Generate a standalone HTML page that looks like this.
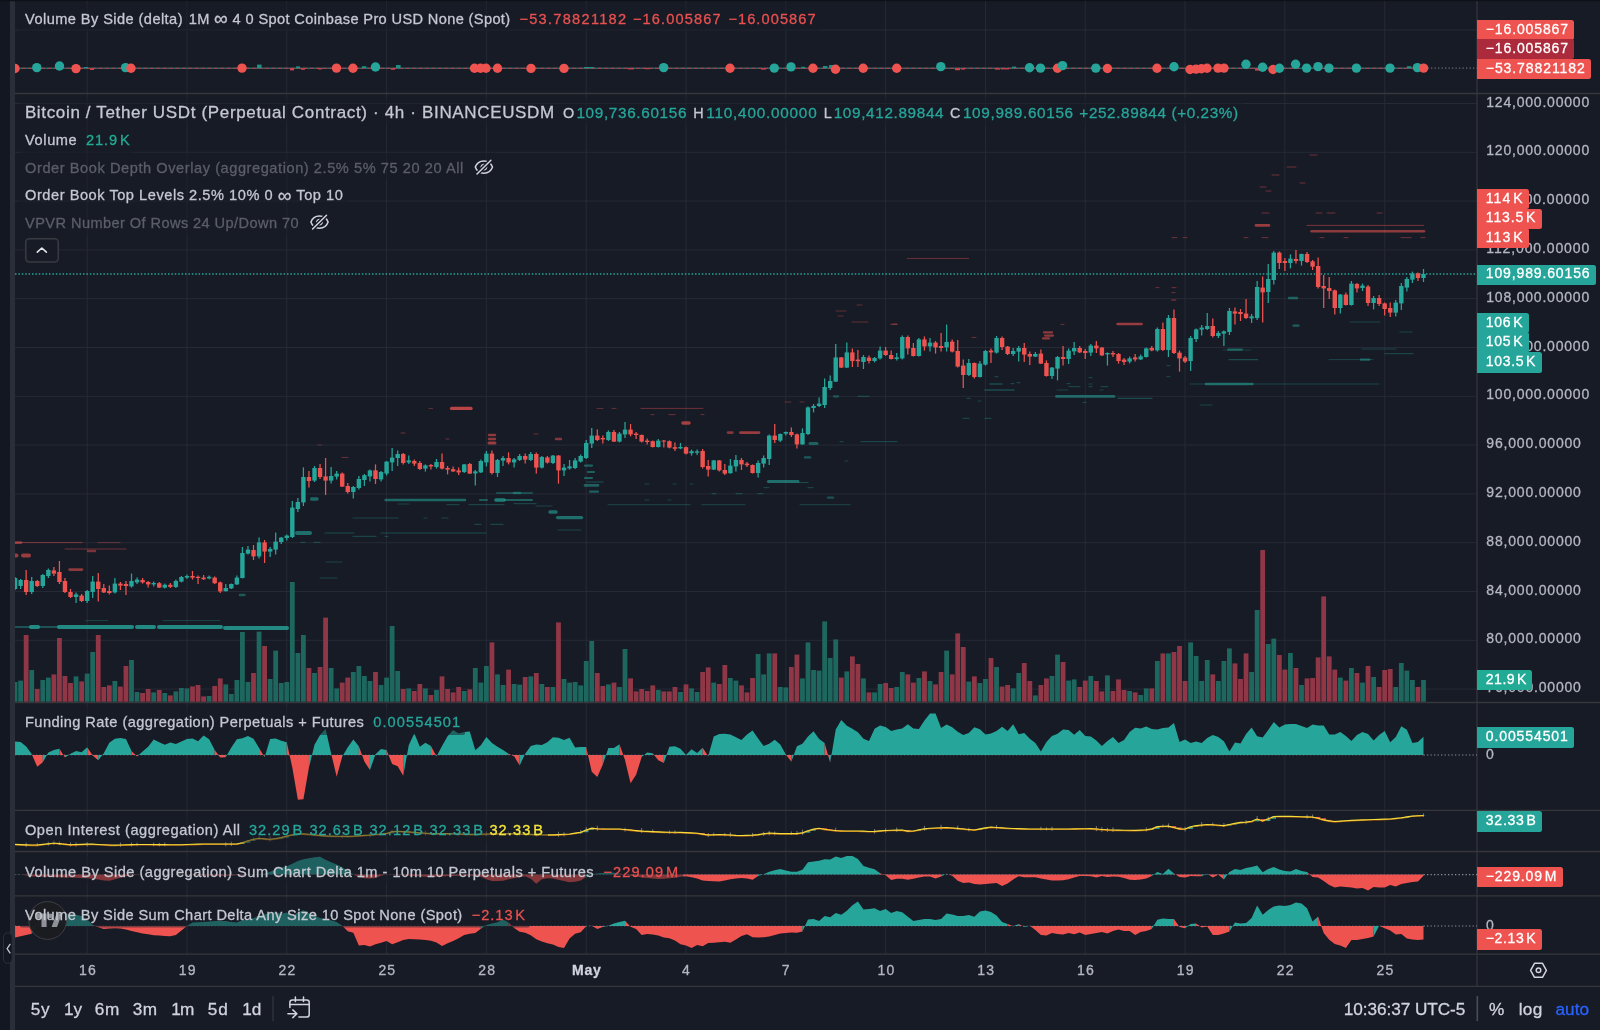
<!DOCTYPE html>
<html><head><meta charset="utf-8"><title>BTCUSDT.P chart</title>
<style>
html,body{margin:0;padding:0;background:#171b26;overflow:hidden;}
#root{position:relative;width:1600px;height:1030px;overflow:hidden;background:#171b26;font-family:"Liberation Sans",sans-serif;}
#root svg{position:absolute;left:0;top:0;}
#labels{position:absolute;left:0;top:0;width:1600px;height:1030px;will-change:transform;}
.tag{position:absolute;border-radius:0 2.5px 2.5px 0;}
.t{position:absolute;white-space:pre;font-family:"Liberation Sans",sans-serif;-webkit-text-stroke:0.3px currentColor;}
</style></head><body>
<div id="root">
<svg width="1600" height="1030" viewBox="0 0 1600 1030">
<rect x="0.00" y="0.00" width="1600.00" height="1030.00" fill="#171b26" />
<rect x="0.00" y="0.00" width="10.00" height="1030.00" fill="#131722" />
<rect x="10.00" y="0.00" width="5.00" height="1030.00" fill="#2a2e39" />
<rect x="0.00" y="0.00" width="1600.00" height="1.20" fill="#0e1118" />
<line x1="87.16" y1="1.00" x2="87.16" y2="954.00" stroke="#262a36" stroke-width="1" />
<line x1="186.97" y1="1.00" x2="186.97" y2="954.00" stroke="#262a36" stroke-width="1" />
<line x1="286.77" y1="1.00" x2="286.77" y2="954.00" stroke="#262a36" stroke-width="1" />
<line x1="386.58" y1="1.00" x2="386.58" y2="954.00" stroke="#262a36" stroke-width="1" />
<line x1="486.39" y1="1.00" x2="486.39" y2="954.00" stroke="#262a36" stroke-width="1" />
<line x1="586.21" y1="1.00" x2="586.21" y2="954.00" stroke="#262a36" stroke-width="1" />
<line x1="686.01" y1="1.00" x2="686.01" y2="954.00" stroke="#262a36" stroke-width="1" />
<line x1="785.83" y1="1.00" x2="785.83" y2="954.00" stroke="#262a36" stroke-width="1" />
<line x1="885.63" y1="1.00" x2="885.63" y2="954.00" stroke="#262a36" stroke-width="1" />
<line x1="985.45" y1="1.00" x2="985.45" y2="954.00" stroke="#262a36" stroke-width="1" />
<line x1="1085.25" y1="1.00" x2="1085.25" y2="954.00" stroke="#262a36" stroke-width="1" />
<line x1="1185.06" y1="1.00" x2="1185.06" y2="954.00" stroke="#262a36" stroke-width="1" />
<line x1="1284.88" y1="1.00" x2="1284.88" y2="954.00" stroke="#262a36" stroke-width="1" />
<line x1="1384.68" y1="1.00" x2="1384.68" y2="954.00" stroke="#262a36" stroke-width="1" />
<line x1="15.00" y1="103.50" x2="1477.00" y2="103.50" stroke="#262a36" stroke-width="1" />
<line x1="15.00" y1="152.30" x2="1477.00" y2="152.30" stroke="#262a36" stroke-width="1" />
<line x1="15.00" y1="201.10" x2="1477.00" y2="201.10" stroke="#262a36" stroke-width="1" />
<line x1="15.00" y1="249.90" x2="1477.00" y2="249.90" stroke="#262a36" stroke-width="1" />
<line x1="15.00" y1="298.70" x2="1477.00" y2="298.70" stroke="#262a36" stroke-width="1" />
<line x1="15.00" y1="347.50" x2="1477.00" y2="347.50" stroke="#262a36" stroke-width="1" />
<line x1="15.00" y1="396.30" x2="1477.00" y2="396.30" stroke="#262a36" stroke-width="1" />
<line x1="15.00" y1="445.10" x2="1477.00" y2="445.10" stroke="#262a36" stroke-width="1" />
<line x1="15.00" y1="493.90" x2="1477.00" y2="493.90" stroke="#262a36" stroke-width="1" />
<line x1="15.00" y1="542.70" x2="1477.00" y2="542.70" stroke="#262a36" stroke-width="1" />
<line x1="15.00" y1="591.50" x2="1477.00" y2="591.50" stroke="#262a36" stroke-width="1" />
<line x1="15.00" y1="640.30" x2="1477.00" y2="640.30" stroke="#262a36" stroke-width="1" />
<line x1="15.00" y1="689.10" x2="1477.00" y2="689.10" stroke="#262a36" stroke-width="1" />
<line x1="15.00" y1="30.00" x2="1477.00" y2="30.00" stroke="#262a36" stroke-width="1" />
<line x1="15.00" y1="93.50" x2="1600.00" y2="93.50" stroke="#37373b" stroke-width="1.3" />
<line x1="15.00" y1="702.50" x2="1600.00" y2="702.50" stroke="#37373b" stroke-width="1.3" />
<line x1="15.00" y1="810.30" x2="1600.00" y2="810.30" stroke="#37373b" stroke-width="1.3" />
<line x1="15.00" y1="851.50" x2="1600.00" y2="851.50" stroke="#37373b" stroke-width="1.3" />
<line x1="15.00" y1="895.80" x2="1600.00" y2="895.80" stroke="#37373b" stroke-width="1.3" />
<line x1="15.00" y1="954.20" x2="1600.00" y2="954.20" stroke="#37373b" stroke-width="1.3" />
<line x1="15.00" y1="986.30" x2="1600.00" y2="986.30" stroke="#37373b" stroke-width="1.3" />
<line x1="1477.00" y1="1.00" x2="1477.00" y2="986.00" stroke="#37373b" stroke-width="1.2" />
<clipPath id="cc"><rect x="15" y="0" width="1462" height="954"/></clipPath><g clip-path="url(#cc)">
<line x1="15.0" y1="627.0" x2="30.0" y2="627.0" stroke="#26a69a" stroke-opacity="0.55" stroke-width="1.6" stroke-linecap="round"/>
<line x1="31.0" y1="627.0" x2="38.0" y2="627.0" stroke="#26a69a" stroke-opacity="0.8" stroke-width="4" stroke-linecap="round"/>
<line x1="39.0" y1="627.0" x2="58.0" y2="627.0" stroke="#26a69a" stroke-opacity="0.55" stroke-width="1.6" stroke-linecap="round"/>
<line x1="59.0" y1="627.0" x2="132.0" y2="627.0" stroke="#26a69a" stroke-opacity="0.8" stroke-width="4" stroke-linecap="round"/>
<line x1="137.0" y1="627.0" x2="154.0" y2="627.0" stroke="#26a69a" stroke-opacity="0.8" stroke-width="4" stroke-linecap="round"/>
<line x1="159.0" y1="627.0" x2="221.0" y2="627.0" stroke="#26a69a" stroke-opacity="0.8" stroke-width="4" stroke-linecap="round"/>
<line x1="225.0" y1="628.0" x2="287.0" y2="628.0" stroke="#26a69a" stroke-opacity="0.8" stroke-width="4" stroke-linecap="round"/>
<line x1="1311.6" y1="231.3" x2="1424.0" y2="231.3" stroke="#ef5350" stroke-opacity="0.55" stroke-width="2.6" stroke-linecap="round"/>
<line x1="1307.0" y1="225.4" x2="1423.6" y2="225.4" stroke="#ef5350" stroke-opacity="0.45" stroke-width="1.0" stroke-linecap="round"/>
<line x1="1256.0" y1="225.4" x2="1269.0" y2="225.4" stroke="#ef5350" stroke-opacity="0.6" stroke-width="2.6" stroke-linecap="round"/>
<line x1="451.6" y1="408.4" x2="471.0" y2="408.4" stroke="#ef5350" stroke-opacity="0.75" stroke-width="3.4" stroke-linecap="round"/>
<line x1="385.6" y1="500.0" x2="465.0" y2="500.0" stroke="#26a69a" stroke-opacity="0.55" stroke-width="2.4" stroke-linecap="round"/>
<line x1="496.0" y1="500.0" x2="504.0" y2="500.0" stroke="#26a69a" stroke-opacity="0.7" stroke-width="3.6" stroke-linecap="round"/>
<line x1="505.0" y1="500.0" x2="532.0" y2="500.0" stroke="#26a69a" stroke-opacity="0.5" stroke-width="2.2" stroke-linecap="round"/>
<line x1="480.0" y1="500.0" x2="487.0" y2="500.0" stroke="#26a69a" stroke-opacity="0.45" stroke-width="2" stroke-linecap="round"/>
<line x1="557.6" y1="517.6" x2="581.6" y2="517.6" stroke="#26a69a" stroke-opacity="0.6" stroke-width="3.4" stroke-linecap="round"/>
<line x1="550.0" y1="512.0" x2="556.0" y2="512.0" stroke="#26a69a" stroke-opacity="0.6" stroke-width="3.4" stroke-linecap="round"/>
<line x1="297.0" y1="533.0" x2="310.0" y2="533.0" stroke="#26a69a" stroke-opacity="0.6" stroke-width="4" stroke-linecap="round"/>
<line x1="325.0" y1="533.0" x2="354.0" y2="533.0" stroke="#26a69a" stroke-opacity="0.35" stroke-width="1.2" stroke-linecap="round"/>
<line x1="381.0" y1="533.0" x2="486.0" y2="533.0" stroke="#26a69a" stroke-opacity="0.35" stroke-width="1.2" stroke-linecap="round"/>
<line x1="768.4" y1="481.6" x2="798.0" y2="481.6" stroke="#26a69a" stroke-opacity="0.6" stroke-width="3" stroke-linecap="round"/>
<line x1="799.0" y1="482.5" x2="808.0" y2="482.5" stroke="#26a69a" stroke-opacity="0.35" stroke-width="1.2" stroke-linecap="round"/>
<line x1="740.4" y1="432.6" x2="759.0" y2="432.6" stroke="#ef5350" stroke-opacity="0.6" stroke-width="2.6" stroke-linecap="round"/>
<line x1="728.0" y1="432.6" x2="732.4" y2="432.6" stroke="#ef5350" stroke-opacity="0.5" stroke-width="2.6" stroke-linecap="round"/>
<line x1="683.0" y1="423.0" x2="689.0" y2="423.0" stroke="#ef5350" stroke-opacity="0.65" stroke-width="3.6" stroke-linecap="round"/>
<line x1="641.0" y1="408.4" x2="703.0" y2="408.4" stroke="#ef5350" stroke-opacity="0.4" stroke-width="1.0" stroke-linecap="round"/>
<line x1="597.0" y1="408.4" x2="603.0" y2="408.4" stroke="#ef5350" stroke-opacity="0.4" stroke-width="1" stroke-linecap="round"/>
<line x1="612.0" y1="408.4" x2="616.0" y2="408.4" stroke="#ef5350" stroke-opacity="0.4" stroke-width="1" stroke-linecap="round"/>
<line x1="585.0" y1="465.6" x2="592.0" y2="465.6" stroke="#26a69a" stroke-opacity="0.5" stroke-width="2.2" stroke-linecap="round"/>
<line x1="588.0" y1="472.0" x2="594.0" y2="472.0" stroke="#26a69a" stroke-opacity="0.5" stroke-width="2.2" stroke-linecap="round"/>
<line x1="585.0" y1="478.0" x2="592.0" y2="478.0" stroke="#26a69a" stroke-opacity="0.5" stroke-width="2.2" stroke-linecap="round"/>
<line x1="587.0" y1="482.0" x2="603.0" y2="482.0" stroke="#26a69a" stroke-opacity="0.4" stroke-width="1.2" stroke-linecap="round"/>
<line x1="585.0" y1="485.4" x2="598.0" y2="485.4" stroke="#26a69a" stroke-opacity="0.5" stroke-width="2.6" stroke-linecap="round"/>
<line x1="590.0" y1="491.6" x2="598.0" y2="491.6" stroke="#26a69a" stroke-opacity="0.5" stroke-width="2.2" stroke-linecap="round"/>
<line x1="1117.6" y1="324.0" x2="1141.6" y2="324.0" stroke="#ef5350" stroke-opacity="0.6" stroke-width="2.6" stroke-linecap="round"/>
<line x1="1044.0" y1="332.4" x2="1052.0" y2="332.4" stroke="#ef5350" stroke-opacity="0.55" stroke-width="2.2" stroke-linecap="round"/>
<line x1="1045.0" y1="335.6" x2="1053.0" y2="335.6" stroke="#ef5350" stroke-opacity="0.55" stroke-width="2.2" stroke-linecap="round"/>
<line x1="1043.0" y1="338.4" x2="1049.0" y2="338.4" stroke="#ef5350" stroke-opacity="0.55" stroke-width="2.2" stroke-linecap="round"/>
<line x1="1056.4" y1="396.4" x2="1114.0" y2="396.4" stroke="#26a69a" stroke-opacity="0.55" stroke-width="2.6" stroke-linecap="round"/>
<line x1="1118.0" y1="398.4" x2="1152.0" y2="398.4" stroke="#26a69a" stroke-opacity="0.35" stroke-width="1.2" stroke-linecap="round"/>
<line x1="985.0" y1="390.0" x2="1014.0" y2="390.0" stroke="#26a69a" stroke-opacity="0.35" stroke-width="1.6" stroke-linecap="round"/>
<line x1="990.0" y1="384.0" x2="1002.0" y2="384.0" stroke="#26a69a" stroke-opacity="0.35" stroke-width="1.4" stroke-linecap="round"/>
<line x1="907.4" y1="258.4" x2="968.6" y2="258.4" stroke="#ef5350" stroke-opacity="0.4" stroke-width="1.0" stroke-linecap="round"/>
<line x1="1206.0" y1="384.0" x2="1252.4" y2="384.0" stroke="#26a69a" stroke-opacity="0.55" stroke-width="2.6" stroke-linecap="round"/>
<line x1="1190.0" y1="384.0" x2="1379.0" y2="384.0" stroke="#26a69a" stroke-opacity="0.3" stroke-width="1.0" stroke-linecap="round"/>
<line x1="1289.0" y1="298.0" x2="1297.0" y2="298.0" stroke="#26a69a" stroke-opacity="0.5" stroke-width="2.4" stroke-linecap="round"/>
<line x1="1293.6" y1="325.6" x2="1298.4" y2="325.6" stroke="#26a69a" stroke-opacity="0.5" stroke-width="2.4" stroke-linecap="round"/>
<line x1="1228.4" y1="349.6" x2="1241.6" y2="349.6" stroke="#26a69a" stroke-opacity="0.5" stroke-width="2.4" stroke-linecap="round"/>
<line x1="1229.0" y1="359.6" x2="1257.6" y2="359.6" stroke="#26a69a" stroke-opacity="0.35" stroke-width="1.2" stroke-linecap="round"/>
<line x1="1361.0" y1="359.6" x2="1369.0" y2="359.6" stroke="#26a69a" stroke-opacity="0.5" stroke-width="2.4" stroke-linecap="round"/>
<line x1="1329.0" y1="359.6" x2="1373.0" y2="359.6" stroke="#26a69a" stroke-opacity="0.3" stroke-width="1.0" stroke-linecap="round"/>
<line x1="15.0" y1="542.6" x2="82.0" y2="542.6" stroke="#ef5350" stroke-opacity="0.45" stroke-width="1.0" stroke-linecap="round"/>
<line x1="98.0" y1="542.6" x2="120.0" y2="542.6" stroke="#ef5350" stroke-opacity="0.35" stroke-width="1" stroke-linecap="round"/>
<line x1="15.0" y1="542.6" x2="21.0" y2="542.6" stroke="#ef5350" stroke-opacity="0.5" stroke-width="2.6" stroke-linecap="round"/>
<line x1="23.0" y1="555.6" x2="29.0" y2="555.6" stroke="#ef5350" stroke-opacity="0.6" stroke-width="4" stroke-linecap="round"/>
<line x1="15.0" y1="555.6" x2="16.5" y2="555.6" stroke="#ef5350" stroke-opacity="0.6" stroke-width="4" stroke-linecap="round"/>
<line x1="65.0" y1="549.0" x2="126.0" y2="549.0" stroke="#ef5350" stroke-opacity="0.4" stroke-width="1.0" stroke-linecap="round"/>
<line x1="88.0" y1="551.0" x2="95.0" y2="551.0" stroke="#ef5350" stroke-opacity="0.45" stroke-width="2.4" stroke-linecap="round"/>
<line x1="69.6" y1="569.6" x2="82.0" y2="569.6" stroke="#ef5350" stroke-opacity="0.55" stroke-width="2.6" stroke-linecap="round"/>
<line x1="311.6" y1="499.0" x2="317.0" y2="499.0" stroke="#26a69a" stroke-opacity="0.55" stroke-width="3.4" stroke-linecap="round"/>
<line x1="240.0" y1="595.0" x2="244.4" y2="595.0" stroke="#26a69a" stroke-opacity="0.45" stroke-width="2.6" stroke-linecap="round"/>
<line x1="489.0" y1="435.0" x2="495.0" y2="435.0" stroke="#ef5350" stroke-opacity="0.55" stroke-width="2.4" stroke-linecap="round"/>
<line x1="489.0" y1="439.0" x2="495.0" y2="439.0" stroke="#ef5350" stroke-opacity="0.55" stroke-width="2.4" stroke-linecap="round"/>
<line x1="489.0" y1="443.0" x2="495.0" y2="443.0" stroke="#ef5350" stroke-opacity="0.6" stroke-width="3" stroke-linecap="round"/>
<line x1="556.0" y1="439.0" x2="561.0" y2="439.0" stroke="#ef5350" stroke-opacity="0.5" stroke-width="2.4" stroke-linecap="round"/>
<line x1="497.0" y1="493.0" x2="532.0" y2="493.0" stroke="#26a69a" stroke-opacity="0.35" stroke-width="2" stroke-linecap="round"/>
<line x1="514.0" y1="493.0" x2="520.0" y2="493.0" stroke="#26a69a" stroke-opacity="0.4" stroke-width="2.6" stroke-linecap="round"/>
<line x1="398.0" y1="504.0" x2="409.0" y2="504.0" stroke="#26a69a" stroke-opacity="0.3" stroke-width="1.2" stroke-linecap="round"/>
<line x1="447.0" y1="504.6" x2="459.0" y2="504.6" stroke="#26a69a" stroke-opacity="0.3" stroke-width="1.2" stroke-linecap="round"/>
<line x1="469.0" y1="504.6" x2="504.0" y2="504.6" stroke="#26a69a" stroke-opacity="0.3" stroke-width="1.2" stroke-linecap="round"/>
<line x1="514.0" y1="503.6" x2="536.0" y2="503.6" stroke="#26a69a" stroke-opacity="0.3" stroke-width="1.2" stroke-linecap="round"/>
<line x1="536.0" y1="506.0" x2="552.0" y2="506.0" stroke="#26a69a" stroke-opacity="0.3" stroke-width="1.2" stroke-linecap="round"/>
<line x1="353.0" y1="518.0" x2="398.0" y2="518.0" stroke="#26a69a" stroke-opacity="0.3" stroke-width="1.2" stroke-linecap="round"/>
<line x1="424.0" y1="518.0" x2="427.0" y2="518.0" stroke="#26a69a" stroke-opacity="0.3" stroke-width="1.2" stroke-linecap="round"/>
<line x1="442.0" y1="518.0" x2="448.0" y2="518.0" stroke="#26a69a" stroke-opacity="0.3" stroke-width="1.2" stroke-linecap="round"/>
<line x1="475.0" y1="524.4" x2="481.0" y2="524.4" stroke="#26a69a" stroke-opacity="0.3" stroke-width="1.2" stroke-linecap="round"/>
<line x1="491.0" y1="524.4" x2="503.0" y2="524.4" stroke="#26a69a" stroke-opacity="0.3" stroke-width="1.2" stroke-linecap="round"/>
<line x1="558.0" y1="530.0" x2="581.0" y2="530.0" stroke="#26a69a" stroke-opacity="0.3" stroke-width="1.2" stroke-linecap="round"/>
<line x1="353.0" y1="536.4" x2="376.0" y2="536.4" stroke="#26a69a" stroke-opacity="0.3" stroke-width="1.2" stroke-linecap="round"/>
<line x1="385.0" y1="536.4" x2="388.0" y2="536.4" stroke="#26a69a" stroke-opacity="0.3" stroke-width="1.2" stroke-linecap="round"/>
<line x1="301.0" y1="542.4" x2="305.0" y2="542.4" stroke="#26a69a" stroke-opacity="0.3" stroke-width="1.2" stroke-linecap="round"/>
<line x1="314.0" y1="542.4" x2="320.0" y2="542.4" stroke="#26a69a" stroke-opacity="0.3" stroke-width="1.2" stroke-linecap="round"/>
<line x1="429.0" y1="408.4" x2="432.4" y2="408.4" stroke="#ef5350" stroke-opacity="0.4" stroke-width="1" stroke-linecap="round"/>
<line x1="401.0" y1="433.0" x2="405.0" y2="433.0" stroke="#ef5350" stroke-opacity="0.4" stroke-width="1" stroke-linecap="round"/>
<line x1="446.0" y1="439.0" x2="449.0" y2="439.0" stroke="#ef5350" stroke-opacity="0.4" stroke-width="1" stroke-linecap="round"/>
<line x1="318.0" y1="445.0" x2="321.6" y2="445.0" stroke="#ef5350" stroke-opacity="0.35" stroke-width="1" stroke-linecap="round"/>
<line x1="342.0" y1="457.4" x2="348.0" y2="457.4" stroke="#ef5350" stroke-opacity="0.4" stroke-width="1" stroke-linecap="round"/>
<line x1="534.0" y1="434.0" x2="538.0" y2="434.0" stroke="#ef5350" stroke-opacity="0.4" stroke-width="1" stroke-linecap="round"/>
<line x1="1156.0" y1="287.6" x2="1159.0" y2="287.6" stroke="#ef5350" stroke-opacity="0.4" stroke-width="1" stroke-linecap="round"/>
<line x1="1172.0" y1="287.6" x2="1176.0" y2="287.6" stroke="#ef5350" stroke-opacity="0.4" stroke-width="1" stroke-linecap="round"/>
<line x1="1172.0" y1="292.6" x2="1175.0" y2="292.6" stroke="#ef5350" stroke-opacity="0.4" stroke-width="1" stroke-linecap="round"/>
<line x1="1172.0" y1="300.0" x2="1175.6" y2="300.0" stroke="#ef5350" stroke-opacity="0.4" stroke-width="1.6" stroke-linecap="round"/>
<line x1="891.0" y1="324.4" x2="897.0" y2="324.4" stroke="#ef5350" stroke-opacity="0.4" stroke-width="1.4" stroke-linecap="round"/>
<line x1="972.0" y1="337.4" x2="976.0" y2="337.4" stroke="#ef5350" stroke-opacity="0.4" stroke-width="1" stroke-linecap="round"/>
<line x1="1061.0" y1="324.4" x2="1064.0" y2="324.4" stroke="#ef5350" stroke-opacity="0.4" stroke-width="1" stroke-linecap="round"/>
<line x1="1167.0" y1="365.6" x2="1170.0" y2="365.6" stroke="#26a69a" stroke-opacity="0.3" stroke-width="1.2" stroke-linecap="round"/>
<line x1="1167.0" y1="376.6" x2="1170.0" y2="376.6" stroke="#26a69a" stroke-opacity="0.3" stroke-width="1.2" stroke-linecap="round"/>
<line x1="995.0" y1="376.6" x2="998.0" y2="376.6" stroke="#26a69a" stroke-opacity="0.3" stroke-width="1.2" stroke-linecap="round"/>
<line x1="1011.0" y1="383.6" x2="1014.0" y2="383.6" stroke="#26a69a" stroke-opacity="0.3" stroke-width="1.2" stroke-linecap="round"/>
<line x1="1017.0" y1="382.6" x2="1020.0" y2="382.6" stroke="#26a69a" stroke-opacity="0.3" stroke-width="1.2" stroke-linecap="round"/>
<line x1="1089.0" y1="377.6" x2="1092.0" y2="377.6" stroke="#26a69a" stroke-opacity="0.3" stroke-width="1.2" stroke-linecap="round"/>
<line x1="1067.0" y1="383.6" x2="1070.0" y2="383.6" stroke="#26a69a" stroke-opacity="0.3" stroke-width="1.2" stroke-linecap="round"/>
<line x1="1069.0" y1="386.6" x2="1080.0" y2="386.6" stroke="#26a69a" stroke-opacity="0.3" stroke-width="1.2" stroke-linecap="round"/>
<line x1="1089.0" y1="384.0" x2="1092.0" y2="384.0" stroke="#26a69a" stroke-opacity="0.3" stroke-width="1.2" stroke-linecap="round"/>
<line x1="1089.0" y1="386.6" x2="1092.0" y2="386.6" stroke="#26a69a" stroke-opacity="0.3" stroke-width="1.2" stroke-linecap="round"/>
<line x1="1101.0" y1="386.6" x2="1108.0" y2="386.6" stroke="#26a69a" stroke-opacity="0.3" stroke-width="1.2" stroke-linecap="round"/>
<line x1="1057.0" y1="390.0" x2="1068.0" y2="390.0" stroke="#26a69a" stroke-opacity="0.3" stroke-width="1.2" stroke-linecap="round"/>
<line x1="1100.0" y1="390.0" x2="1103.0" y2="390.0" stroke="#26a69a" stroke-opacity="0.3" stroke-width="1.2" stroke-linecap="round"/>
<line x1="1083.0" y1="402.4" x2="1086.0" y2="402.4" stroke="#26a69a" stroke-opacity="0.3" stroke-width="1.2" stroke-linecap="round"/>
<line x1="967.0" y1="398.4" x2="970.0" y2="398.4" stroke="#26a69a" stroke-opacity="0.3" stroke-width="1.2" stroke-linecap="round"/>
<line x1="978.0" y1="401.0" x2="981.0" y2="401.0" stroke="#26a69a" stroke-opacity="0.3" stroke-width="1.2" stroke-linecap="round"/>
<line x1="963.0" y1="418.4" x2="969.0" y2="418.4" stroke="#26a69a" stroke-opacity="0.3" stroke-width="1.2" stroke-linecap="round"/>
<line x1="985.0" y1="418.4" x2="991.0" y2="418.4" stroke="#26a69a" stroke-opacity="0.3" stroke-width="1.2" stroke-linecap="round"/>
<line x1="810.0" y1="443.6" x2="817.0" y2="443.6" stroke="#26a69a" stroke-opacity="0.5" stroke-width="3" stroke-linecap="round"/>
<line x1="805.0" y1="457.4" x2="810.0" y2="457.4" stroke="#26a69a" stroke-opacity="0.45" stroke-width="2.4" stroke-linecap="round"/>
<line x1="845.0" y1="461.0" x2="848.0" y2="461.0" stroke="#26a69a" stroke-opacity="0.3" stroke-width="1.2" stroke-linecap="round"/>
<line x1="828.0" y1="497.6" x2="833.0" y2="497.6" stroke="#26a69a" stroke-opacity="0.4" stroke-width="2.4" stroke-linecap="round"/>
<line x1="840.0" y1="441.6" x2="843.0" y2="441.6" stroke="#26a69a" stroke-opacity="0.3" stroke-width="1.2" stroke-linecap="round"/>
<line x1="834.0" y1="396.4" x2="838.0" y2="396.4" stroke="#26a69a" stroke-opacity="0.4" stroke-width="2.2" stroke-linecap="round"/>
<line x1="858.0" y1="396.4" x2="869.0" y2="396.4" stroke="#26a69a" stroke-opacity="0.3" stroke-width="1.2" stroke-linecap="round"/>
<line x1="764.0" y1="487.6" x2="769.0" y2="487.6" stroke="#26a69a" stroke-opacity="0.3" stroke-width="1.2" stroke-linecap="round"/>
<line x1="808.0" y1="487.6" x2="813.0" y2="487.6" stroke="#26a69a" stroke-opacity="0.3" stroke-width="1.2" stroke-linecap="round"/>
<line x1="712.0" y1="493.6" x2="716.0" y2="493.6" stroke="#26a69a" stroke-opacity="0.3" stroke-width="1.2" stroke-linecap="round"/>
<line x1="736.0" y1="493.6" x2="742.0" y2="493.6" stroke="#26a69a" stroke-opacity="0.3" stroke-width="1.2" stroke-linecap="round"/>
<line x1="758.0" y1="493.6" x2="763.0" y2="493.6" stroke="#26a69a" stroke-opacity="0.3" stroke-width="1.2" stroke-linecap="round"/>
<line x1="645.0" y1="500.0" x2="649.0" y2="500.0" stroke="#26a69a" stroke-opacity="0.3" stroke-width="1.2" stroke-linecap="round"/>
<line x1="668.0" y1="500.0" x2="671.0" y2="500.0" stroke="#26a69a" stroke-opacity="0.3" stroke-width="1.2" stroke-linecap="round"/>
<line x1="651.0" y1="414.6" x2="654.0" y2="414.6" stroke="#ef5350" stroke-opacity="0.4" stroke-width="1" stroke-linecap="round"/>
<line x1="669.0" y1="414.6" x2="675.0" y2="414.6" stroke="#ef5350" stroke-opacity="0.4" stroke-width="1" stroke-linecap="round"/>
<line x1="701.0" y1="414.6" x2="704.0" y2="414.6" stroke="#ef5350" stroke-opacity="0.4" stroke-width="1" stroke-linecap="round"/>
<line x1="608.0" y1="504.6" x2="690.0" y2="504.6" stroke="#26a69a" stroke-opacity="0.25" stroke-width="1.2" stroke-linecap="round"/>
<line x1="702.0" y1="504.6" x2="745.0" y2="504.6" stroke="#26a69a" stroke-opacity="0.25" stroke-width="1.2" stroke-linecap="round"/>
<line x1="800.0" y1="504.6" x2="850.0" y2="504.6" stroke="#26a69a" stroke-opacity="0.25" stroke-width="1.2" stroke-linecap="round"/>
<line x1="320.0" y1="578.0" x2="337.0" y2="578.0" stroke="#26a69a" stroke-opacity="0.3" stroke-width="1" stroke-linecap="round"/>
<line x1="326.0" y1="562.0" x2="342.0" y2="562.0" stroke="#26a69a" stroke-opacity="0.3" stroke-width="1" stroke-linecap="round"/>
<line x1="163.0" y1="620.6" x2="220.0" y2="620.6" stroke="#26a69a" stroke-opacity="0.3" stroke-width="1.0" stroke-linecap="round"/>
<line x1="86.0" y1="620.6" x2="108.0" y2="620.6" stroke="#26a69a" stroke-opacity="0.3" stroke-width="1" stroke-linecap="round"/>
<line x1="1350.0" y1="322.0" x2="1380.0" y2="322.0" stroke="#26a69a" stroke-opacity="0.3" stroke-width="1.2" stroke-linecap="round"/>
<line x1="1400.0" y1="332.0" x2="1412.0" y2="332.0" stroke="#26a69a" stroke-opacity="0.3" stroke-width="1.2" stroke-linecap="round"/>
<line x1="1362.0" y1="349.0" x2="1396.0" y2="349.0" stroke="#26a69a" stroke-opacity="0.3" stroke-width="1.2" stroke-linecap="round"/>
<line x1="1385.0" y1="353.6" x2="1413.0" y2="353.6" stroke="#26a69a" stroke-opacity="0.3" stroke-width="1.2" stroke-linecap="round"/>
<line x1="1200.0" y1="405.0" x2="1212.0" y2="405.0" stroke="#26a69a" stroke-opacity="0.3" stroke-width="1.2" stroke-linecap="round"/>
<line x1="1223.0" y1="350.0" x2="1251.0" y2="350.0" stroke="#26a69a" stroke-opacity="0.25" stroke-width="1.0" stroke-linecap="round"/>
<line x1="1310.0" y1="155.0" x2="1317.0" y2="155.0" stroke="#ef5350" stroke-opacity="0.4" stroke-width="1" stroke-linecap="round"/>
<line x1="1287.0" y1="167.0" x2="1296.0" y2="167.0" stroke="#ef5350" stroke-opacity="0.4" stroke-width="1" stroke-linecap="round"/>
<line x1="1272.0" y1="175.0" x2="1279.0" y2="175.0" stroke="#ef5350" stroke-opacity="0.4" stroke-width="1" stroke-linecap="round"/>
<line x1="1300.0" y1="183.0" x2="1305.0" y2="183.0" stroke="#ef5350" stroke-opacity="0.4" stroke-width="1" stroke-linecap="round"/>
<line x1="1260.0" y1="187.0" x2="1266.0" y2="187.0" stroke="#ef5350" stroke-opacity="0.4" stroke-width="1" stroke-linecap="round"/>
<line x1="1266.0" y1="191.0" x2="1271.0" y2="191.0" stroke="#ef5350" stroke-opacity="0.4" stroke-width="1" stroke-linecap="round"/>
<line x1="1262.0" y1="213.0" x2="1269.0" y2="213.0" stroke="#ef5350" stroke-opacity="0.4" stroke-width="1" stroke-linecap="round"/>
<line x1="1316.0" y1="213.0" x2="1322.0" y2="213.0" stroke="#ef5350" stroke-opacity="0.4" stroke-width="1" stroke-linecap="round"/>
<line x1="1327.0" y1="213.0" x2="1335.0" y2="213.0" stroke="#ef5350" stroke-opacity="0.4" stroke-width="1" stroke-linecap="round"/>
<line x1="1377.0" y1="213.0" x2="1382.0" y2="213.0" stroke="#ef5350" stroke-opacity="0.4" stroke-width="1" stroke-linecap="round"/>
<line x1="1172.0" y1="237.6" x2="1177.0" y2="237.6" stroke="#ef5350" stroke-opacity="0.4" stroke-width="1" stroke-linecap="round"/>
<line x1="1183.0" y1="237.6" x2="1187.0" y2="237.6" stroke="#ef5350" stroke-opacity="0.4" stroke-width="1" stroke-linecap="round"/>
<line x1="1244.0" y1="237.6" x2="1248.0" y2="237.6" stroke="#ef5350" stroke-opacity="0.4" stroke-width="1" stroke-linecap="round"/>
<line x1="1262.0" y1="237.6" x2="1268.0" y2="237.6" stroke="#ef5350" stroke-opacity="0.4" stroke-width="1" stroke-linecap="round"/>
<line x1="1320.0" y1="237.6" x2="1324.0" y2="237.6" stroke="#ef5350" stroke-opacity="0.4" stroke-width="1" stroke-linecap="round"/>
<line x1="1344.0" y1="237.6" x2="1348.0" y2="237.6" stroke="#ef5350" stroke-opacity="0.4" stroke-width="1" stroke-linecap="round"/>
<line x1="1401.0" y1="237.6" x2="1411.0" y2="237.6" stroke="#ef5350" stroke-opacity="0.4" stroke-width="1" stroke-linecap="round"/>
<line x1="1421.0" y1="237.6" x2="1425.0" y2="237.6" stroke="#ef5350" stroke-opacity="0.4" stroke-width="1" stroke-linecap="round"/>
<line x1="836.0" y1="311.0" x2="846.0" y2="311.0" stroke="#ef5350" stroke-opacity="0.35" stroke-width="1" stroke-linecap="round"/>
<line x1="857.0" y1="305.0" x2="862.0" y2="305.0" stroke="#ef5350" stroke-opacity="0.35" stroke-width="1" stroke-linecap="round"/>
<line x1="838.0" y1="316.0" x2="843.0" y2="316.0" stroke="#ef5350" stroke-opacity="0.35" stroke-width="1" stroke-linecap="round"/>
<line x1="852.0" y1="322.0" x2="868.0" y2="322.0" stroke="#ef5350" stroke-opacity="0.35" stroke-width="1" stroke-linecap="round"/>
<line x1="893.0" y1="324.0" x2="897.0" y2="324.0" stroke="#ef5350" stroke-opacity="0.35" stroke-width="1" stroke-linecap="round"/>
<line x1="785.0" y1="402.0" x2="791.0" y2="402.0" stroke="#ef5350" stroke-opacity="0.35" stroke-width="1" stroke-linecap="round"/>
<line x1="800.0" y1="402.0" x2="804.0" y2="402.0" stroke="#ef5350" stroke-opacity="0.35" stroke-width="1" stroke-linecap="round"/>
<line x1="645.0" y1="484.0" x2="649.0" y2="484.0" stroke="#26a69a" stroke-opacity="0.3" stroke-width="1.2" stroke-linecap="round"/>
<line x1="673.0" y1="484.0" x2="676.0" y2="484.0" stroke="#26a69a" stroke-opacity="0.3" stroke-width="1.2" stroke-linecap="round"/>
<line x1="690.0" y1="484.0" x2="693.0" y2="484.0" stroke="#26a69a" stroke-opacity="0.3" stroke-width="1.2" stroke-linecap="round"/>
<line x1="861.0" y1="441.6" x2="897.0" y2="441.6" stroke="#26a69a" stroke-opacity="0.3" stroke-width="1.2" stroke-linecap="round"/>
<rect x="12.67" y="682.00" width="4.80" height="19.70" fill="#1d675f" />
<rect x="18.22" y="680.60" width="4.80" height="21.10" fill="#1d675f" />
<rect x="23.76" y="635.00" width="4.80" height="66.70" fill="#8f3746" />
<rect x="29.30" y="670.00" width="4.80" height="31.70" fill="#1d675f" />
<rect x="34.85" y="689.00" width="4.80" height="12.70" fill="#8f3746" />
<rect x="40.40" y="680.00" width="4.80" height="21.70" fill="#1d675f" />
<rect x="45.94" y="677.60" width="4.80" height="24.10" fill="#1d675f" />
<rect x="51.48" y="674.40" width="4.80" height="27.30" fill="#8f3746" />
<rect x="57.03" y="638.00" width="4.80" height="63.70" fill="#8f3746" />
<rect x="62.57" y="676.00" width="4.80" height="25.70" fill="#8f3746" />
<rect x="68.12" y="683.00" width="4.80" height="18.70" fill="#8f3746" />
<rect x="73.66" y="676.40" width="4.80" height="25.30" fill="#1d675f" />
<rect x="79.21" y="681.40" width="4.80" height="20.30" fill="#8f3746" />
<rect x="84.75" y="673.60" width="4.80" height="28.10" fill="#1d675f" />
<rect x="90.30" y="652.00" width="4.80" height="49.70" fill="#1d675f" />
<rect x="95.84" y="635.00" width="4.80" height="66.70" fill="#8f3746" />
<rect x="101.39" y="687.00" width="4.80" height="14.70" fill="#8f3746" />
<rect x="106.94" y="685.40" width="4.80" height="16.30" fill="#8f3746" />
<rect x="112.48" y="681.00" width="4.80" height="20.70" fill="#1d675f" />
<rect x="118.03" y="686.60" width="4.80" height="15.10" fill="#8f3746" />
<rect x="123.57" y="666.00" width="4.80" height="35.70" fill="#8f3746" />
<rect x="129.11" y="660.00" width="4.80" height="41.70" fill="#1d675f" />
<rect x="134.66" y="692.00" width="4.80" height="9.70" fill="#1d675f" />
<rect x="140.20" y="693.00" width="4.80" height="8.70" fill="#8f3746" />
<rect x="145.75" y="689.00" width="4.80" height="12.70" fill="#8f3746" />
<rect x="151.29" y="692.40" width="4.80" height="9.30" fill="#1d675f" />
<rect x="156.84" y="690.00" width="4.80" height="11.70" fill="#8f3746" />
<rect x="162.38" y="693.00" width="4.80" height="8.70" fill="#1d675f" />
<rect x="167.93" y="695.40" width="4.80" height="6.30" fill="#8f3746" />
<rect x="173.47" y="691.40" width="4.80" height="10.30" fill="#1d675f" />
<rect x="179.02" y="688.00" width="4.80" height="13.70" fill="#1d675f" />
<rect x="184.56" y="688.40" width="4.80" height="13.30" fill="#1d675f" />
<rect x="190.11" y="686.40" width="4.80" height="15.30" fill="#8f3746" />
<rect x="195.65" y="685.00" width="4.80" height="16.70" fill="#8f3746" />
<rect x="201.20" y="696.40" width="4.80" height="5.30" fill="#8f3746" />
<rect x="206.74" y="696.00" width="4.80" height="5.70" fill="#1d675f" />
<rect x="212.29" y="686.00" width="4.80" height="15.70" fill="#8f3746" />
<rect x="217.83" y="678.40" width="4.80" height="23.30" fill="#8f3746" />
<rect x="223.38" y="684.40" width="4.80" height="17.30" fill="#1d675f" />
<rect x="228.92" y="694.00" width="4.80" height="7.70" fill="#1d675f" />
<rect x="234.47" y="680.00" width="4.80" height="21.70" fill="#1d675f" />
<rect x="240.01" y="632.00" width="4.80" height="69.70" fill="#1d675f" />
<rect x="245.56" y="682.00" width="4.80" height="19.70" fill="#1d675f" />
<rect x="251.10" y="673.00" width="4.80" height="28.70" fill="#8f3746" />
<rect x="256.65" y="631.60" width="4.80" height="70.10" fill="#1d675f" />
<rect x="262.20" y="646.00" width="4.80" height="55.70" fill="#8f3746" />
<rect x="267.74" y="679.00" width="4.80" height="22.70" fill="#1d675f" />
<rect x="273.29" y="650.60" width="4.80" height="51.10" fill="#1d675f" />
<rect x="278.83" y="683.00" width="4.80" height="18.70" fill="#1d675f" />
<rect x="284.38" y="682.00" width="4.80" height="19.70" fill="#1d675f" />
<rect x="289.92" y="582.00" width="4.80" height="119.70" fill="#1d675f" />
<rect x="295.47" y="653.00" width="4.80" height="48.70" fill="#1d675f" />
<rect x="301.01" y="635.00" width="4.80" height="66.70" fill="#1d675f" />
<rect x="306.56" y="668.00" width="4.80" height="33.70" fill="#8f3746" />
<rect x="312.10" y="673.00" width="4.80" height="28.70" fill="#1d675f" />
<rect x="317.65" y="667.00" width="4.80" height="34.70" fill="#8f3746" />
<rect x="323.19" y="617.60" width="4.80" height="84.10" fill="#8f3746" />
<rect x="328.74" y="668.00" width="4.80" height="33.70" fill="#1d675f" />
<rect x="334.28" y="688.40" width="4.80" height="13.30" fill="#1d675f" />
<rect x="339.82" y="682.60" width="4.80" height="19.10" fill="#8f3746" />
<rect x="345.37" y="677.60" width="4.80" height="24.10" fill="#8f3746" />
<rect x="350.92" y="672.00" width="4.80" height="29.70" fill="#1d675f" />
<rect x="356.46" y="666.00" width="4.80" height="35.70" fill="#1d675f" />
<rect x="362.00" y="676.00" width="4.80" height="25.70" fill="#1d675f" />
<rect x="367.55" y="681.00" width="4.80" height="20.70" fill="#1d675f" />
<rect x="373.10" y="672.00" width="4.80" height="29.70" fill="#8f3746" />
<rect x="378.64" y="685.00" width="4.80" height="16.70" fill="#1d675f" />
<rect x="384.19" y="677.60" width="4.80" height="24.10" fill="#1d675f" />
<rect x="389.73" y="626.00" width="4.80" height="75.70" fill="#1d675f" />
<rect x="395.28" y="671.00" width="4.80" height="30.70" fill="#1d675f" />
<rect x="400.82" y="689.00" width="4.80" height="12.70" fill="#8f3746" />
<rect x="406.37" y="688.40" width="4.80" height="13.30" fill="#1d675f" />
<rect x="411.91" y="691.00" width="4.80" height="10.70" fill="#8f3746" />
<rect x="417.45" y="684.00" width="4.80" height="17.70" fill="#8f3746" />
<rect x="423.00" y="688.40" width="4.80" height="13.30" fill="#1d675f" />
<rect x="428.55" y="695.00" width="4.80" height="6.70" fill="#8f3746" />
<rect x="434.09" y="690.00" width="4.80" height="11.70" fill="#1d675f" />
<rect x="439.63" y="676.40" width="4.80" height="25.30" fill="#8f3746" />
<rect x="445.18" y="689.00" width="4.80" height="12.70" fill="#8f3746" />
<rect x="450.73" y="692.40" width="4.80" height="9.30" fill="#8f3746" />
<rect x="456.27" y="687.00" width="4.80" height="14.70" fill="#8f3746" />
<rect x="461.81" y="691.00" width="4.80" height="10.70" fill="#1d675f" />
<rect x="467.36" y="689.40" width="4.80" height="12.30" fill="#8f3746" />
<rect x="472.91" y="668.00" width="4.80" height="33.70" fill="#1d675f" />
<rect x="478.45" y="682.60" width="4.80" height="19.10" fill="#1d675f" />
<rect x="484.00" y="666.00" width="4.80" height="35.70" fill="#1d675f" />
<rect x="489.54" y="642.40" width="4.80" height="59.30" fill="#8f3746" />
<rect x="495.09" y="674.40" width="4.80" height="27.30" fill="#1d675f" />
<rect x="500.63" y="685.00" width="4.80" height="16.70" fill="#1d675f" />
<rect x="506.18" y="669.60" width="4.80" height="32.10" fill="#8f3746" />
<rect x="511.72" y="684.00" width="4.80" height="17.70" fill="#1d675f" />
<rect x="517.26" y="684.60" width="4.80" height="17.10" fill="#1d675f" />
<rect x="522.81" y="677.00" width="4.80" height="24.70" fill="#8f3746" />
<rect x="528.36" y="676.40" width="4.80" height="25.30" fill="#1d675f" />
<rect x="533.90" y="673.00" width="4.80" height="28.70" fill="#8f3746" />
<rect x="539.45" y="684.00" width="4.80" height="17.70" fill="#1d675f" />
<rect x="544.99" y="687.00" width="4.80" height="14.70" fill="#8f3746" />
<rect x="550.54" y="687.00" width="4.80" height="14.70" fill="#1d675f" />
<rect x="556.08" y="622.40" width="4.80" height="79.30" fill="#8f3746" />
<rect x="561.63" y="679.00" width="4.80" height="22.70" fill="#1d675f" />
<rect x="567.17" y="682.60" width="4.80" height="19.10" fill="#1d675f" />
<rect x="572.72" y="682.00" width="4.80" height="19.70" fill="#1d675f" />
<rect x="578.26" y="685.40" width="4.80" height="16.30" fill="#1d675f" />
<rect x="583.81" y="661.00" width="4.80" height="40.70" fill="#1d675f" />
<rect x="589.35" y="641.00" width="4.80" height="60.70" fill="#1d675f" />
<rect x="594.90" y="673.00" width="4.80" height="28.70" fill="#8f3746" />
<rect x="600.44" y="686.00" width="4.80" height="15.70" fill="#8f3746" />
<rect x="605.99" y="684.40" width="4.80" height="17.30" fill="#1d675f" />
<rect x="611.53" y="682.60" width="4.80" height="19.10" fill="#8f3746" />
<rect x="617.08" y="687.00" width="4.80" height="14.70" fill="#1d675f" />
<rect x="622.62" y="649.00" width="4.80" height="52.70" fill="#1d675f" />
<rect x="628.17" y="678.40" width="4.80" height="23.30" fill="#8f3746" />
<rect x="633.71" y="691.40" width="4.80" height="10.30" fill="#8f3746" />
<rect x="639.26" y="689.00" width="4.80" height="12.70" fill="#8f3746" />
<rect x="644.80" y="691.00" width="4.80" height="10.70" fill="#8f3746" />
<rect x="650.35" y="685.40" width="4.80" height="16.30" fill="#8f3746" />
<rect x="655.89" y="690.00" width="4.80" height="11.70" fill="#1d675f" />
<rect x="661.44" y="691.40" width="4.80" height="10.30" fill="#8f3746" />
<rect x="666.98" y="691.40" width="4.80" height="10.30" fill="#8f3746" />
<rect x="672.53" y="687.00" width="4.80" height="14.70" fill="#8f3746" />
<rect x="678.07" y="692.00" width="4.80" height="9.70" fill="#1d675f" />
<rect x="683.62" y="684.40" width="4.80" height="17.30" fill="#8f3746" />
<rect x="689.16" y="688.40" width="4.80" height="13.30" fill="#1d675f" />
<rect x="694.71" y="692.00" width="4.80" height="9.70" fill="#1d675f" />
<rect x="700.25" y="672.00" width="4.80" height="29.70" fill="#8f3746" />
<rect x="705.80" y="667.40" width="4.80" height="34.30" fill="#8f3746" />
<rect x="711.34" y="682.60" width="4.80" height="19.10" fill="#1d675f" />
<rect x="716.89" y="684.00" width="4.80" height="17.70" fill="#8f3746" />
<rect x="722.43" y="665.00" width="4.80" height="36.70" fill="#8f3746" />
<rect x="727.98" y="678.00" width="4.80" height="23.70" fill="#1d675f" />
<rect x="733.52" y="680.60" width="4.80" height="21.10" fill="#1d675f" />
<rect x="739.07" y="685.40" width="4.80" height="16.30" fill="#8f3746" />
<rect x="744.61" y="692.40" width="4.80" height="9.30" fill="#8f3746" />
<rect x="750.16" y="678.00" width="4.80" height="23.70" fill="#8f3746" />
<rect x="755.70" y="654.00" width="4.80" height="47.70" fill="#1d675f" />
<rect x="761.25" y="674.40" width="4.80" height="27.30" fill="#1d675f" />
<rect x="766.79" y="653.40" width="4.80" height="48.30" fill="#1d675f" />
<rect x="772.34" y="653.40" width="4.80" height="48.30" fill="#8f3746" />
<rect x="777.88" y="687.00" width="4.80" height="14.70" fill="#1d675f" />
<rect x="783.43" y="687.40" width="4.80" height="14.30" fill="#1d675f" />
<rect x="788.97" y="667.00" width="4.80" height="34.70" fill="#8f3746" />
<rect x="794.52" y="654.60" width="4.80" height="47.10" fill="#8f3746" />
<rect x="800.06" y="678.40" width="4.80" height="23.30" fill="#1d675f" />
<rect x="805.61" y="642.40" width="4.80" height="59.30" fill="#1d675f" />
<rect x="811.15" y="670.00" width="4.80" height="31.70" fill="#1d675f" />
<rect x="816.70" y="670.60" width="4.80" height="31.10" fill="#1d675f" />
<rect x="822.24" y="621.40" width="4.80" height="80.30" fill="#1d675f" />
<rect x="827.79" y="658.00" width="4.80" height="43.70" fill="#1d675f" />
<rect x="833.33" y="639.40" width="4.80" height="62.30" fill="#1d675f" />
<rect x="838.88" y="677.60" width="4.80" height="24.10" fill="#8f3746" />
<rect x="844.42" y="671.40" width="4.80" height="30.30" fill="#1d675f" />
<rect x="849.97" y="656.40" width="4.80" height="45.30" fill="#8f3746" />
<rect x="855.51" y="664.00" width="4.80" height="37.70" fill="#8f3746" />
<rect x="861.06" y="678.40" width="4.80" height="23.30" fill="#1d675f" />
<rect x="866.60" y="692.40" width="4.80" height="9.30" fill="#8f3746" />
<rect x="872.15" y="692.40" width="4.80" height="9.30" fill="#1d675f" />
<rect x="877.69" y="684.00" width="4.80" height="17.70" fill="#1d675f" />
<rect x="883.24" y="683.00" width="4.80" height="18.70" fill="#8f3746" />
<rect x="888.78" y="688.00" width="4.80" height="13.70" fill="#8f3746" />
<rect x="894.33" y="687.00" width="4.80" height="14.70" fill="#1d675f" />
<rect x="899.87" y="672.00" width="4.80" height="29.70" fill="#1d675f" />
<rect x="905.42" y="674.40" width="4.80" height="27.30" fill="#8f3746" />
<rect x="910.96" y="682.60" width="4.80" height="19.10" fill="#8f3746" />
<rect x="916.51" y="678.00" width="4.80" height="23.70" fill="#1d675f" />
<rect x="922.05" y="671.40" width="4.80" height="30.30" fill="#8f3746" />
<rect x="927.60" y="681.00" width="4.80" height="20.70" fill="#1d675f" />
<rect x="933.14" y="684.40" width="4.80" height="17.30" fill="#8f3746" />
<rect x="938.69" y="672.00" width="4.80" height="29.70" fill="#8f3746" />
<rect x="944.23" y="650.60" width="4.80" height="51.10" fill="#1d675f" />
<rect x="949.78" y="674.40" width="4.80" height="27.30" fill="#8f3746" />
<rect x="955.32" y="633.40" width="4.80" height="68.30" fill="#8f3746" />
<rect x="960.87" y="647.00" width="4.80" height="54.70" fill="#8f3746" />
<rect x="966.41" y="681.60" width="4.80" height="20.10" fill="#1d675f" />
<rect x="971.96" y="676.40" width="4.80" height="25.30" fill="#8f3746" />
<rect x="977.50" y="683.00" width="4.80" height="18.70" fill="#1d675f" />
<rect x="983.05" y="679.00" width="4.80" height="22.70" fill="#1d675f" />
<rect x="988.59" y="658.00" width="4.80" height="43.70" fill="#8f3746" />
<rect x="994.14" y="667.00" width="4.80" height="34.70" fill="#1d675f" />
<rect x="999.68" y="686.60" width="4.80" height="15.10" fill="#8f3746" />
<rect x="1005.23" y="685.00" width="4.80" height="16.70" fill="#8f3746" />
<rect x="1010.77" y="688.40" width="4.80" height="13.30" fill="#1d675f" />
<rect x="1016.32" y="673.00" width="4.80" height="28.70" fill="#1d675f" />
<rect x="1021.86" y="663.00" width="4.80" height="38.70" fill="#8f3746" />
<rect x="1027.40" y="681.00" width="4.80" height="20.70" fill="#8f3746" />
<rect x="1032.95" y="695.40" width="4.80" height="6.30" fill="#1d675f" />
<rect x="1038.49" y="685.00" width="4.80" height="16.70" fill="#8f3746" />
<rect x="1044.04" y="678.40" width="4.80" height="23.30" fill="#8f3746" />
<rect x="1049.58" y="676.00" width="4.80" height="25.70" fill="#1d675f" />
<rect x="1055.13" y="654.60" width="4.80" height="47.10" fill="#1d675f" />
<rect x="1060.67" y="662.00" width="4.80" height="39.70" fill="#8f3746" />
<rect x="1066.22" y="680.60" width="4.80" height="21.10" fill="#1d675f" />
<rect x="1071.76" y="679.40" width="4.80" height="22.30" fill="#1d675f" />
<rect x="1077.31" y="687.00" width="4.80" height="14.70" fill="#8f3746" />
<rect x="1082.85" y="680.60" width="4.80" height="21.10" fill="#8f3746" />
<rect x="1088.40" y="676.00" width="4.80" height="25.70" fill="#1d675f" />
<rect x="1093.94" y="681.00" width="4.80" height="20.70" fill="#8f3746" />
<rect x="1099.49" y="691.40" width="4.80" height="10.30" fill="#8f3746" />
<rect x="1105.03" y="675.40" width="4.80" height="26.30" fill="#1d675f" />
<rect x="1110.58" y="691.00" width="4.80" height="10.70" fill="#8f3746" />
<rect x="1116.12" y="679.40" width="4.80" height="22.30" fill="#8f3746" />
<rect x="1121.67" y="690.00" width="4.80" height="11.70" fill="#8f3746" />
<rect x="1127.21" y="691.00" width="4.80" height="10.70" fill="#1d675f" />
<rect x="1132.76" y="692.40" width="4.80" height="9.30" fill="#8f3746" />
<rect x="1138.30" y="695.00" width="4.80" height="6.70" fill="#1d675f" />
<rect x="1143.85" y="688.40" width="4.80" height="13.30" fill="#1d675f" />
<rect x="1149.39" y="688.40" width="4.80" height="13.30" fill="#8f3746" />
<rect x="1154.94" y="661.00" width="4.80" height="40.70" fill="#1d675f" />
<rect x="1160.48" y="653.40" width="4.80" height="48.30" fill="#8f3746" />
<rect x="1166.03" y="653.40" width="4.80" height="48.30" fill="#1d675f" />
<rect x="1171.57" y="652.00" width="4.80" height="49.70" fill="#8f3746" />
<rect x="1177.12" y="646.00" width="4.80" height="55.70" fill="#8f3746" />
<rect x="1182.66" y="681.00" width="4.80" height="20.70" fill="#8f3746" />
<rect x="1188.21" y="642.40" width="4.80" height="59.30" fill="#1d675f" />
<rect x="1193.75" y="656.00" width="4.80" height="45.70" fill="#1d675f" />
<rect x="1199.30" y="681.00" width="4.80" height="20.70" fill="#1d675f" />
<rect x="1204.84" y="660.00" width="4.80" height="41.70" fill="#1d675f" />
<rect x="1210.39" y="674.40" width="4.80" height="27.30" fill="#8f3746" />
<rect x="1215.93" y="681.00" width="4.80" height="20.70" fill="#1d675f" />
<rect x="1221.48" y="661.00" width="4.80" height="40.70" fill="#1d675f" />
<rect x="1227.02" y="648.40" width="4.80" height="53.30" fill="#1d675f" />
<rect x="1232.57" y="663.40" width="4.80" height="38.30" fill="#8f3746" />
<rect x="1238.11" y="679.00" width="4.80" height="22.70" fill="#8f3746" />
<rect x="1243.66" y="653.40" width="4.80" height="48.30" fill="#8f3746" />
<rect x="1249.20" y="672.00" width="4.80" height="29.70" fill="#1d675f" />
<rect x="1254.75" y="610.00" width="4.80" height="91.70" fill="#1d675f" />
<rect x="1260.29" y="550.00" width="4.80" height="151.70" fill="#8f3746" />
<rect x="1265.84" y="644.00" width="4.80" height="57.70" fill="#1d675f" />
<rect x="1271.38" y="638.60" width="4.80" height="63.10" fill="#1d675f" />
<rect x="1276.93" y="655.00" width="4.80" height="46.70" fill="#8f3746" />
<rect x="1282.47" y="669.60" width="4.80" height="32.10" fill="#8f3746" />
<rect x="1288.02" y="653.00" width="4.80" height="48.70" fill="#1d675f" />
<rect x="1293.56" y="668.00" width="4.80" height="33.70" fill="#8f3746" />
<rect x="1299.11" y="685.00" width="4.80" height="16.70" fill="#1d675f" />
<rect x="1304.65" y="678.40" width="4.80" height="23.30" fill="#8f3746" />
<rect x="1310.20" y="678.00" width="4.80" height="23.70" fill="#8f3746" />
<rect x="1315.74" y="657.40" width="4.80" height="44.30" fill="#8f3746" />
<rect x="1321.29" y="596.40" width="4.80" height="105.30" fill="#8f3746" />
<rect x="1326.83" y="656.40" width="4.80" height="45.30" fill="#8f3746" />
<rect x="1332.38" y="669.60" width="4.80" height="32.10" fill="#8f3746" />
<rect x="1337.92" y="677.60" width="4.80" height="24.10" fill="#1d675f" />
<rect x="1343.47" y="680.60" width="4.80" height="21.10" fill="#8f3746" />
<rect x="1349.01" y="668.00" width="4.80" height="33.70" fill="#1d675f" />
<rect x="1354.56" y="673.00" width="4.80" height="28.70" fill="#8f3746" />
<rect x="1360.10" y="682.60" width="4.80" height="19.10" fill="#1d675f" />
<rect x="1365.65" y="666.00" width="4.80" height="35.70" fill="#8f3746" />
<rect x="1371.19" y="677.00" width="4.80" height="24.70" fill="#1d675f" />
<rect x="1376.74" y="687.00" width="4.80" height="14.70" fill="#8f3746" />
<rect x="1382.28" y="670.00" width="4.80" height="31.70" fill="#8f3746" />
<rect x="1387.83" y="669.00" width="4.80" height="32.70" fill="#8f3746" />
<rect x="1393.37" y="687.00" width="4.80" height="14.70" fill="#1d675f" />
<rect x="1398.92" y="663.00" width="4.80" height="38.70" fill="#1d675f" />
<rect x="1404.46" y="670.60" width="4.80" height="31.10" fill="#1d675f" />
<rect x="1410.01" y="680.00" width="4.80" height="21.70" fill="#1d675f" />
<rect x="1415.55" y="687.00" width="4.80" height="14.70" fill="#8f3746" />
<rect x="1421.10" y="680.00" width="4.80" height="21.70" fill="#1d675f" />
<line x1="15.00" y1="274.00" x2="1477.00" y2="274.00" stroke="#26a69a" stroke-width="1.3" stroke-dasharray="1.5 1.9"/>
<line x1="15.07" y1="577.00" x2="15.07" y2="590.00" stroke="#26a69a" stroke-width="1.25" />
<rect x="12.87" y="578.00" width="4.40" height="11.00" fill="#26a69a" />
<line x1="20.62" y1="579.00" x2="20.62" y2="589.00" stroke="#26a69a" stroke-width="1.25" />
<rect x="18.42" y="580.00" width="4.40" height="6.00" fill="#26a69a" />
<line x1="26.16" y1="570.00" x2="26.16" y2="595.00" stroke="#ef5350" stroke-width="1.25" />
<rect x="23.96" y="580.00" width="4.40" height="12.00" fill="#ef5350" />
<line x1="31.70" y1="577.00" x2="31.70" y2="594.00" stroke="#26a69a" stroke-width="1.25" />
<rect x="29.50" y="581.00" width="4.40" height="11.00" fill="#26a69a" />
<line x1="37.25" y1="580.00" x2="37.25" y2="587.00" stroke="#ef5350" stroke-width="1.25" />
<rect x="35.05" y="581.00" width="4.40" height="5.00" fill="#ef5350" />
<line x1="42.80" y1="574.00" x2="42.80" y2="588.00" stroke="#26a69a" stroke-width="1.25" />
<rect x="40.59" y="575.00" width="4.40" height="11.00" fill="#26a69a" />
<line x1="48.34" y1="568.60" x2="48.34" y2="578.00" stroke="#26a69a" stroke-width="1.25" />
<rect x="46.14" y="570.00" width="4.40" height="6.00" fill="#26a69a" />
<line x1="53.88" y1="567.00" x2="53.88" y2="576.00" stroke="#ef5350" stroke-width="1.25" />
<rect x="51.68" y="570.40" width="4.40" height="3.20" fill="#ef5350" />
<line x1="59.43" y1="561.00" x2="59.43" y2="584.00" stroke="#ef5350" stroke-width="1.25" />
<rect x="57.23" y="572.00" width="4.40" height="10.00" fill="#ef5350" />
<line x1="64.97" y1="578.00" x2="64.97" y2="593.00" stroke="#ef5350" stroke-width="1.25" />
<rect x="62.77" y="581.00" width="4.40" height="11.00" fill="#ef5350" />
<line x1="70.52" y1="589.00" x2="70.52" y2="598.00" stroke="#ef5350" stroke-width="1.25" />
<rect x="68.32" y="592.00" width="4.40" height="5.00" fill="#ef5350" />
<line x1="76.06" y1="592.40" x2="76.06" y2="603.00" stroke="#26a69a" stroke-width="1.25" />
<rect x="73.86" y="594.40" width="4.40" height="2.60" fill="#26a69a" />
<line x1="81.61" y1="594.00" x2="81.61" y2="602.00" stroke="#ef5350" stroke-width="1.25" />
<rect x="79.41" y="595.60" width="4.40" height="5.40" fill="#ef5350" />
<line x1="87.16" y1="590.00" x2="87.16" y2="603.00" stroke="#26a69a" stroke-width="1.25" />
<rect x="84.95" y="591.00" width="4.40" height="10.00" fill="#26a69a" />
<line x1="92.70" y1="576.00" x2="92.70" y2="598.00" stroke="#26a69a" stroke-width="1.25" />
<rect x="90.50" y="581.60" width="4.40" height="10.40" fill="#26a69a" />
<line x1="98.25" y1="573.00" x2="98.25" y2="601.60" stroke="#ef5350" stroke-width="1.25" />
<rect x="96.05" y="581.60" width="4.40" height="7.40" fill="#ef5350" />
<line x1="103.79" y1="584.00" x2="103.79" y2="593.00" stroke="#ef5350" stroke-width="1.25" />
<rect x="101.59" y="588.00" width="4.40" height="4.40" fill="#ef5350" />
<line x1="109.34" y1="585.60" x2="109.34" y2="594.40" stroke="#ef5350" stroke-width="1.25" />
<rect x="107.14" y="591.00" width="4.40" height="2.00" fill="#ef5350" />
<line x1="114.88" y1="578.00" x2="114.88" y2="593.60" stroke="#26a69a" stroke-width="1.25" />
<rect x="112.68" y="583.60" width="4.40" height="8.80" fill="#26a69a" />
<line x1="120.43" y1="582.00" x2="120.43" y2="590.00" stroke="#ef5350" stroke-width="1.25" />
<rect x="118.23" y="583.60" width="4.40" height="2.00" fill="#ef5350" />
<line x1="125.97" y1="581.00" x2="125.97" y2="595.00" stroke="#ef5350" stroke-width="1.25" />
<rect x="123.77" y="584.00" width="4.40" height="2.00" fill="#ef5350" />
<line x1="131.51" y1="573.60" x2="131.51" y2="587.60" stroke="#26a69a" stroke-width="1.25" />
<rect x="129.31" y="581.00" width="4.40" height="5.40" fill="#26a69a" />
<line x1="137.06" y1="577.60" x2="137.06" y2="584.00" stroke="#26a69a" stroke-width="1.25" />
<rect x="134.86" y="579.60" width="4.40" height="2.80" fill="#26a69a" />
<line x1="142.60" y1="578.00" x2="142.60" y2="583.60" stroke="#ef5350" stroke-width="1.25" />
<rect x="140.41" y="580.00" width="4.40" height="2.40" fill="#ef5350" />
<line x1="148.15" y1="581.00" x2="148.15" y2="587.60" stroke="#ef5350" stroke-width="1.25" />
<rect x="145.95" y="582.00" width="4.40" height="2.40" fill="#ef5350" />
<line x1="153.69" y1="581.60" x2="153.69" y2="586.40" stroke="#26a69a" stroke-width="1.25" />
<rect x="151.50" y="583.00" width="4.40" height="1.40" fill="#26a69a" />
<line x1="159.24" y1="582.00" x2="159.24" y2="588.00" stroke="#ef5350" stroke-width="1.25" />
<rect x="157.04" y="583.20" width="4.40" height="4.40" fill="#ef5350" />
<line x1="164.78" y1="583.60" x2="164.78" y2="588.40" stroke="#26a69a" stroke-width="1.25" />
<rect x="162.59" y="584.80" width="4.40" height="2.80" fill="#26a69a" />
<line x1="170.33" y1="583.00" x2="170.33" y2="588.00" stroke="#ef5350" stroke-width="1.25" />
<rect x="168.13" y="584.80" width="4.40" height="2.00" fill="#ef5350" />
<line x1="175.88" y1="579.60" x2="175.88" y2="588.00" stroke="#26a69a" stroke-width="1.25" />
<rect x="173.68" y="581.00" width="4.40" height="6.00" fill="#26a69a" />
<line x1="181.42" y1="576.00" x2="181.42" y2="582.40" stroke="#26a69a" stroke-width="1.25" />
<rect x="179.22" y="577.00" width="4.40" height="4.60" fill="#26a69a" />
<line x1="186.97" y1="574.40" x2="186.97" y2="579.00" stroke="#26a69a" stroke-width="1.25" />
<rect x="184.77" y="576.00" width="4.40" height="1.60" fill="#26a69a" />
<line x1="192.51" y1="571.00" x2="192.51" y2="579.60" stroke="#ef5350" stroke-width="1.25" />
<rect x="190.31" y="576.00" width="4.40" height="1.60" fill="#ef5350" />
<line x1="198.05" y1="575.60" x2="198.05" y2="584.00" stroke="#ef5350" stroke-width="1.25" />
<rect x="195.85" y="576.80" width="4.40" height="1.20" fill="#ef5350" />
<line x1="203.60" y1="575.00" x2="203.60" y2="580.00" stroke="#ef5350" stroke-width="1.25" />
<rect x="201.40" y="577.60" width="4.40" height="1.60" fill="#ef5350" />
<line x1="209.14" y1="575.60" x2="209.14" y2="579.20" stroke="#26a69a" stroke-width="1.25" />
<rect x="206.94" y="576.80" width="4.40" height="1.60" fill="#26a69a" />
<line x1="214.69" y1="576.40" x2="214.69" y2="584.00" stroke="#ef5350" stroke-width="1.25" />
<rect x="212.49" y="577.60" width="4.40" height="5.60" fill="#ef5350" />
<line x1="220.23" y1="581.60" x2="220.23" y2="593.00" stroke="#ef5350" stroke-width="1.25" />
<rect x="218.03" y="582.40" width="4.40" height="9.00" fill="#ef5350" />
<line x1="225.78" y1="584.00" x2="225.78" y2="591.60" stroke="#26a69a" stroke-width="1.25" />
<rect x="223.58" y="588.00" width="4.40" height="3.20" fill="#26a69a" />
<line x1="231.32" y1="583.60" x2="231.32" y2="589.00" stroke="#26a69a" stroke-width="1.25" />
<rect x="229.12" y="584.00" width="4.40" height="4.40" fill="#26a69a" />
<line x1="236.87" y1="575.60" x2="236.87" y2="585.00" stroke="#26a69a" stroke-width="1.25" />
<rect x="234.67" y="577.60" width="4.40" height="6.80" fill="#26a69a" />
<line x1="242.41" y1="547.00" x2="242.41" y2="578.40" stroke="#26a69a" stroke-width="1.25" />
<rect x="240.22" y="553.00" width="4.40" height="25.00" fill="#26a69a" />
<line x1="247.96" y1="546.00" x2="247.96" y2="554.40" stroke="#26a69a" stroke-width="1.25" />
<rect x="245.76" y="549.60" width="4.40" height="4.00" fill="#26a69a" />
<line x1="253.50" y1="545.00" x2="253.50" y2="560.00" stroke="#ef5350" stroke-width="1.25" />
<rect x="251.31" y="550.00" width="4.40" height="6.40" fill="#ef5350" />
<line x1="259.05" y1="537.40" x2="259.05" y2="558.40" stroke="#26a69a" stroke-width="1.25" />
<rect x="256.85" y="542.40" width="4.40" height="14.00" fill="#26a69a" />
<line x1="264.60" y1="540.00" x2="264.60" y2="563.00" stroke="#ef5350" stroke-width="1.25" />
<rect x="262.40" y="542.40" width="4.40" height="9.20" fill="#ef5350" />
<line x1="270.14" y1="547.00" x2="270.14" y2="557.00" stroke="#26a69a" stroke-width="1.25" />
<rect x="267.94" y="549.00" width="4.40" height="2.60" fill="#26a69a" />
<line x1="275.69" y1="532.40" x2="275.69" y2="554.40" stroke="#26a69a" stroke-width="1.25" />
<rect x="273.49" y="541.60" width="4.40" height="8.00" fill="#26a69a" />
<line x1="281.23" y1="537.00" x2="281.23" y2="544.00" stroke="#26a69a" stroke-width="1.25" />
<rect x="279.03" y="537.60" width="4.40" height="4.40" fill="#26a69a" />
<line x1="286.77" y1="534.40" x2="286.77" y2="540.40" stroke="#26a69a" stroke-width="1.25" />
<rect x="284.57" y="535.60" width="4.40" height="2.40" fill="#26a69a" />
<line x1="292.32" y1="501.00" x2="292.32" y2="538.00" stroke="#26a69a" stroke-width="1.25" />
<rect x="290.12" y="507.60" width="4.40" height="29.40" fill="#26a69a" />
<line x1="297.87" y1="498.00" x2="297.87" y2="512.00" stroke="#26a69a" stroke-width="1.25" />
<rect x="295.67" y="502.00" width="4.40" height="7.00" fill="#26a69a" />
<line x1="303.41" y1="467.40" x2="303.41" y2="506.00" stroke="#26a69a" stroke-width="1.25" />
<rect x="301.21" y="477.00" width="4.40" height="25.40" fill="#26a69a" />
<line x1="308.95" y1="471.00" x2="308.95" y2="487.60" stroke="#ef5350" stroke-width="1.25" />
<rect x="306.75" y="477.00" width="4.40" height="4.00" fill="#ef5350" />
<line x1="314.50" y1="466.00" x2="314.50" y2="482.00" stroke="#26a69a" stroke-width="1.25" />
<rect x="312.30" y="468.00" width="4.40" height="12.60" fill="#26a69a" />
<line x1="320.05" y1="464.00" x2="320.05" y2="479.00" stroke="#ef5350" stroke-width="1.25" />
<rect x="317.85" y="468.00" width="4.40" height="9.00" fill="#ef5350" />
<line x1="325.59" y1="458.00" x2="325.59" y2="495.00" stroke="#ef5350" stroke-width="1.25" />
<rect x="323.39" y="476.40" width="4.40" height="4.20" fill="#ef5350" />
<line x1="331.13" y1="467.00" x2="331.13" y2="483.60" stroke="#26a69a" stroke-width="1.25" />
<rect x="328.94" y="476.00" width="4.40" height="4.60" fill="#26a69a" />
<line x1="336.68" y1="471.00" x2="336.68" y2="479.60" stroke="#26a69a" stroke-width="1.25" />
<rect x="334.48" y="473.60" width="4.40" height="3.00" fill="#26a69a" />
<line x1="342.22" y1="472.40" x2="342.22" y2="487.00" stroke="#ef5350" stroke-width="1.25" />
<rect x="340.02" y="473.60" width="4.40" height="13.00" fill="#ef5350" />
<line x1="347.77" y1="483.00" x2="347.77" y2="493.60" stroke="#ef5350" stroke-width="1.25" />
<rect x="345.57" y="486.00" width="4.40" height="6.00" fill="#ef5350" />
<line x1="353.31" y1="486.00" x2="353.31" y2="498.60" stroke="#26a69a" stroke-width="1.25" />
<rect x="351.12" y="487.00" width="4.40" height="5.00" fill="#26a69a" />
<line x1="358.86" y1="476.00" x2="358.86" y2="489.60" stroke="#26a69a" stroke-width="1.25" />
<rect x="356.66" y="479.00" width="4.40" height="9.00" fill="#26a69a" />
<line x1="364.40" y1="474.00" x2="364.40" y2="486.00" stroke="#26a69a" stroke-width="1.25" />
<rect x="362.20" y="475.20" width="4.40" height="4.80" fill="#26a69a" />
<line x1="369.95" y1="469.60" x2="369.95" y2="481.60" stroke="#26a69a" stroke-width="1.25" />
<rect x="367.75" y="470.40" width="4.40" height="6.00" fill="#26a69a" />
<line x1="375.50" y1="464.40" x2="375.50" y2="484.00" stroke="#ef5350" stroke-width="1.25" />
<rect x="373.30" y="470.40" width="4.40" height="8.60" fill="#ef5350" />
<line x1="381.04" y1="471.00" x2="381.04" y2="481.60" stroke="#26a69a" stroke-width="1.25" />
<rect x="378.84" y="472.00" width="4.40" height="7.40" fill="#26a69a" />
<line x1="386.58" y1="461.00" x2="386.58" y2="475.60" stroke="#26a69a" stroke-width="1.25" />
<rect x="384.38" y="461.60" width="4.40" height="12.00" fill="#26a69a" />
<line x1="392.13" y1="448.00" x2="392.13" y2="471.00" stroke="#26a69a" stroke-width="1.25" />
<rect x="389.93" y="457.60" width="4.40" height="4.80" fill="#26a69a" />
<line x1="397.68" y1="450.60" x2="397.68" y2="466.00" stroke="#26a69a" stroke-width="1.25" />
<rect x="395.48" y="454.00" width="4.40" height="4.00" fill="#26a69a" />
<line x1="403.22" y1="453.00" x2="403.22" y2="464.60" stroke="#ef5350" stroke-width="1.25" />
<rect x="401.02" y="454.00" width="4.40" height="9.00" fill="#ef5350" />
<line x1="408.76" y1="455.60" x2="408.76" y2="464.00" stroke="#26a69a" stroke-width="1.25" />
<rect x="406.56" y="460.40" width="4.40" height="2.00" fill="#26a69a" />
<line x1="414.31" y1="459.60" x2="414.31" y2="466.00" stroke="#ef5350" stroke-width="1.25" />
<rect x="412.11" y="461.00" width="4.40" height="2.60" fill="#ef5350" />
<line x1="419.85" y1="461.00" x2="419.85" y2="470.00" stroke="#ef5350" stroke-width="1.25" />
<rect x="417.65" y="463.00" width="4.40" height="6.00" fill="#ef5350" />
<line x1="425.40" y1="464.40" x2="425.40" y2="471.60" stroke="#26a69a" stroke-width="1.25" />
<rect x="423.20" y="465.40" width="4.40" height="3.20" fill="#26a69a" />
<line x1="430.94" y1="464.00" x2="430.94" y2="469.40" stroke="#ef5350" stroke-width="1.25" />
<rect x="428.75" y="465.00" width="4.40" height="1.40" fill="#ef5350" />
<line x1="436.49" y1="459.00" x2="436.49" y2="468.60" stroke="#26a69a" stroke-width="1.25" />
<rect x="434.29" y="462.00" width="4.40" height="5.00" fill="#26a69a" />
<line x1="442.03" y1="453.60" x2="442.03" y2="469.40" stroke="#ef5350" stroke-width="1.25" />
<rect x="439.83" y="462.00" width="4.40" height="6.60" fill="#ef5350" />
<line x1="447.58" y1="466.00" x2="447.58" y2="474.40" stroke="#ef5350" stroke-width="1.25" />
<rect x="445.38" y="468.00" width="4.40" height="1.60" fill="#ef5350" />
<line x1="453.12" y1="466.40" x2="453.12" y2="472.00" stroke="#ef5350" stroke-width="1.25" />
<rect x="450.93" y="469.20" width="4.40" height="2.20" fill="#ef5350" />
<line x1="458.67" y1="467.60" x2="458.67" y2="475.00" stroke="#ef5350" stroke-width="1.25" />
<rect x="456.47" y="470.40" width="4.40" height="2.00" fill="#ef5350" />
<line x1="464.21" y1="464.00" x2="464.21" y2="473.00" stroke="#26a69a" stroke-width="1.25" />
<rect x="462.01" y="464.40" width="4.40" height="7.60" fill="#26a69a" />
<line x1="469.76" y1="463.00" x2="469.76" y2="474.00" stroke="#ef5350" stroke-width="1.25" />
<rect x="467.56" y="464.00" width="4.40" height="9.60" fill="#ef5350" />
<line x1="475.31" y1="470.00" x2="475.31" y2="485.40" stroke="#26a69a" stroke-width="1.25" />
<rect x="473.11" y="471.40" width="4.40" height="2.00" fill="#26a69a" />
<line x1="480.85" y1="459.60" x2="480.85" y2="473.00" stroke="#26a69a" stroke-width="1.25" />
<rect x="478.65" y="461.00" width="4.40" height="11.40" fill="#26a69a" />
<line x1="486.39" y1="451.00" x2="486.39" y2="466.40" stroke="#26a69a" stroke-width="1.25" />
<rect x="484.19" y="453.60" width="4.40" height="8.80" fill="#26a69a" />
<line x1="491.94" y1="450.40" x2="491.94" y2="474.40" stroke="#ef5350" stroke-width="1.25" />
<rect x="489.74" y="453.60" width="4.40" height="19.40" fill="#ef5350" />
<line x1="497.49" y1="459.00" x2="497.49" y2="477.00" stroke="#26a69a" stroke-width="1.25" />
<rect x="495.29" y="460.00" width="4.40" height="13.00" fill="#26a69a" />
<line x1="503.03" y1="456.00" x2="503.03" y2="466.00" stroke="#26a69a" stroke-width="1.25" />
<rect x="500.83" y="458.00" width="4.40" height="2.60" fill="#26a69a" />
<line x1="508.57" y1="452.40" x2="508.57" y2="464.40" stroke="#ef5350" stroke-width="1.25" />
<rect x="506.38" y="458.00" width="4.40" height="4.40" fill="#ef5350" />
<line x1="514.12" y1="458.00" x2="514.12" y2="467.60" stroke="#26a69a" stroke-width="1.25" />
<rect x="511.92" y="459.40" width="4.40" height="3.00" fill="#26a69a" />
<line x1="519.66" y1="454.00" x2="519.66" y2="461.00" stroke="#26a69a" stroke-width="1.25" />
<rect x="517.46" y="456.00" width="4.40" height="4.00" fill="#26a69a" />
<line x1="525.21" y1="453.60" x2="525.21" y2="463.60" stroke="#ef5350" stroke-width="1.25" />
<rect x="523.01" y="456.00" width="4.40" height="3.60" fill="#ef5350" />
<line x1="530.75" y1="452.00" x2="530.75" y2="461.00" stroke="#26a69a" stroke-width="1.25" />
<rect x="528.55" y="454.00" width="4.40" height="6.00" fill="#26a69a" />
<line x1="536.30" y1="452.60" x2="536.30" y2="473.40" stroke="#ef5350" stroke-width="1.25" />
<rect x="534.10" y="454.00" width="4.40" height="13.60" fill="#ef5350" />
<line x1="541.85" y1="456.00" x2="541.85" y2="468.40" stroke="#26a69a" stroke-width="1.25" />
<rect x="539.64" y="457.00" width="4.40" height="10.60" fill="#26a69a" />
<line x1="547.39" y1="456.00" x2="547.39" y2="463.60" stroke="#ef5350" stroke-width="1.25" />
<rect x="545.19" y="457.40" width="4.40" height="5.20" fill="#ef5350" />
<line x1="552.94" y1="455.00" x2="552.94" y2="464.00" stroke="#26a69a" stroke-width="1.25" />
<rect x="550.74" y="455.60" width="4.40" height="7.40" fill="#26a69a" />
<line x1="558.48" y1="455.00" x2="558.48" y2="483.60" stroke="#ef5350" stroke-width="1.25" />
<rect x="556.28" y="455.60" width="4.40" height="14.80" fill="#ef5350" />
<line x1="564.03" y1="464.00" x2="564.03" y2="476.00" stroke="#26a69a" stroke-width="1.25" />
<rect x="561.83" y="467.60" width="4.40" height="2.80" fill="#26a69a" />
<line x1="569.57" y1="460.00" x2="569.57" y2="469.60" stroke="#26a69a" stroke-width="1.25" />
<rect x="567.37" y="466.40" width="4.40" height="2.00" fill="#26a69a" />
<line x1="575.12" y1="458.00" x2="575.12" y2="469.00" stroke="#26a69a" stroke-width="1.25" />
<rect x="572.91" y="460.40" width="4.40" height="7.60" fill="#26a69a" />
<line x1="580.66" y1="454.40" x2="580.66" y2="462.40" stroke="#26a69a" stroke-width="1.25" />
<rect x="578.46" y="456.00" width="4.40" height="5.60" fill="#26a69a" />
<line x1="586.21" y1="440.00" x2="586.21" y2="459.00" stroke="#26a69a" stroke-width="1.25" />
<rect x="584.00" y="443.00" width="4.40" height="15.00" fill="#26a69a" />
<line x1="591.75" y1="428.00" x2="591.75" y2="448.00" stroke="#26a69a" stroke-width="1.25" />
<rect x="589.55" y="435.60" width="4.40" height="8.00" fill="#26a69a" />
<line x1="597.30" y1="429.60" x2="597.30" y2="441.00" stroke="#ef5350" stroke-width="1.25" />
<rect x="595.10" y="435.60" width="4.40" height="4.40" fill="#ef5350" />
<line x1="602.84" y1="435.60" x2="602.84" y2="443.60" stroke="#ef5350" stroke-width="1.25" />
<rect x="600.64" y="438.00" width="4.40" height="1.40" fill="#ef5350" />
<line x1="608.38" y1="430.40" x2="608.38" y2="441.00" stroke="#26a69a" stroke-width="1.25" />
<rect x="606.18" y="432.00" width="4.40" height="8.00" fill="#26a69a" />
<line x1="613.93" y1="430.00" x2="613.93" y2="442.00" stroke="#ef5350" stroke-width="1.25" />
<rect x="611.73" y="432.00" width="4.40" height="9.60" fill="#ef5350" />
<line x1="619.48" y1="432.00" x2="619.48" y2="442.40" stroke="#26a69a" stroke-width="1.25" />
<rect x="617.27" y="433.60" width="4.40" height="8.00" fill="#26a69a" />
<line x1="625.02" y1="422.00" x2="625.02" y2="438.00" stroke="#26a69a" stroke-width="1.25" />
<rect x="622.82" y="429.60" width="4.40" height="4.80" fill="#26a69a" />
<line x1="630.57" y1="424.00" x2="630.57" y2="436.40" stroke="#ef5350" stroke-width="1.25" />
<rect x="628.37" y="429.60" width="4.40" height="4.80" fill="#ef5350" />
<line x1="636.11" y1="432.00" x2="636.11" y2="439.00" stroke="#ef5350" stroke-width="1.25" />
<rect x="633.91" y="433.60" width="4.40" height="1.40" fill="#ef5350" />
<line x1="641.66" y1="434.40" x2="641.66" y2="442.40" stroke="#ef5350" stroke-width="1.25" />
<rect x="639.46" y="435.00" width="4.40" height="6.60" fill="#ef5350" />
<line x1="647.20" y1="438.40" x2="647.20" y2="444.40" stroke="#ef5350" stroke-width="1.25" />
<rect x="645.00" y="440.60" width="4.40" height="1.40" fill="#ef5350" />
<line x1="652.75" y1="440.40" x2="652.75" y2="447.60" stroke="#ef5350" stroke-width="1.25" />
<rect x="650.54" y="441.20" width="4.40" height="5.80" fill="#ef5350" />
<line x1="658.29" y1="439.00" x2="658.29" y2="447.60" stroke="#26a69a" stroke-width="1.25" />
<rect x="656.09" y="440.60" width="4.40" height="6.40" fill="#26a69a" />
<line x1="663.84" y1="440.00" x2="663.84" y2="447.60" stroke="#ef5350" stroke-width="1.25" />
<rect x="661.63" y="440.60" width="4.40" height="1.00" fill="#ef5350" />
<line x1="669.38" y1="440.40" x2="669.38" y2="448.40" stroke="#ef5350" stroke-width="1.25" />
<rect x="667.18" y="441.20" width="4.40" height="6.40" fill="#ef5350" />
<line x1="674.93" y1="442.40" x2="674.93" y2="451.00" stroke="#ef5350" stroke-width="1.25" />
<rect x="672.73" y="447.20" width="4.40" height="1.60" fill="#ef5350" />
<line x1="680.47" y1="443.00" x2="680.47" y2="449.20" stroke="#26a69a" stroke-width="1.25" />
<rect x="678.27" y="447.00" width="4.40" height="1.40" fill="#26a69a" />
<line x1="686.01" y1="446.40" x2="686.01" y2="454.40" stroke="#ef5350" stroke-width="1.25" />
<rect x="683.81" y="447.20" width="4.40" height="6.40" fill="#ef5350" />
<line x1="691.56" y1="449.60" x2="691.56" y2="455.60" stroke="#26a69a" stroke-width="1.25" />
<rect x="689.36" y="451.20" width="4.40" height="2.00" fill="#26a69a" />
<line x1="697.11" y1="449.60" x2="697.11" y2="455.00" stroke="#26a69a" stroke-width="1.25" />
<rect x="694.90" y="451.40" width="4.40" height="1.40" fill="#26a69a" />
<line x1="702.65" y1="449.00" x2="702.65" y2="468.40" stroke="#ef5350" stroke-width="1.25" />
<rect x="700.45" y="451.00" width="4.40" height="16.00" fill="#ef5350" />
<line x1="708.20" y1="460.00" x2="708.20" y2="476.60" stroke="#ef5350" stroke-width="1.25" />
<rect x="706.00" y="466.00" width="4.40" height="3.60" fill="#ef5350" />
<line x1="713.74" y1="460.00" x2="713.74" y2="470.00" stroke="#26a69a" stroke-width="1.25" />
<rect x="711.54" y="460.40" width="4.40" height="9.20" fill="#26a69a" />
<line x1="719.29" y1="460.00" x2="719.29" y2="471.60" stroke="#ef5350" stroke-width="1.25" />
<rect x="717.09" y="460.40" width="4.40" height="10.00" fill="#ef5350" />
<line x1="724.83" y1="464.00" x2="724.83" y2="475.00" stroke="#ef5350" stroke-width="1.25" />
<rect x="722.63" y="470.00" width="4.40" height="3.60" fill="#ef5350" />
<line x1="730.38" y1="459.00" x2="730.38" y2="473.60" stroke="#26a69a" stroke-width="1.25" />
<rect x="728.17" y="465.60" width="4.40" height="7.60" fill="#26a69a" />
<line x1="735.92" y1="455.00" x2="735.92" y2="471.60" stroke="#26a69a" stroke-width="1.25" />
<rect x="733.72" y="460.00" width="4.40" height="6.40" fill="#26a69a" />
<line x1="741.47" y1="458.00" x2="741.47" y2="470.00" stroke="#ef5350" stroke-width="1.25" />
<rect x="739.26" y="460.00" width="4.40" height="4.40" fill="#ef5350" />
<line x1="747.01" y1="462.00" x2="747.01" y2="467.00" stroke="#ef5350" stroke-width="1.25" />
<rect x="744.81" y="463.60" width="4.40" height="1.60" fill="#ef5350" />
<line x1="752.56" y1="464.40" x2="752.56" y2="473.60" stroke="#ef5350" stroke-width="1.25" />
<rect x="750.36" y="465.00" width="4.40" height="8.00" fill="#ef5350" />
<line x1="758.10" y1="460.60" x2="758.10" y2="477.60" stroke="#26a69a" stroke-width="1.25" />
<rect x="755.90" y="463.00" width="4.40" height="10.00" fill="#26a69a" />
<line x1="763.65" y1="455.60" x2="763.65" y2="467.60" stroke="#26a69a" stroke-width="1.25" />
<rect x="761.45" y="458.00" width="4.40" height="5.60" fill="#26a69a" />
<line x1="769.19" y1="434.40" x2="769.19" y2="465.00" stroke="#26a69a" stroke-width="1.25" />
<rect x="766.99" y="435.60" width="4.40" height="23.40" fill="#26a69a" />
<line x1="774.74" y1="424.00" x2="774.74" y2="443.00" stroke="#ef5350" stroke-width="1.25" />
<rect x="772.53" y="435.60" width="4.40" height="4.40" fill="#ef5350" />
<line x1="780.28" y1="433.60" x2="780.28" y2="442.00" stroke="#26a69a" stroke-width="1.25" />
<rect x="778.08" y="434.00" width="4.40" height="6.60" fill="#26a69a" />
<line x1="785.83" y1="431.60" x2="785.83" y2="435.60" stroke="#26a69a" stroke-width="1.25" />
<rect x="783.62" y="432.00" width="4.40" height="1.60" fill="#26a69a" />
<line x1="791.37" y1="427.40" x2="791.37" y2="437.00" stroke="#ef5350" stroke-width="1.25" />
<rect x="789.17" y="432.00" width="4.40" height="3.00" fill="#ef5350" />
<line x1="796.92" y1="433.60" x2="796.92" y2="448.40" stroke="#ef5350" stroke-width="1.25" />
<rect x="794.72" y="434.40" width="4.40" height="10.00" fill="#ef5350" />
<line x1="802.46" y1="428.40" x2="802.46" y2="444.80" stroke="#26a69a" stroke-width="1.25" />
<rect x="800.26" y="433.00" width="4.40" height="11.40" fill="#26a69a" />
<line x1="808.00" y1="406.40" x2="808.00" y2="435.00" stroke="#26a69a" stroke-width="1.25" />
<rect x="805.80" y="407.40" width="4.40" height="26.60" fill="#26a69a" />
<line x1="813.55" y1="404.00" x2="813.55" y2="412.40" stroke="#26a69a" stroke-width="1.25" />
<rect x="811.35" y="406.00" width="4.40" height="2.00" fill="#26a69a" />
<line x1="819.10" y1="397.60" x2="819.10" y2="407.00" stroke="#26a69a" stroke-width="1.25" />
<rect x="816.89" y="403.60" width="4.40" height="2.40" fill="#26a69a" />
<line x1="824.64" y1="378.40" x2="824.64" y2="408.00" stroke="#26a69a" stroke-width="1.25" />
<rect x="822.44" y="387.00" width="4.40" height="18.00" fill="#26a69a" />
<line x1="830.19" y1="375.60" x2="830.19" y2="390.00" stroke="#26a69a" stroke-width="1.25" />
<rect x="827.99" y="381.00" width="4.40" height="7.00" fill="#26a69a" />
<line x1="835.73" y1="344.00" x2="835.73" y2="382.00" stroke="#26a69a" stroke-width="1.25" />
<rect x="833.53" y="357.40" width="4.40" height="24.20" fill="#26a69a" />
<line x1="841.28" y1="357.00" x2="841.28" y2="368.00" stroke="#ef5350" stroke-width="1.25" />
<rect x="839.08" y="357.40" width="4.40" height="10.20" fill="#ef5350" />
<line x1="846.82" y1="342.60" x2="846.82" y2="368.00" stroke="#26a69a" stroke-width="1.25" />
<rect x="844.62" y="352.40" width="4.40" height="15.20" fill="#26a69a" />
<line x1="852.37" y1="348.40" x2="852.37" y2="367.00" stroke="#ef5350" stroke-width="1.25" />
<rect x="850.16" y="352.40" width="4.40" height="8.60" fill="#ef5350" />
<line x1="857.91" y1="350.00" x2="857.91" y2="367.00" stroke="#ef5350" stroke-width="1.25" />
<rect x="855.71" y="359.60" width="4.40" height="1.60" fill="#ef5350" />
<line x1="863.46" y1="355.00" x2="863.46" y2="369.00" stroke="#26a69a" stroke-width="1.25" />
<rect x="861.25" y="357.00" width="4.40" height="5.00" fill="#26a69a" />
<line x1="869.00" y1="355.60" x2="869.00" y2="363.60" stroke="#ef5350" stroke-width="1.25" />
<rect x="866.80" y="357.60" width="4.40" height="3.40" fill="#ef5350" />
<line x1="874.55" y1="357.00" x2="874.55" y2="362.40" stroke="#26a69a" stroke-width="1.25" />
<rect x="872.35" y="358.00" width="4.40" height="3.00" fill="#26a69a" />
<line x1="880.09" y1="346.40" x2="880.09" y2="359.40" stroke="#26a69a" stroke-width="1.25" />
<rect x="877.89" y="350.60" width="4.40" height="7.80" fill="#26a69a" />
<line x1="885.63" y1="347.00" x2="885.63" y2="356.00" stroke="#ef5350" stroke-width="1.25" />
<rect x="883.43" y="350.60" width="4.40" height="4.40" fill="#ef5350" />
<line x1="891.18" y1="350.40" x2="891.18" y2="359.60" stroke="#ef5350" stroke-width="1.25" />
<rect x="888.98" y="355.00" width="4.40" height="4.00" fill="#ef5350" />
<line x1="896.73" y1="353.00" x2="896.73" y2="360.60" stroke="#26a69a" stroke-width="1.25" />
<rect x="894.52" y="357.40" width="4.40" height="1.60" fill="#26a69a" />
<line x1="902.27" y1="335.40" x2="902.27" y2="359.40" stroke="#26a69a" stroke-width="1.25" />
<rect x="900.07" y="337.00" width="4.40" height="21.40" fill="#26a69a" />
<line x1="907.82" y1="335.60" x2="907.82" y2="354.40" stroke="#ef5350" stroke-width="1.25" />
<rect x="905.62" y="337.00" width="4.40" height="11.40" fill="#ef5350" />
<line x1="913.36" y1="343.00" x2="913.36" y2="356.40" stroke="#ef5350" stroke-width="1.25" />
<rect x="911.16" y="348.00" width="4.40" height="8.00" fill="#ef5350" />
<line x1="918.91" y1="338.00" x2="918.91" y2="356.40" stroke="#26a69a" stroke-width="1.25" />
<rect x="916.71" y="339.40" width="4.40" height="16.60" fill="#26a69a" />
<line x1="924.45" y1="336.40" x2="924.45" y2="350.60" stroke="#ef5350" stroke-width="1.25" />
<rect x="922.25" y="339.40" width="4.40" height="7.00" fill="#ef5350" />
<line x1="930.00" y1="338.00" x2="930.00" y2="351.40" stroke="#26a69a" stroke-width="1.25" />
<rect x="927.79" y="342.60" width="4.40" height="3.80" fill="#26a69a" />
<line x1="935.54" y1="341.00" x2="935.54" y2="353.60" stroke="#ef5350" stroke-width="1.25" />
<rect x="933.34" y="342.60" width="4.40" height="4.80" fill="#ef5350" />
<line x1="941.09" y1="333.00" x2="941.09" y2="351.60" stroke="#ef5350" stroke-width="1.25" />
<rect x="938.88" y="346.00" width="4.40" height="2.00" fill="#ef5350" />
<line x1="946.63" y1="324.40" x2="946.63" y2="351.40" stroke="#26a69a" stroke-width="1.25" />
<rect x="944.43" y="342.00" width="4.40" height="5.40" fill="#26a69a" />
<line x1="952.18" y1="339.60" x2="952.18" y2="352.40" stroke="#ef5350" stroke-width="1.25" />
<rect x="949.98" y="341.60" width="4.40" height="10.00" fill="#ef5350" />
<line x1="957.72" y1="340.00" x2="957.72" y2="367.60" stroke="#ef5350" stroke-width="1.25" />
<rect x="955.52" y="351.00" width="4.40" height="15.60" fill="#ef5350" />
<line x1="963.26" y1="359.40" x2="963.26" y2="388.00" stroke="#ef5350" stroke-width="1.25" />
<rect x="961.06" y="365.60" width="4.40" height="9.40" fill="#ef5350" />
<line x1="968.81" y1="359.00" x2="968.81" y2="376.00" stroke="#26a69a" stroke-width="1.25" />
<rect x="966.61" y="363.00" width="4.40" height="12.00" fill="#26a69a" />
<line x1="974.36" y1="362.40" x2="974.36" y2="378.60" stroke="#ef5350" stroke-width="1.25" />
<rect x="972.15" y="363.00" width="4.40" height="14.00" fill="#ef5350" />
<line x1="979.90" y1="361.00" x2="979.90" y2="377.60" stroke="#26a69a" stroke-width="1.25" />
<rect x="977.70" y="363.60" width="4.40" height="13.40" fill="#26a69a" />
<line x1="985.45" y1="350.00" x2="985.45" y2="365.60" stroke="#26a69a" stroke-width="1.25" />
<rect x="983.25" y="351.00" width="4.40" height="13.60" fill="#26a69a" />
<line x1="990.99" y1="348.40" x2="990.99" y2="363.00" stroke="#ef5350" stroke-width="1.25" />
<rect x="988.79" y="350.60" width="4.40" height="1.80" fill="#ef5350" />
<line x1="996.54" y1="336.00" x2="996.54" y2="353.60" stroke="#26a69a" stroke-width="1.25" />
<rect x="994.34" y="338.00" width="4.40" height="14.60" fill="#26a69a" />
<line x1="1002.08" y1="336.40" x2="1002.08" y2="350.00" stroke="#ef5350" stroke-width="1.25" />
<rect x="999.88" y="338.00" width="4.40" height="9.00" fill="#ef5350" />
<line x1="1007.62" y1="346.00" x2="1007.62" y2="355.00" stroke="#ef5350" stroke-width="1.25" />
<rect x="1005.42" y="346.60" width="4.40" height="7.40" fill="#ef5350" />
<line x1="1013.17" y1="348.00" x2="1013.17" y2="356.00" stroke="#26a69a" stroke-width="1.25" />
<rect x="1010.97" y="351.00" width="4.40" height="3.00" fill="#26a69a" />
<line x1="1018.72" y1="346.00" x2="1018.72" y2="361.60" stroke="#26a69a" stroke-width="1.25" />
<rect x="1016.51" y="348.00" width="4.40" height="3.60" fill="#26a69a" />
<line x1="1024.26" y1="343.00" x2="1024.26" y2="362.00" stroke="#ef5350" stroke-width="1.25" />
<rect x="1022.06" y="348.00" width="4.40" height="6.60" fill="#ef5350" />
<line x1="1029.81" y1="351.40" x2="1029.81" y2="365.00" stroke="#ef5350" stroke-width="1.25" />
<rect x="1027.61" y="354.00" width="4.40" height="2.60" fill="#ef5350" />
<line x1="1035.35" y1="352.00" x2="1035.35" y2="357.00" stroke="#26a69a" stroke-width="1.25" />
<rect x="1033.15" y="354.00" width="4.40" height="2.60" fill="#26a69a" />
<line x1="1040.89" y1="349.60" x2="1040.89" y2="364.00" stroke="#ef5350" stroke-width="1.25" />
<rect x="1038.69" y="353.60" width="4.40" height="10.00" fill="#ef5350" />
<line x1="1046.44" y1="360.40" x2="1046.44" y2="376.60" stroke="#ef5350" stroke-width="1.25" />
<rect x="1044.24" y="363.00" width="4.40" height="13.00" fill="#ef5350" />
<line x1="1051.98" y1="367.00" x2="1051.98" y2="379.00" stroke="#26a69a" stroke-width="1.25" />
<rect x="1049.78" y="367.60" width="4.40" height="8.40" fill="#26a69a" />
<line x1="1057.53" y1="356.00" x2="1057.53" y2="380.40" stroke="#26a69a" stroke-width="1.25" />
<rect x="1055.33" y="357.00" width="4.40" height="11.60" fill="#26a69a" />
<line x1="1063.07" y1="346.00" x2="1063.07" y2="365.60" stroke="#ef5350" stroke-width="1.25" />
<rect x="1060.87" y="357.00" width="4.40" height="2.00" fill="#ef5350" />
<line x1="1068.62" y1="348.40" x2="1068.62" y2="364.00" stroke="#26a69a" stroke-width="1.25" />
<rect x="1066.42" y="350.60" width="4.40" height="8.40" fill="#26a69a" />
<line x1="1074.16" y1="342.00" x2="1074.16" y2="355.00" stroke="#26a69a" stroke-width="1.25" />
<rect x="1071.96" y="348.00" width="4.40" height="3.40" fill="#26a69a" />
<line x1="1079.71" y1="346.00" x2="1079.71" y2="353.00" stroke="#ef5350" stroke-width="1.25" />
<rect x="1077.51" y="348.00" width="4.40" height="4.40" fill="#ef5350" />
<line x1="1085.25" y1="349.00" x2="1085.25" y2="359.00" stroke="#ef5350" stroke-width="1.25" />
<rect x="1083.05" y="351.00" width="4.40" height="2.00" fill="#ef5350" />
<line x1="1090.80" y1="344.00" x2="1090.80" y2="356.00" stroke="#26a69a" stroke-width="1.25" />
<rect x="1088.60" y="345.60" width="4.40" height="7.00" fill="#26a69a" />
<line x1="1096.35" y1="341.00" x2="1096.35" y2="353.00" stroke="#ef5350" stroke-width="1.25" />
<rect x="1094.14" y="345.60" width="4.40" height="2.80" fill="#ef5350" />
<line x1="1101.89" y1="347.00" x2="1101.89" y2="356.00" stroke="#ef5350" stroke-width="1.25" />
<rect x="1099.69" y="347.60" width="4.40" height="7.80" fill="#ef5350" />
<line x1="1107.43" y1="352.40" x2="1107.43" y2="365.60" stroke="#26a69a" stroke-width="1.25" />
<rect x="1105.23" y="353.00" width="4.40" height="1.40" fill="#26a69a" />
<line x1="1112.98" y1="351.00" x2="1112.98" y2="357.00" stroke="#ef5350" stroke-width="1.25" />
<rect x="1110.78" y="353.00" width="4.40" height="1.40" fill="#ef5350" />
<line x1="1118.52" y1="353.00" x2="1118.52" y2="363.60" stroke="#ef5350" stroke-width="1.25" />
<rect x="1116.32" y="354.00" width="4.40" height="7.00" fill="#ef5350" />
<line x1="1124.07" y1="358.00" x2="1124.07" y2="365.00" stroke="#ef5350" stroke-width="1.25" />
<rect x="1121.87" y="359.60" width="4.40" height="2.40" fill="#ef5350" />
<line x1="1129.62" y1="356.60" x2="1129.62" y2="363.40" stroke="#26a69a" stroke-width="1.25" />
<rect x="1127.41" y="358.40" width="4.40" height="3.20" fill="#26a69a" />
<line x1="1135.16" y1="354.00" x2="1135.16" y2="361.60" stroke="#ef5350" stroke-width="1.25" />
<rect x="1132.96" y="357.40" width="4.40" height="2.00" fill="#ef5350" />
<line x1="1140.70" y1="354.60" x2="1140.70" y2="360.00" stroke="#26a69a" stroke-width="1.25" />
<rect x="1138.50" y="356.40" width="4.40" height="3.00" fill="#26a69a" />
<line x1="1146.25" y1="347.60" x2="1146.25" y2="357.60" stroke="#26a69a" stroke-width="1.25" />
<rect x="1144.05" y="348.40" width="4.40" height="8.60" fill="#26a69a" />
<line x1="1151.79" y1="346.00" x2="1151.79" y2="351.20" stroke="#ef5350" stroke-width="1.25" />
<rect x="1149.59" y="348.00" width="4.40" height="2.40" fill="#ef5350" />
<line x1="1157.34" y1="327.40" x2="1157.34" y2="351.60" stroke="#26a69a" stroke-width="1.25" />
<rect x="1155.14" y="329.00" width="4.40" height="21.40" fill="#26a69a" />
<line x1="1162.88" y1="322.40" x2="1162.88" y2="351.00" stroke="#ef5350" stroke-width="1.25" />
<rect x="1160.68" y="329.00" width="4.40" height="21.00" fill="#ef5350" />
<line x1="1168.43" y1="315.00" x2="1168.43" y2="357.00" stroke="#26a69a" stroke-width="1.25" />
<rect x="1166.23" y="318.00" width="4.40" height="32.00" fill="#26a69a" />
<line x1="1173.97" y1="309.40" x2="1173.97" y2="354.00" stroke="#ef5350" stroke-width="1.25" />
<rect x="1171.77" y="318.00" width="4.40" height="35.00" fill="#ef5350" />
<line x1="1179.52" y1="350.60" x2="1179.52" y2="371.60" stroke="#ef5350" stroke-width="1.25" />
<rect x="1177.32" y="352.60" width="4.40" height="5.80" fill="#ef5350" />
<line x1="1185.06" y1="356.00" x2="1185.06" y2="363.00" stroke="#ef5350" stroke-width="1.25" />
<rect x="1182.86" y="357.60" width="4.40" height="4.00" fill="#ef5350" />
<line x1="1190.61" y1="336.00" x2="1190.61" y2="371.00" stroke="#26a69a" stroke-width="1.25" />
<rect x="1188.41" y="338.00" width="4.40" height="23.00" fill="#26a69a" />
<line x1="1196.15" y1="328.40" x2="1196.15" y2="342.00" stroke="#26a69a" stroke-width="1.25" />
<rect x="1193.95" y="329.40" width="4.40" height="9.60" fill="#26a69a" />
<line x1="1201.70" y1="325.00" x2="1201.70" y2="335.60" stroke="#26a69a" stroke-width="1.25" />
<rect x="1199.50" y="327.60" width="4.40" height="2.00" fill="#26a69a" />
<line x1="1207.24" y1="313.00" x2="1207.24" y2="330.00" stroke="#26a69a" stroke-width="1.25" />
<rect x="1205.04" y="326.00" width="4.40" height="3.00" fill="#26a69a" />
<line x1="1212.79" y1="318.40" x2="1212.79" y2="337.40" stroke="#ef5350" stroke-width="1.25" />
<rect x="1210.59" y="326.00" width="4.40" height="10.00" fill="#ef5350" />
<line x1="1218.33" y1="331.00" x2="1218.33" y2="338.00" stroke="#26a69a" stroke-width="1.25" />
<rect x="1216.13" y="333.00" width="4.40" height="3.00" fill="#26a69a" />
<line x1="1223.88" y1="330.40" x2="1223.88" y2="346.00" stroke="#26a69a" stroke-width="1.25" />
<rect x="1221.68" y="331.40" width="4.40" height="2.20" fill="#26a69a" />
<line x1="1229.42" y1="308.00" x2="1229.42" y2="335.00" stroke="#26a69a" stroke-width="1.25" />
<rect x="1227.22" y="311.00" width="4.40" height="21.00" fill="#26a69a" />
<line x1="1234.97" y1="307.40" x2="1234.97" y2="324.40" stroke="#ef5350" stroke-width="1.25" />
<rect x="1232.77" y="311.40" width="4.40" height="2.20" fill="#ef5350" />
<line x1="1240.51" y1="309.00" x2="1240.51" y2="321.00" stroke="#ef5350" stroke-width="1.25" />
<rect x="1238.31" y="312.00" width="4.40" height="2.00" fill="#ef5350" />
<line x1="1246.06" y1="299.00" x2="1246.06" y2="319.00" stroke="#ef5350" stroke-width="1.25" />
<rect x="1243.86" y="313.60" width="4.40" height="4.40" fill="#ef5350" />
<line x1="1251.61" y1="314.00" x2="1251.61" y2="323.00" stroke="#26a69a" stroke-width="1.25" />
<rect x="1249.40" y="316.40" width="4.40" height="2.00" fill="#26a69a" />
<line x1="1257.15" y1="281.00" x2="1257.15" y2="320.00" stroke="#26a69a" stroke-width="1.25" />
<rect x="1254.95" y="287.00" width="4.40" height="31.00" fill="#26a69a" />
<line x1="1262.69" y1="276.40" x2="1262.69" y2="322.40" stroke="#ef5350" stroke-width="1.25" />
<rect x="1260.49" y="287.60" width="4.40" height="4.80" fill="#ef5350" />
<line x1="1268.24" y1="264.00" x2="1268.24" y2="303.00" stroke="#26a69a" stroke-width="1.25" />
<rect x="1266.04" y="279.00" width="4.40" height="13.00" fill="#26a69a" />
<line x1="1273.78" y1="251.00" x2="1273.78" y2="284.40" stroke="#26a69a" stroke-width="1.25" />
<rect x="1271.58" y="252.60" width="4.40" height="27.40" fill="#26a69a" />
<line x1="1279.33" y1="251.60" x2="1279.33" y2="269.00" stroke="#ef5350" stroke-width="1.25" />
<rect x="1277.13" y="252.60" width="4.40" height="10.40" fill="#ef5350" />
<line x1="1284.88" y1="258.00" x2="1284.88" y2="271.00" stroke="#ef5350" stroke-width="1.25" />
<rect x="1282.67" y="261.00" width="4.40" height="2.00" fill="#ef5350" />
<line x1="1290.42" y1="254.40" x2="1290.42" y2="268.40" stroke="#26a69a" stroke-width="1.25" />
<rect x="1288.22" y="258.60" width="4.40" height="4.40" fill="#26a69a" />
<line x1="1295.96" y1="250.00" x2="1295.96" y2="263.60" stroke="#ef5350" stroke-width="1.25" />
<rect x="1293.76" y="259.00" width="4.40" height="2.00" fill="#ef5350" />
<line x1="1301.51" y1="253.60" x2="1301.51" y2="265.60" stroke="#26a69a" stroke-width="1.25" />
<rect x="1299.31" y="254.00" width="4.40" height="7.00" fill="#26a69a" />
<line x1="1307.05" y1="252.00" x2="1307.05" y2="263.00" stroke="#ef5350" stroke-width="1.25" />
<rect x="1304.85" y="254.00" width="4.40" height="8.00" fill="#ef5350" />
<line x1="1312.60" y1="260.00" x2="1312.60" y2="270.00" stroke="#ef5350" stroke-width="1.25" />
<rect x="1310.40" y="261.40" width="4.40" height="5.20" fill="#ef5350" />
<line x1="1318.14" y1="257.40" x2="1318.14" y2="288.40" stroke="#ef5350" stroke-width="1.25" />
<rect x="1315.94" y="266.00" width="4.40" height="21.00" fill="#ef5350" />
<line x1="1323.69" y1="275.00" x2="1323.69" y2="308.00" stroke="#ef5350" stroke-width="1.25" />
<rect x="1321.49" y="286.00" width="4.40" height="2.40" fill="#ef5350" />
<line x1="1329.23" y1="277.00" x2="1329.23" y2="299.00" stroke="#ef5350" stroke-width="1.25" />
<rect x="1327.03" y="288.00" width="4.40" height="3.00" fill="#ef5350" />
<line x1="1334.78" y1="289.60" x2="1334.78" y2="314.40" stroke="#ef5350" stroke-width="1.25" />
<rect x="1332.58" y="290.40" width="4.40" height="17.60" fill="#ef5350" />
<line x1="1340.32" y1="294.00" x2="1340.32" y2="313.40" stroke="#26a69a" stroke-width="1.25" />
<rect x="1338.12" y="294.60" width="4.40" height="13.40" fill="#26a69a" />
<line x1="1345.87" y1="292.40" x2="1345.87" y2="305.60" stroke="#ef5350" stroke-width="1.25" />
<rect x="1343.67" y="294.60" width="4.40" height="10.40" fill="#ef5350" />
<line x1="1351.41" y1="281.00" x2="1351.41" y2="305.60" stroke="#26a69a" stroke-width="1.25" />
<rect x="1349.21" y="283.60" width="4.40" height="21.40" fill="#26a69a" />
<line x1="1356.96" y1="283.00" x2="1356.96" y2="292.40" stroke="#ef5350" stroke-width="1.25" />
<rect x="1354.76" y="284.00" width="4.40" height="4.40" fill="#ef5350" />
<line x1="1362.50" y1="283.60" x2="1362.50" y2="291.00" stroke="#26a69a" stroke-width="1.25" />
<rect x="1360.30" y="285.60" width="4.40" height="2.40" fill="#26a69a" />
<line x1="1368.05" y1="285.00" x2="1368.05" y2="306.00" stroke="#ef5350" stroke-width="1.25" />
<rect x="1365.85" y="286.60" width="4.40" height="16.40" fill="#ef5350" />
<line x1="1373.60" y1="296.00" x2="1373.60" y2="309.40" stroke="#26a69a" stroke-width="1.25" />
<rect x="1371.39" y="298.00" width="4.40" height="5.00" fill="#26a69a" />
<line x1="1379.14" y1="295.00" x2="1379.14" y2="306.00" stroke="#ef5350" stroke-width="1.25" />
<rect x="1376.94" y="298.00" width="4.40" height="6.00" fill="#ef5350" />
<line x1="1384.68" y1="302.40" x2="1384.68" y2="315.60" stroke="#ef5350" stroke-width="1.25" />
<rect x="1382.48" y="303.40" width="4.40" height="5.60" fill="#ef5350" />
<line x1="1390.23" y1="302.40" x2="1390.23" y2="317.00" stroke="#ef5350" stroke-width="1.25" />
<rect x="1388.03" y="308.00" width="4.40" height="4.60" fill="#ef5350" />
<line x1="1395.77" y1="300.00" x2="1395.77" y2="316.40" stroke="#26a69a" stroke-width="1.25" />
<rect x="1393.57" y="302.60" width="4.40" height="10.00" fill="#26a69a" />
<line x1="1401.32" y1="283.00" x2="1401.32" y2="310.00" stroke="#26a69a" stroke-width="1.25" />
<rect x="1399.12" y="286.00" width="4.40" height="17.40" fill="#26a69a" />
<line x1="1406.87" y1="277.00" x2="1406.87" y2="291.40" stroke="#26a69a" stroke-width="1.25" />
<rect x="1404.66" y="279.00" width="4.40" height="8.60" fill="#26a69a" />
<line x1="1412.41" y1="271.60" x2="1412.41" y2="283.00" stroke="#26a69a" stroke-width="1.25" />
<rect x="1410.21" y="273.40" width="4.40" height="6.20" fill="#26a69a" />
<line x1="1417.95" y1="272.40" x2="1417.95" y2="281.00" stroke="#ef5350" stroke-width="1.25" />
<rect x="1415.75" y="273.40" width="4.40" height="4.60" fill="#ef5350" />
<line x1="1423.50" y1="269.00" x2="1423.50" y2="282.00" stroke="#26a69a" stroke-width="1.25" />
<rect x="1421.30" y="274.00" width="4.40" height="4.00" fill="#26a69a" />
<line x1="15.00" y1="68.20" x2="1423.50" y2="68.20" stroke="#1f8f86" stroke-width="1.0" />
<line x1="15.00" y1="68.20" x2="1423.50" y2="68.20" stroke="#c03a47" stroke-width="1.1" stroke-dasharray="4.6 1.8"/>
<line x1="1427.50" y1="68.20" x2="1477.00" y2="68.20" stroke="#6a6d78" stroke-width="1.2" stroke-dasharray="1.3 2.2"/>
<rect x="257.00" y="64.60" width="4.60" height="3.60" fill="#1f8f86" />
<rect x="90.00" y="68.20" width="4.00" height="1.80" fill="#d2414b" />
<rect x="84.00" y="67.00" width="4.00" height="1.20" fill="#1f8f86" />
<rect x="290.00" y="68.20" width="4.00" height="2.20" fill="#d2414b" />
<rect x="296.00" y="66.40" width="4.00" height="1.80" fill="#1f8f86" />
<rect x="301.00" y="68.20" width="4.00" height="1.60" fill="#d2414b" />
<rect x="362.00" y="66.20" width="4.40" height="2.00" fill="#1f8f86" />
<rect x="396.00" y="65.00" width="4.60" height="3.20" fill="#1f8f86" />
<rect x="391.00" y="68.20" width="4.00" height="1.60" fill="#d2414b" />
<rect x="318.00" y="68.20" width="4.00" height="1.20" fill="#d2414b" />
<rect x="584.00" y="67.00" width="10.00" height="1.20" fill="#1f8f86" />
<rect x="628.00" y="68.20" width="6.00" height="1.20" fill="#d2414b" />
<rect x="645.00" y="68.20" width="5.00" height="1.00" fill="#d2414b" />
<rect x="761.00" y="68.20" width="5.00" height="1.40" fill="#d2414b" />
<rect x="801.00" y="66.80" width="4.00" height="1.40" fill="#1f8f86" />
<rect x="823.00" y="66.00" width="4.40" height="2.20" fill="#1f8f86" />
<rect x="829.00" y="65.00" width="4.00" height="3.20" fill="#1f8f86" />
<rect x="955.00" y="68.20" width="5.00" height="2.00" fill="#d2414b" />
<rect x="961.00" y="68.20" width="4.00" height="1.40" fill="#d2414b" />
<rect x="995.00" y="68.20" width="5.00" height="1.40" fill="#d2414b" />
<rect x="1001.00" y="68.20" width="8.00" height="1.20" fill="#d2414b" />
<rect x="1012.00" y="66.60" width="4.00" height="1.60" fill="#1f8f86" />
<rect x="1255.00" y="68.20" width="5.00" height="2.40" fill="#d2414b" />
<rect x="1174.00" y="66.60" width="4.00" height="1.60" fill="#1f8f86" />
<rect x="1407.00" y="66.20" width="4.40" height="2.00" fill="#1f8f86" />
<circle cx="15" cy="68.5" r="4.7" fill="#ef5350"/>
<circle cx="36.8" cy="67.6" r="4.7" fill="#26a69a"/>
<circle cx="59.5" cy="66" r="4.7" fill="#26a69a"/>
<circle cx="76" cy="68.6" r="4.7" fill="#ef5350"/>
<circle cx="125.6" cy="67.6" r="4.7" fill="#26a69a"/>
<circle cx="131" cy="68.2" r="4.7" fill="#ef5350"/>
<circle cx="242" cy="68.1" r="4.7" fill="#ef5350"/>
<circle cx="336.5" cy="68.1" r="4.7" fill="#ef5350"/>
<circle cx="353" cy="68.2" r="4.7" fill="#ef5350"/>
<circle cx="375.5" cy="67" r="4.7" fill="#26a69a"/>
<circle cx="474.5" cy="68.2" r="4.7" fill="#ef5350"/>
<circle cx="480.5" cy="68.2" r="4.7" fill="#ef5350"/>
<circle cx="486" cy="68.2" r="4.7" fill="#ef5350"/>
<circle cx="497.5" cy="68.2" r="4.7" fill="#ef5350"/>
<circle cx="531" cy="68.4" r="4.7" fill="#ef5350"/>
<circle cx="564" cy="68.4" r="4.7" fill="#ef5350"/>
<circle cx="663.7" cy="67.6" r="4.7" fill="#26a69a"/>
<circle cx="730" cy="68.3" r="4.7" fill="#ef5350"/>
<circle cx="774.3" cy="68.1" r="4.7" fill="#26a69a"/>
<circle cx="791" cy="66.9" r="4.7" fill="#26a69a"/>
<circle cx="813" cy="68.2" r="4.7" fill="#ef5350"/>
<circle cx="835.5" cy="69.3" r="4.7" fill="#ef5350"/>
<circle cx="863.2" cy="68.2" r="4.7" fill="#ef5350"/>
<circle cx="896.7" cy="68.2" r="4.7" fill="#ef5350"/>
<circle cx="940.8" cy="66.6" r="4.7" fill="#26a69a"/>
<circle cx="1029.5" cy="67.7" r="4.7" fill="#26a69a"/>
<circle cx="1040.5" cy="68.1" r="4.7" fill="#26a69a"/>
<circle cx="1057.5" cy="68.2" r="4.7" fill="#ef5350"/>
<circle cx="1062.5" cy="65.6" r="4.7" fill="#26a69a"/>
<circle cx="1095.8" cy="68.1" r="4.7" fill="#26a69a"/>
<circle cx="1107.4" cy="68.5" r="4.7" fill="#ef5350"/>
<circle cx="1157" cy="68.2" r="4.7" fill="#ef5350"/>
<circle cx="1174" cy="66.8" r="4.7" fill="#26a69a"/>
<circle cx="1190" cy="69.5" r="4.7" fill="#ef5350"/>
<circle cx="1196" cy="69.1" r="4.7" fill="#ef5350"/>
<circle cx="1201.4" cy="68.7" r="4.7" fill="#ef5350"/>
<circle cx="1207" cy="68.2" r="4.7" fill="#ef5350"/>
<circle cx="1218" cy="68.1" r="4.7" fill="#ef5350"/>
<circle cx="1224" cy="68.1" r="4.7" fill="#ef5350"/>
<circle cx="1246" cy="64.2" r="4.7" fill="#26a69a"/>
<circle cx="1262.6" cy="67.2" r="4.7" fill="#26a69a"/>
<circle cx="1273" cy="69.5" r="4.7" fill="#ef5350"/>
<circle cx="1279.4" cy="68.2" r="4.7" fill="#26a69a"/>
<circle cx="1295.6" cy="64.2" r="4.7" fill="#26a69a"/>
<circle cx="1306.6" cy="68.1" r="4.7" fill="#26a69a"/>
<circle cx="1318" cy="66.6" r="4.7" fill="#26a69a"/>
<circle cx="1329" cy="68.1" r="4.7" fill="#26a69a"/>
<circle cx="1356.4" cy="68.1" r="4.7" fill="#26a69a"/>
<circle cx="1390" cy="68.1" r="4.7" fill="#26a69a"/>
<circle cx="1417.4" cy="67.6" r="4.7" fill="#26a69a"/>
<circle cx="1423.6" cy="68.1" r="4.7" fill="#ef5350"/>
<polygon points="15.07,755.00 15.07,741.41 20.62,741.96 26.16,746.61 31.70,754.01 31.70,755.00" fill="#26a69a"/>
<polygon points="31.70,755.00 31.70,754.01 37.25,766.85 42.80,762.25 42.80,755.00" fill="#ef5350"/>
<polygon points="42.80,755.00 42.80,762.25 48.34,752.42 53.88,750.05 59.43,748.69 59.43,755.00" fill="#26a69a"/>
<polygon points="59.43,755.00 59.43,748.69 64.97,757.56 64.97,755.00" fill="#ef5350"/>
<polygon points="64.97,755.00 64.97,757.56 70.52,753.74 76.06,751.02 81.61,752.31 87.16,747.23 87.16,755.00" fill="#26a69a"/>
<polygon points="87.16,755.00 87.16,747.23 92.70,755.55 98.25,760.29 98.25,755.00" fill="#ef5350"/>
<polygon points="98.25,755.00 98.25,760.29 103.79,753.27 109.34,742.73 114.88,738.85 120.43,738.07 125.97,739.00 131.51,750.95 131.51,755.00" fill="#26a69a"/>
<polygon points="131.51,755.00 131.51,750.95 137.06,756.54 137.06,755.00" fill="#ef5350"/>
<polygon points="137.06,755.00 137.06,756.54 142.60,751.50 148.15,746.80 153.69,739.41 159.24,742.14 164.78,744.66 170.33,742.49 175.88,743.97 181.42,741.42 186.97,739.02 192.51,738.45 198.05,741.33 203.60,735.40 209.14,739.29 214.69,749.99 214.69,755.00" fill="#26a69a"/>
<polygon points="214.69,755.00 214.69,749.99 220.23,757.60 225.78,757.28 225.78,755.00" fill="#ef5350"/>
<polygon points="225.78,755.00 225.78,757.28 231.32,747.51 236.87,739.19 242.41,738.23 247.96,736.02 253.50,738.75 259.05,748.09 259.05,755.00" fill="#26a69a"/>
<polygon points="259.05,755.00 259.05,748.09 264.60,757.34 264.60,755.00" fill="#ef5350"/>
<polygon points="264.60,755.00 264.60,757.34 270.14,738.99 275.69,738.43 281.23,740.67 286.77,742.34 286.77,755.00" fill="#26a69a"/>
<polygon points="286.77,755.00 286.77,742.34 292.32,767.62 297.87,799.81 303.41,799.16 308.95,767.62 308.95,755.00" fill="#ef5350"/>
<polygon points="308.95,755.00 308.95,767.62 314.50,744.80 320.05,734.95 325.59,729.01 331.13,753.39 331.13,755.00" fill="#26a69a"/>
<polygon points="331.13,755.00 331.13,753.39 336.68,776.71 342.22,756.63 342.22,755.00" fill="#ef5350"/>
<polygon points="342.22,755.00 342.22,756.63 347.77,747.37 353.31,739.41 358.86,746.21 358.86,755.00" fill="#26a69a"/>
<polygon points="358.86,755.00 358.86,746.21 364.40,761.61 369.95,769.92 369.95,755.00" fill="#ef5350"/>
<polygon points="369.95,755.00 369.95,769.92 375.50,754.30 381.04,749.00 386.58,749.88 386.58,755.00" fill="#26a69a"/>
<polygon points="386.58,755.00 386.58,749.88 392.13,764.03 397.68,766.35 403.22,775.68 403.22,755.00" fill="#ef5350"/>
<polygon points="403.22,755.00 403.22,775.68 408.76,745.16 414.31,733.34 419.85,746.65 425.40,742.86 430.94,745.96 430.94,755.00" fill="#26a69a"/>
<polygon points="430.94,755.00 430.94,745.96 436.49,756.39 436.49,755.00" fill="#ef5350"/>
<polygon points="436.49,755.00 436.49,756.39 442.03,745.94 447.58,736.33 453.12,730.09 458.67,733.42 464.21,731.98 469.76,731.42 475.31,750.35 480.85,745.18 486.39,737.01 491.94,742.94 497.49,746.66 503.03,750.02 508.57,753.72 508.57,755.00" fill="#26a69a"/>
<polygon points="508.57,755.00 508.57,753.72 514.12,756.21 519.66,765.46 519.66,755.00" fill="#ef5350"/>
<polygon points="519.66,755.00 519.66,765.46 525.21,753.71 530.75,745.94 536.30,744.54 541.85,744.94 547.39,742.33 552.94,737.24 558.48,737.87 564.03,739.98 569.57,737.63 575.12,747.39 580.66,747.02 586.21,747.03 586.21,755.00" fill="#26a69a"/>
<polygon points="586.21,755.00 586.21,747.03 591.75,771.73 597.30,777.10 602.84,764.40 602.84,755.00" fill="#ef5350"/>
<polygon points="602.84,755.00 602.84,764.40 608.38,748.08 613.93,748.07 619.48,744.35 619.48,755.00" fill="#26a69a"/>
<polygon points="619.48,755.00 619.48,744.35 625.02,760.10 630.57,783.15 636.11,774.65 641.66,757.09 641.66,755.00" fill="#ef5350"/>
<polygon points="641.66,755.00 641.66,757.09 647.20,752.40 652.75,753.34 652.75,755.00" fill="#26a69a"/>
<polygon points="652.75,755.00 652.75,753.34 658.29,760.21 663.84,763.09 663.84,755.00" fill="#ef5350"/>
<polygon points="663.84,755.00 663.84,763.09 669.38,746.75 674.93,746.25 680.47,748.68 686.01,754.98 691.56,749.37 697.11,752.89 702.65,747.83 702.65,755.00" fill="#26a69a"/>
<polygon points="702.65,755.00 702.65,747.83 708.20,756.22 708.20,755.00" fill="#ef5350"/>
<polygon points="708.20,755.00 708.20,756.22 713.74,736.56 719.29,733.91 724.83,733.71 730.38,734.57 735.92,737.20 741.47,739.93 747.01,734.39 752.56,730.62 758.10,738.53 763.65,745.93 769.19,743.85 774.74,739.86 780.28,744.50 785.83,754.38 785.83,755.00" fill="#26a69a"/>
<polygon points="785.83,755.00 785.83,754.38 791.37,761.86 791.37,755.00" fill="#ef5350"/>
<polygon points="791.37,755.00 791.37,761.86 796.92,746.22 802.46,743.79 808.00,736.52 813.55,731.37 819.10,739.05 824.64,742.94 824.64,755.00" fill="#26a69a"/>
<polygon points="824.64,755.00 824.64,742.94 830.19,762.78 830.19,755.00" fill="#ef5350"/>
<polygon points="830.19,755.00 830.19,762.78 835.73,729.61 841.28,719.91 846.82,725.83 852.37,728.82 857.91,732.37 863.46,738.74 869.00,740.96 874.55,728.69 880.09,725.62 885.63,727.03 891.18,730.96 896.73,729.58 902.27,728.39 907.82,724.14 913.36,728.57 918.91,728.99 924.45,720.54 930.00,713.61 935.54,713.60 941.09,727.95 946.63,724.61 952.18,727.14 957.72,731.67 963.26,734.98 968.81,732.99 974.36,727.13 979.90,729.28 985.45,734.39 990.99,733.60 996.54,731.03 1002.08,726.66 1007.62,730.97 1013.17,724.32 1018.72,734.36 1024.26,732.88 1029.81,738.79 1035.35,742.96 1040.89,751.44 1046.44,741.96 1051.98,736.02 1057.53,733.63 1063.07,729.61 1068.62,730.02 1074.16,734.85 1079.71,730.12 1085.25,736.00 1090.80,736.40 1096.35,740.56 1101.89,745.89 1107.43,740.98 1112.98,737.01 1118.52,742.92 1124.07,739.90 1129.62,731.99 1135.16,727.63 1140.70,728.58 1146.25,726.62 1151.79,729.00 1157.34,729.59 1162.88,728.03 1168.43,727.58 1173.97,723.02 1179.52,742.12 1185.06,739.44 1190.61,743.00 1196.15,741.41 1201.70,742.91 1207.24,737.98 1212.79,735.01 1218.33,736.98 1223.88,741.15 1229.42,751.56 1234.97,742.45 1240.51,743.58 1246.06,733.93 1251.61,727.61 1257.15,736.32 1262.69,737.58 1268.24,729.94 1273.78,722.02 1279.33,727.53 1284.88,724.59 1290.42,724.00 1295.96,724.00 1301.51,725.97 1307.05,727.96 1312.60,724.40 1318.14,725.39 1323.69,725.54 1329.23,734.40 1334.78,734.40 1340.32,732.03 1345.87,736.06 1351.41,740.98 1356.96,735.04 1362.50,732.05 1368.05,734.06 1373.60,740.59 1379.14,735.06 1384.68,731.08 1390.23,742.37 1395.77,737.02 1401.32,726.16 1406.87,729.76 1412.41,743.00 1417.95,742.01 1423.50,736.70 1423.50,755.00" fill="#26a69a"/>
<line x1="15.00" y1="755.00" x2="1423.50" y2="755.00" stroke="#8a8d97" stroke-width="1.0" stroke-dasharray="1.3 2.2" stroke-opacity="0.55"/>
<line x1="1423.50" y1="755.00" x2="1477.00" y2="755.00" stroke="#8a8d97" stroke-width="1.2" stroke-dasharray="1.3 2.2"/>
<polygon points="15.07,874.60 15.07,874.59 20.62,874.15 20.62,874.60" fill="#26a69a"/>
<polygon points="20.62,874.60 20.62,874.15 26.16,875.48 31.70,876.45 37.25,876.62 42.80,876.78 48.34,876.95 53.88,877.12 59.43,877.28 64.97,877.45 70.52,877.62 76.06,877.84 81.61,878.06 87.16,878.29 92.70,878.79 98.25,879.59 103.79,880.39 109.34,880.67 114.88,879.28 120.43,877.87 125.97,876.21 131.51,875.31 137.06,874.85 142.60,874.60 148.15,874.60 153.69,874.60 159.24,874.60 164.78,874.60 170.33,874.60 175.88,874.60 181.42,874.64 186.97,874.81 192.51,874.98 198.05,875.14 203.60,875.34 209.14,875.57 214.69,875.79 220.23,875.99 225.78,875.71 231.32,875.43 236.87,875.16 242.41,874.93 247.96,874.76 247.96,874.60" fill="#ef5350"/>
<polygon points="247.96,874.60 247.96,874.76 253.50,874.59 259.05,874.43 264.60,873.79 270.14,871.70 275.69,869.14 281.23,867.69 286.77,866.31 292.32,863.84 297.87,861.07 303.41,859.32 308.95,858.21 314.50,857.37 320.05,856.63 325.59,859.77 331.13,862.20 336.68,864.58 342.22,867.34 347.77,870.66 353.31,874.15 353.31,874.60" fill="#26a69a"/>
<polygon points="353.31,874.60 353.31,874.15 358.86,877.35 364.40,878.19 369.95,878.43 375.50,877.95 381.04,875.76 386.58,874.62 392.13,874.80 397.68,874.99 403.22,875.26 408.76,875.54 414.31,875.90 419.85,876.29 425.40,876.68 430.94,876.95 436.49,876.68 442.03,876.40 447.58,876.12 453.12,875.94 458.67,875.83 464.21,875.72 469.76,875.60 475.31,876.22 480.85,876.87 486.39,879.20 491.94,881.00 497.49,881.00 503.03,880.74 508.57,879.36 514.12,878.23 519.66,877.19 525.21,876.15 530.75,878.75 536.30,883.75 541.85,879.13 547.39,878.33 552.94,878.59 558.48,879.70 564.03,880.97 569.57,882.30 575.12,881.68 580.66,880.56 586.21,876.90 586.21,874.60" fill="#ef5350"/>
<polygon points="586.21,874.60 586.21,876.90 591.75,874.19 597.30,873.52 602.84,872.97 608.38,872.53 613.93,872.87 619.48,873.54 619.48,874.60" fill="#26a69a"/>
<polygon points="619.48,874.60 619.48,873.54 625.02,874.60 630.57,875.71 636.11,876.59 641.66,877.38 647.20,878.09 652.75,878.48 658.29,878.88 663.84,878.73 669.38,878.33 674.93,877.81 680.47,876.71 686.01,876.34 691.56,877.26 697.11,878.41 702.65,880.49 708.20,881.10 713.74,881.24 719.29,881.38 724.83,880.43 730.38,879.33 735.92,878.54 741.47,877.90 747.01,878.50 752.56,879.63 758.10,875.97 758.10,874.60" fill="#ef5350"/>
<polygon points="758.10,874.60 758.10,875.97 763.65,874.26 769.19,871.70 774.74,870.32 780.28,869.07 785.83,870.51 791.37,871.65 796.92,871.85 802.46,869.66 808.00,862.27 813.55,861.57 819.10,860.63 824.64,859.18 830.19,859.61 835.73,856.59 841.28,857.91 846.82,856.06 852.37,856.00 857.91,858.95 863.46,866.12 869.00,867.64 874.55,869.27 880.09,873.23 880.09,874.60" fill="#26a69a"/>
<polygon points="880.09,874.60 880.09,873.23 885.63,875.17 891.18,879.96 896.73,878.73 902.27,878.65 907.82,879.84 913.36,878.73 918.91,877.52 924.45,876.40 930.00,876.40 935.54,878.43 941.09,876.40 941.09,874.60" fill="#ef5350"/>
<polygon points="941.09,874.60 941.09,876.40 946.63,873.78 946.63,874.60" fill="#26a69a"/>
<polygon points="946.63,874.60 946.63,873.78 952.18,875.76 957.72,880.75 963.26,883.11 968.81,882.44 974.36,884.02 979.90,884.39 985.45,883.96 990.99,883.44 996.54,882.90 1002.08,885.97 1007.62,883.56 1013.17,879.57 1018.72,876.14 1024.26,877.25 1029.81,877.31 1035.35,877.27 1040.89,878.38 1046.44,879.49 1051.98,880.60 1057.53,880.49 1063.07,880.21 1068.62,879.24 1074.16,877.44 1079.71,876.00 1085.25,876.00 1090.80,876.21 1096.35,877.51 1101.89,876.03 1107.43,876.91 1112.98,876.38 1118.52,876.63 1124.07,878.02 1129.62,879.87 1135.16,880.00 1140.70,879.53 1146.25,878.49 1151.79,876.09 1151.79,874.60" fill="#ef5350"/>
<polygon points="1151.79,874.60 1151.79,876.09 1157.34,872.08 1162.88,873.95 1168.43,868.63 1173.97,873.58 1173.97,874.60" fill="#26a69a"/>
<polygon points="1173.97,874.60 1173.97,873.58 1179.52,876.95 1185.06,877.58 1190.61,876.00 1196.15,876.20 1201.70,876.35 1201.70,874.60" fill="#ef5350"/>
<polygon points="1201.70,874.60 1201.70,876.35 1207.24,873.63 1207.24,874.60" fill="#26a69a"/>
<polygon points="1207.24,874.60 1207.24,873.63 1212.79,877.59 1218.33,874.63 1223.88,879.49 1223.88,874.60" fill="#ef5350"/>
<polygon points="1223.88,874.60 1223.88,879.49 1229.42,871.99 1234.97,869.02 1240.51,869.98 1246.06,867.99 1251.61,867.00 1257.15,865.61 1262.69,872.27 1268.24,868.99 1273.78,867.01 1279.33,869.57 1284.88,871.01 1290.42,871.39 1295.96,869.01 1301.51,870.97 1307.05,872.05 1307.05,874.60" fill="#26a69a"/>
<polygon points="1307.05,874.60 1307.05,872.05 1312.60,877.00 1318.14,877.40 1323.69,881.06 1329.23,885.01 1334.78,887.39 1340.32,886.61 1345.87,887.00 1351.41,887.40 1356.96,888.59 1362.50,888.01 1368.05,890.57 1373.60,887.00 1379.14,887.59 1384.68,887.60 1390.23,885.01 1395.77,886.39 1401.32,884.03 1406.87,882.99 1412.41,882.00 1417.95,881.40 1423.50,875.70 1423.50,874.60" fill="#ef5350"/>
<line x1="15.00" y1="874.60" x2="1423.50" y2="874.60" stroke="#8a8d97" stroke-width="1.0" stroke-dasharray="1.3 2.2" stroke-opacity="0.55"/>
<line x1="1423.50" y1="874.60" x2="1477.00" y2="874.60" stroke="#8a8d97" stroke-width="1.2" stroke-dasharray="1.3 2.2"/>
<polygon points="15.07,926.00 15.07,937.58 20.62,936.27 26.16,934.96 31.70,933.67 31.70,926.00" fill="#ef5350"/>
<polygon points="31.70,926.00 31.70,933.67 37.25,924.50 42.80,921.60 48.34,918.83 53.88,917.03 59.43,915.64 64.97,914.26 70.52,914.32 76.06,914.72 81.61,916.01 87.16,919.47 92.70,924.70 92.70,926.00" fill="#26a69a"/>
<polygon points="92.70,926.00 92.70,924.70 98.25,927.27 103.79,928.94 109.34,928.62 114.88,928.22 120.43,928.49 125.97,929.59 131.51,930.88 137.06,932.26 142.60,933.43 148.15,934.36 153.69,935.13 159.24,935.56 164.78,935.99 170.33,936.32 175.88,935.03 181.42,930.48 186.97,926.03 186.97,926.00" fill="#ef5350"/>
<polygon points="186.97,926.00 186.97,926.03 192.51,922.38 198.05,922.20 203.60,922.01 209.14,921.57 214.69,921.11 220.23,921.00 225.78,921.00 231.32,922.07 236.87,922.57 242.41,919.96 247.96,919.40 253.50,918.25 259.05,915.74 264.60,914.35 270.14,913.17 275.69,912.06 281.23,913.74 286.77,912.41 292.32,916.32 297.87,912.20 303.41,910.20 308.95,913.30 314.50,915.80 320.05,918.01 325.59,919.12 331.13,920.32 336.68,921.91 342.22,925.87 342.22,926.00" fill="#26a69a"/>
<polygon points="342.22,926.00 342.22,925.87 347.77,931.13 353.31,932.86 358.86,945.51 364.40,945.09 369.95,946.39 375.50,944.20 381.04,942.66 386.58,941.12 392.13,944.35 397.68,942.13 403.22,939.91 408.76,939.12 414.31,939.26 419.85,939.59 425.40,940.03 430.94,940.71 436.49,942.51 442.03,945.98 447.58,943.21 453.12,941.08 458.67,938.22 464.21,934.89 469.76,933.81 475.31,933.08 480.85,928.87 480.85,926.00" fill="#ef5350"/>
<polygon points="480.85,926.00 480.85,928.87 486.39,925.07 491.94,923.51 497.49,922.26 503.03,919.49 508.57,922.51 508.57,926.00" fill="#26a69a"/>
<polygon points="508.57,926.00 508.57,922.51 514.12,928.08 519.66,931.78 525.21,932.65 530.75,935.30 536.30,939.15 541.85,941.62 547.39,943.23 552.94,944.47 558.48,947.08 564.03,947.95 569.57,938.43 575.12,933.72 580.66,932.34 586.21,926.36 586.21,926.00" fill="#ef5350"/>
<polygon points="586.21,926.00 586.21,926.36 591.75,925.85 591.75,926.00" fill="#26a69a"/>
<polygon points="591.75,926.00 591.75,925.85 597.30,928.90 602.84,927.05 602.84,926.00" fill="#ef5350"/>
<polygon points="602.84,926.00 602.84,927.05 608.38,925.74 613.93,923.43 619.48,922.12 625.02,920.86 625.02,926.00" fill="#26a69a"/>
<polygon points="625.02,926.00 625.02,920.86 630.57,926.71 636.11,928.97 641.66,934.91 647.20,934.11 652.75,934.53 658.29,935.48 663.84,937.54 669.38,938.14 674.93,940.45 680.47,944.13 686.01,945.61 691.56,947.98 697.11,945.03 702.65,946.25 708.20,942.99 713.74,942.66 719.29,942.27 724.83,941.72 730.38,942.83 735.92,939.49 741.47,936.09 747.01,934.18 752.56,937.35 758.10,937.60 763.65,937.16 769.19,936.50 774.74,935.07 780.28,933.57 785.83,932.90 791.37,932.47 796.92,932.75 802.46,931.39 802.46,926.00" fill="#ef5350"/>
<polygon points="802.46,926.00 802.46,931.39 808.00,919.60 813.55,919.04 819.10,920.91 824.64,916.07 830.19,917.15 835.73,913.05 841.28,914.81 846.82,910.78 852.37,905.30 857.91,901.49 863.46,909.55 869.00,909.00 874.55,908.22 880.09,910.97 885.63,909.03 891.18,912.94 896.73,911.02 902.27,912.23 907.82,916.85 913.36,920.97 918.91,920.02 924.45,919.00 930.00,919.00 935.54,919.99 941.09,918.92 946.63,913.60 952.18,914.45 957.72,916.00 963.26,915.99 968.81,915.00 974.36,916.66 979.90,911.54 985.45,910.41 990.99,912.00 996.54,915.56 1002.08,922.03 1007.62,924.01 1007.62,926.00" fill="#26a69a"/>
<polygon points="1007.62,926.00 1007.62,924.01 1013.17,926.33 1013.17,926.00" fill="#ef5350"/>
<polygon points="1013.17,926.00 1013.17,926.33 1018.72,924.06 1018.72,926.00" fill="#26a69a"/>
<polygon points="1018.72,926.00 1018.72,924.06 1024.26,926.94 1024.26,926.00" fill="#ef5350"/>
<polygon points="1024.26,926.00 1024.26,926.94 1029.81,925.65 1029.81,926.00" fill="#26a69a"/>
<polygon points="1029.81,926.00 1029.81,925.65 1035.35,929.96 1040.89,934.91 1046.44,935.58 1051.98,933.01 1057.53,933.99 1063.07,934.38 1068.62,933.01 1074.16,934.34 1079.71,932.45 1085.25,934.99 1090.80,934.00 1096.35,933.01 1101.89,932.02 1107.43,933.58 1112.98,931.01 1118.52,929.62 1124.07,931.00 1129.62,931.01 1135.16,934.97 1140.70,932.05 1146.25,930.98 1151.79,929.00 1151.79,926.00" fill="#ef5350"/>
<polygon points="1151.79,926.00 1151.79,929.00 1157.34,919.70 1162.88,918.42 1168.43,919.00 1173.97,919.00 1173.97,926.00" fill="#26a69a"/>
<polygon points="1173.97,926.00 1173.97,919.00 1179.52,926.89 1185.06,928.35 1185.06,926.00" fill="#ef5350"/>
<polygon points="1185.06,926.00 1185.06,928.35 1190.61,924.00 1196.15,923.40 1196.15,926.00" fill="#26a69a"/>
<polygon points="1196.15,926.00 1196.15,923.40 1201.70,927.58 1207.24,926.47 1212.79,934.98 1218.33,935.00 1223.88,933.57 1229.42,931.56 1229.42,926.00" fill="#ef5350"/>
<polygon points="1229.42,926.00 1229.42,931.56 1234.97,922.45 1240.51,923.38 1246.06,922.95 1251.61,917.99 1257.15,905.51 1262.69,914.82 1268.24,909.97 1273.78,906.41 1279.33,905.61 1284.88,905.99 1290.42,904.99 1295.96,902.42 1301.51,903.38 1307.05,908.13 1312.60,921.60 1318.14,916.45 1318.14,926.00" fill="#26a69a"/>
<polygon points="1318.14,926.00 1318.14,916.45 1323.69,933.11 1329.23,939.63 1334.78,943.98 1340.32,945.38 1345.87,947.90 1351.41,940.00 1356.96,940.00 1362.50,939.02 1368.05,937.99 1373.60,936.40 1373.60,926.00" fill="#ef5350"/>
<polygon points="1373.60,926.00 1373.60,936.40 1379.14,925.72 1379.14,926.00" fill="#26a69a"/>
<polygon points="1379.14,926.00 1379.14,925.72 1384.68,928.34 1390.23,930.42 1395.77,934.38 1401.32,934.09 1406.87,938.61 1412.41,939.40 1417.95,940.00 1423.50,939.41 1423.50,926.00" fill="#ef5350"/>
<line x1="15.00" y1="926.00" x2="1423.50" y2="926.00" stroke="#8a8d97" stroke-width="1.0" stroke-dasharray="1.3 2.2" stroke-opacity="0.55"/>
<line x1="1423.50" y1="926.00" x2="1477.00" y2="926.00" stroke="#8a8d97" stroke-width="1.2" stroke-dasharray="1.3 2.2"/>
<rect x="40.59" y="844.37" width="4.40" height="0.68" fill="#26a69a" />
<rect x="46.14" y="843.69" width="4.40" height="0.68" fill="#26a69a" />
<rect x="51.68" y="843.01" width="4.40" height="0.68" fill="#26a69a" />
<rect x="57.23" y="843.01" width="4.40" height="0.60" fill="#ef5350" />
<rect x="62.77" y="843.61" width="4.40" height="0.62" fill="#ef5350" />
<rect x="68.32" y="844.23" width="4.40" height="0.54" fill="#ef5350" />
<rect x="96.05" y="844.15" width="4.40" height="0.30" fill="#ef5350" />
<rect x="101.59" y="844.45" width="4.40" height="0.30" fill="#ef5350" />
<rect x="107.14" y="844.75" width="4.40" height="0.30" fill="#ef5350" />
<rect x="240.22" y="842.59" width="4.40" height="1.41" fill="#26a69a" />
<rect x="245.76" y="840.70" width="4.40" height="1.89" fill="#26a69a" />
<rect x="251.31" y="839.30" width="4.40" height="1.40" fill="#26a69a" />
<rect x="256.85" y="838.19" width="4.40" height="1.11" fill="#26a69a" />
<rect x="262.40" y="838.19" width="4.40" height="0.73" fill="#ef5350" />
<rect x="267.94" y="838.92" width="4.40" height="0.40" fill="#ef5350" />
<rect x="273.49" y="838.58" width="4.40" height="0.74" fill="#26a69a" />
<rect x="279.03" y="837.63" width="4.40" height="0.94" fill="#26a69a" />
<rect x="284.57" y="835.97" width="4.40" height="1.66" fill="#26a69a" />
<rect x="290.12" y="834.68" width="4.40" height="1.29" fill="#26a69a" />
<rect x="295.67" y="833.90" width="4.40" height="0.78" fill="#26a69a" />
<rect x="306.75" y="833.87" width="4.40" height="0.44" fill="#ef5350" />
<rect x="312.30" y="834.32" width="4.40" height="0.53" fill="#ef5350" />
<rect x="317.85" y="834.85" width="4.40" height="0.55" fill="#ef5350" />
<rect x="323.39" y="835.40" width="4.40" height="0.55" fill="#ef5350" />
<rect x="356.66" y="835.78" width="4.40" height="0.39" fill="#26a69a" />
<rect x="362.20" y="835.39" width="4.40" height="0.39" fill="#26a69a" />
<rect x="367.75" y="835.00" width="4.40" height="0.39" fill="#26a69a" />
<rect x="373.30" y="834.52" width="4.40" height="0.48" fill="#26a69a" />
<rect x="378.84" y="834.03" width="4.40" height="0.49" fill="#26a69a" />
<rect x="384.38" y="833.41" width="4.40" height="0.62" fill="#26a69a" />
<rect x="389.93" y="831.61" width="4.40" height="1.80" fill="#26a69a" />
<rect x="395.48" y="831.23" width="4.40" height="0.38" fill="#26a69a" />
<rect x="401.02" y="831.23" width="4.40" height="0.35" fill="#ef5350" />
<rect x="406.56" y="831.58" width="4.40" height="0.35" fill="#ef5350" />
<rect x="412.11" y="831.92" width="4.40" height="0.42" fill="#ef5350" />
<rect x="417.65" y="832.34" width="4.40" height="0.44" fill="#ef5350" />
<rect x="423.20" y="832.79" width="4.40" height="0.44" fill="#ef5350" />
<rect x="428.75" y="833.23" width="4.40" height="0.37" fill="#ef5350" />
<rect x="556.28" y="834.58" width="4.40" height="0.28" fill="#26a69a" />
<rect x="561.83" y="834.30" width="4.40" height="0.28" fill="#26a69a" />
<rect x="567.37" y="834.02" width="4.40" height="0.28" fill="#26a69a" />
<rect x="572.91" y="833.15" width="4.40" height="0.87" fill="#26a69a" />
<rect x="578.46" y="832.22" width="4.40" height="0.92" fill="#26a69a" />
<rect x="584.00" y="829.90" width="4.40" height="2.33" fill="#26a69a" />
<rect x="589.55" y="828.17" width="4.40" height="1.72" fill="#26a69a" />
<rect x="595.10" y="828.17" width="4.40" height="0.55" fill="#ef5350" />
<rect x="600.64" y="828.73" width="4.40" height="0.27" fill="#ef5350" />
<rect x="622.82" y="829.00" width="4.40" height="0.50" fill="#ef5350" />
<rect x="628.37" y="829.50" width="4.40" height="0.55" fill="#ef5350" />
<rect x="633.91" y="830.06" width="4.40" height="0.55" fill="#ef5350" />
<rect x="639.46" y="830.61" width="4.40" height="0.47" fill="#ef5350" />
<rect x="645.00" y="831.08" width="4.40" height="0.28" fill="#ef5350" />
<rect x="650.54" y="831.36" width="4.40" height="0.28" fill="#ef5350" />
<rect x="656.09" y="831.64" width="4.40" height="0.28" fill="#ef5350" />
<rect x="694.90" y="832.83" width="4.40" height="0.35" fill="#ef5350" />
<rect x="700.45" y="833.18" width="4.40" height="0.92" fill="#ef5350" />
<rect x="706.00" y="834.11" width="4.40" height="0.88" fill="#ef5350" />
<rect x="711.54" y="834.71" width="4.40" height="0.28" fill="#26a69a" />
<rect x="717.09" y="834.44" width="4.40" height="0.28" fill="#26a69a" />
<rect x="722.63" y="834.44" width="4.40" height="0.25" fill="#ef5350" />
<rect x="728.17" y="834.69" width="4.40" height="0.33" fill="#ef5350" />
<rect x="733.72" y="835.02" width="4.40" height="0.33" fill="#ef5350" />
<rect x="755.90" y="834.65" width="4.40" height="0.48" fill="#26a69a" />
<rect x="761.45" y="833.73" width="4.40" height="0.92" fill="#26a69a" />
<rect x="766.99" y="833.06" width="4.40" height="0.67" fill="#26a69a" />
<rect x="772.53" y="833.06" width="4.40" height="0.28" fill="#ef5350" />
<rect x="778.08" y="833.34" width="4.40" height="0.26" fill="#ef5350" />
<rect x="800.26" y="832.71" width="4.40" height="0.89" fill="#26a69a" />
<rect x="805.80" y="830.72" width="4.40" height="2.00" fill="#26a69a" />
<rect x="811.35" y="829.11" width="4.40" height="1.61" fill="#26a69a" />
<rect x="816.89" y="828.22" width="4.40" height="0.89" fill="#26a69a" />
<rect x="822.44" y="828.22" width="4.40" height="1.11" fill="#ef5350" />
<rect x="827.99" y="829.33" width="4.40" height="0.69" fill="#ef5350" />
<rect x="833.53" y="830.02" width="4.40" height="0.55" fill="#ef5350" />
<rect x="839.08" y="830.57" width="4.40" height="0.43" fill="#ef5350" />
<rect x="866.80" y="831.17" width="4.40" height="0.28" fill="#ef5350" />
<rect x="877.89" y="830.91" width="4.40" height="0.48" fill="#26a69a" />
<rect x="883.43" y="830.43" width="4.40" height="0.48" fill="#26a69a" />
<rect x="905.62" y="830.05" width="4.40" height="1.11" fill="#ef5350" />
<rect x="916.71" y="829.82" width="4.40" height="1.11" fill="#26a69a" />
<rect x="922.25" y="828.71" width="4.40" height="1.11" fill="#26a69a" />
<rect x="927.79" y="828.24" width="4.40" height="0.47" fill="#26a69a" />
<rect x="949.98" y="827.64" width="4.40" height="0.37" fill="#ef5350" />
<rect x="955.52" y="828.01" width="4.40" height="0.37" fill="#ef5350" />
<rect x="961.06" y="828.38" width="4.40" height="0.55" fill="#ef5350" />
<rect x="966.61" y="828.93" width="4.40" height="0.55" fill="#ef5350" />
<rect x="972.15" y="829.48" width="4.40" height="0.45" fill="#ef5350" />
<rect x="977.70" y="828.89" width="4.40" height="1.04" fill="#26a69a" />
<rect x="983.25" y="827.85" width="4.40" height="1.04" fill="#26a69a" />
<rect x="988.79" y="827.07" width="4.40" height="0.78" fill="#26a69a" />
<rect x="994.34" y="827.07" width="4.40" height="0.42" fill="#ef5350" />
<rect x="999.88" y="827.49" width="4.40" height="0.38" fill="#ef5350" />
<rect x="1005.42" y="827.87" width="4.40" height="0.37" fill="#ef5350" />
<rect x="1010.97" y="828.24" width="4.40" height="0.25" fill="#ef5350" />
<rect x="1094.14" y="828.66" width="4.40" height="0.39" fill="#ef5350" />
<rect x="1099.69" y="829.04" width="4.40" height="0.39" fill="#ef5350" />
<rect x="1105.23" y="829.43" width="4.40" height="0.39" fill="#ef5350" />
<rect x="1138.50" y="830.13" width="4.40" height="0.26" fill="#26a69a" />
<rect x="1144.05" y="829.81" width="4.40" height="0.32" fill="#26a69a" />
<rect x="1149.59" y="828.88" width="4.40" height="0.93" fill="#26a69a" />
<rect x="1155.14" y="826.66" width="4.40" height="2.22" fill="#26a69a" />
<rect x="1160.68" y="826.20" width="4.40" height="0.46" fill="#26a69a" />
<rect x="1171.77" y="826.11" width="4.40" height="1.39" fill="#ef5350" />
<rect x="1177.32" y="827.49" width="4.40" height="1.39" fill="#ef5350" />
<rect x="1188.41" y="826.70" width="4.40" height="2.30" fill="#26a69a" />
<rect x="1193.95" y="825.58" width="4.40" height="1.11" fill="#26a69a" />
<rect x="1199.50" y="825.03" width="4.40" height="0.55" fill="#26a69a" />
<rect x="1205.04" y="824.48" width="4.40" height="0.55" fill="#26a69a" />
<rect x="1210.59" y="824.48" width="4.40" height="0.28" fill="#ef5350" />
<rect x="1216.13" y="824.76" width="4.40" height="0.42" fill="#ef5350" />
<rect x="1221.68" y="825.18" width="4.40" height="0.42" fill="#ef5350" />
<rect x="1227.22" y="824.51" width="4.40" height="1.08" fill="#26a69a" />
<rect x="1232.77" y="823.41" width="4.40" height="1.11" fill="#26a69a" />
<rect x="1238.31" y="822.38" width="4.40" height="1.03" fill="#26a69a" />
<rect x="1249.40" y="821.31" width="4.40" height="0.85" fill="#26a69a" />
<rect x="1254.95" y="819.05" width="4.40" height="2.26" fill="#26a69a" />
<rect x="1260.49" y="819.05" width="4.40" height="1.85" fill="#ef5350" />
<rect x="1266.04" y="818.81" width="4.40" height="2.09" fill="#26a69a" />
<rect x="1271.58" y="816.49" width="4.40" height="2.32" fill="#26a69a" />
<rect x="1315.94" y="816.97" width="4.40" height="1.28" fill="#ef5350" />
<rect x="1321.49" y="818.24" width="4.40" height="1.66" fill="#ef5350" />
<rect x="1327.03" y="819.91" width="4.40" height="0.93" fill="#ef5350" />
<rect x="1332.58" y="820.84" width="4.40" height="0.70" fill="#ef5350" />
<rect x="1338.12" y="821.13" width="4.40" height="0.42" fill="#26a69a" />
<rect x="1343.67" y="820.71" width="4.40" height="0.42" fill="#26a69a" />
<rect x="1349.21" y="820.34" width="4.40" height="0.37" fill="#26a69a" />
<rect x="1393.57" y="818.42" width="4.40" height="0.55" fill="#26a69a" />
<rect x="1399.12" y="817.78" width="4.40" height="0.64" fill="#26a69a" />
<rect x="1404.66" y="816.86" width="4.40" height="0.92" fill="#26a69a" />
<rect x="1410.21" y="815.98" width="4.40" height="0.87" fill="#26a69a" />
<rect x="1415.75" y="815.73" width="4.40" height="0.26" fill="#26a69a" />
<rect x="1421.30" y="815.47" width="4.40" height="0.26" fill="#26a69a" />
<line x1="26.16" y1="842.46" x2="26.16" y2="847.10" stroke="#a9abb3" stroke-width="0.9" stroke-opacity="0.7"/>
<line x1="37.25" y1="843.14" x2="37.25" y2="846.31" stroke="#a9abb3" stroke-width="0.9" stroke-opacity="0.7"/>
<line x1="48.34" y1="841.41" x2="48.34" y2="845.67" stroke="#a9abb3" stroke-width="0.9" stroke-opacity="0.7"/>
<line x1="53.88" y1="840.40" x2="53.88" y2="844.92" stroke="#a9abb3" stroke-width="0.9" stroke-opacity="0.7"/>
<line x1="59.43" y1="841.17" x2="59.43" y2="845.12" stroke="#a9abb3" stroke-width="0.9" stroke-opacity="0.7"/>
<line x1="70.52" y1="842.14" x2="70.52" y2="846.51" stroke="#a9abb3" stroke-width="0.9" stroke-opacity="0.7"/>
<line x1="76.06" y1="842.14" x2="76.06" y2="846.69" stroke="#a9abb3" stroke-width="0.9" stroke-opacity="0.7"/>
<line x1="87.16" y1="841.93" x2="87.16" y2="846.44" stroke="#a9abb3" stroke-width="0.9" stroke-opacity="0.7"/>
<line x1="120.43" y1="842.38" x2="120.43" y2="846.83" stroke="#a9abb3" stroke-width="0.9" stroke-opacity="0.7"/>
<line x1="131.51" y1="842.43" x2="131.51" y2="846.41" stroke="#a9abb3" stroke-width="0.9" stroke-opacity="0.7"/>
<line x1="137.06" y1="842.45" x2="137.06" y2="846.23" stroke="#a9abb3" stroke-width="0.9" stroke-opacity="0.7"/>
<line x1="153.69" y1="842.52" x2="153.69" y2="846.28" stroke="#a9abb3" stroke-width="0.9" stroke-opacity="0.7"/>
<line x1="159.24" y1="842.69" x2="159.24" y2="846.41" stroke="#a9abb3" stroke-width="0.9" stroke-opacity="0.7"/>
<line x1="164.78" y1="842.32" x2="164.78" y2="846.28" stroke="#a9abb3" stroke-width="0.9" stroke-opacity="0.7"/>
<line x1="225.78" y1="842.04" x2="225.78" y2="846.37" stroke="#a9abb3" stroke-width="0.9" stroke-opacity="0.7"/>
<line x1="231.32" y1="841.36" x2="231.32" y2="845.98" stroke="#a9abb3" stroke-width="0.9" stroke-opacity="0.7"/>
<line x1="253.50" y1="837.59" x2="253.50" y2="840.74" stroke="#a9abb3" stroke-width="0.9" stroke-opacity="0.7"/>
<line x1="259.05" y1="836.44" x2="259.05" y2="839.55" stroke="#a9abb3" stroke-width="0.9" stroke-opacity="0.7"/>
<line x1="270.14" y1="836.29" x2="270.14" y2="841.33" stroke="#a9abb3" stroke-width="0.9" stroke-opacity="0.7"/>
<line x1="286.77" y1="832.98" x2="286.77" y2="838.17" stroke="#a9abb3" stroke-width="0.9" stroke-opacity="0.7"/>
<line x1="342.22" y1="834.38" x2="342.22" y2="838.34" stroke="#a9abb3" stroke-width="0.9" stroke-opacity="0.7"/>
<line x1="369.95" y1="832.67" x2="369.95" y2="837.32" stroke="#a9abb3" stroke-width="0.9" stroke-opacity="0.7"/>
<line x1="392.13" y1="829.74" x2="392.13" y2="832.90" stroke="#a9abb3" stroke-width="0.9" stroke-opacity="0.7"/>
<line x1="408.76" y1="829.70" x2="408.76" y2="833.18" stroke="#a9abb3" stroke-width="0.9" stroke-opacity="0.7"/>
<line x1="414.31" y1="829.65" x2="414.31" y2="834.33" stroke="#a9abb3" stroke-width="0.9" stroke-opacity="0.7"/>
<line x1="425.40" y1="830.65" x2="425.40" y2="835.58" stroke="#a9abb3" stroke-width="0.9" stroke-opacity="0.7"/>
<line x1="436.49" y1="831.91" x2="436.49" y2="834.90" stroke="#a9abb3" stroke-width="0.9" stroke-opacity="0.7"/>
<line x1="458.67" y1="831.96" x2="458.67" y2="835.98" stroke="#a9abb3" stroke-width="0.9" stroke-opacity="0.7"/>
<line x1="475.31" y1="831.40" x2="475.31" y2="835.84" stroke="#a9abb3" stroke-width="0.9" stroke-opacity="0.7"/>
<line x1="486.39" y1="831.43" x2="486.39" y2="836.28" stroke="#a9abb3" stroke-width="0.9" stroke-opacity="0.7"/>
<line x1="508.57" y1="831.56" x2="508.57" y2="835.33" stroke="#a9abb3" stroke-width="0.9" stroke-opacity="0.7"/>
<line x1="519.66" y1="831.07" x2="519.66" y2="836.15" stroke="#a9abb3" stroke-width="0.9" stroke-opacity="0.7"/>
<line x1="536.30" y1="832.63" x2="536.30" y2="836.78" stroke="#a9abb3" stroke-width="0.9" stroke-opacity="0.7"/>
<line x1="558.48" y1="831.73" x2="558.48" y2="836.82" stroke="#a9abb3" stroke-width="0.9" stroke-opacity="0.7"/>
<line x1="564.03" y1="832.37" x2="564.03" y2="836.50" stroke="#a9abb3" stroke-width="0.9" stroke-opacity="0.7"/>
<line x1="580.66" y1="829.98" x2="580.66" y2="834.07" stroke="#a9abb3" stroke-width="0.9" stroke-opacity="0.7"/>
<line x1="586.21" y1="827.04" x2="586.21" y2="831.74" stroke="#a9abb3" stroke-width="0.9" stroke-opacity="0.7"/>
<line x1="597.30" y1="825.68" x2="597.30" y2="830.83" stroke="#a9abb3" stroke-width="0.9" stroke-opacity="0.7"/>
<line x1="625.02" y1="827.82" x2="625.02" y2="831.59" stroke="#a9abb3" stroke-width="0.9" stroke-opacity="0.7"/>
<line x1="641.66" y1="828.02" x2="641.66" y2="832.89" stroke="#a9abb3" stroke-width="0.9" stroke-opacity="0.7"/>
<line x1="652.75" y1="829.32" x2="652.75" y2="832.91" stroke="#a9abb3" stroke-width="0.9" stroke-opacity="0.7"/>
<line x1="669.38" y1="830.47" x2="669.38" y2="834.03" stroke="#a9abb3" stroke-width="0.9" stroke-opacity="0.7"/>
<line x1="674.93" y1="830.42" x2="674.93" y2="834.02" stroke="#a9abb3" stroke-width="0.9" stroke-opacity="0.7"/>
<line x1="708.20" y1="832.98" x2="708.20" y2="837.15" stroke="#a9abb3" stroke-width="0.9" stroke-opacity="0.7"/>
<line x1="713.74" y1="832.78" x2="713.74" y2="836.20" stroke="#a9abb3" stroke-width="0.9" stroke-opacity="0.7"/>
<line x1="724.83" y1="833.04" x2="724.83" y2="836.44" stroke="#a9abb3" stroke-width="0.9" stroke-opacity="0.7"/>
<line x1="730.38" y1="832.40" x2="730.38" y2="837.18" stroke="#a9abb3" stroke-width="0.9" stroke-opacity="0.7"/>
<line x1="752.56" y1="832.87" x2="752.56" y2="836.78" stroke="#a9abb3" stroke-width="0.9" stroke-opacity="0.7"/>
<line x1="763.65" y1="831.78" x2="763.65" y2="835.90" stroke="#a9abb3" stroke-width="0.9" stroke-opacity="0.7"/>
<line x1="769.19" y1="830.84" x2="769.19" y2="835.38" stroke="#a9abb3" stroke-width="0.9" stroke-opacity="0.7"/>
<line x1="774.74" y1="831.52" x2="774.74" y2="835.38" stroke="#a9abb3" stroke-width="0.9" stroke-opacity="0.7"/>
<line x1="791.37" y1="831.37" x2="791.37" y2="834.81" stroke="#a9abb3" stroke-width="0.9" stroke-opacity="0.7"/>
<line x1="796.92" y1="830.94" x2="796.92" y2="834.87" stroke="#a9abb3" stroke-width="0.9" stroke-opacity="0.7"/>
<line x1="802.46" y1="829.63" x2="802.46" y2="835.08" stroke="#a9abb3" stroke-width="0.9" stroke-opacity="0.7"/>
<line x1="835.73" y1="827.73" x2="835.73" y2="831.82" stroke="#a9abb3" stroke-width="0.9" stroke-opacity="0.7"/>
<line x1="874.55" y1="829.02" x2="874.55" y2="833.63" stroke="#a9abb3" stroke-width="0.9" stroke-opacity="0.7"/>
<line x1="885.63" y1="828.45" x2="885.63" y2="832.72" stroke="#a9abb3" stroke-width="0.9" stroke-opacity="0.7"/>
<line x1="896.73" y1="827.46" x2="896.73" y2="831.83" stroke="#a9abb3" stroke-width="0.9" stroke-opacity="0.7"/>
<line x1="924.45" y1="825.76" x2="924.45" y2="830.71" stroke="#a9abb3" stroke-width="0.9" stroke-opacity="0.7"/>
<line x1="941.09" y1="824.82" x2="941.09" y2="830.03" stroke="#a9abb3" stroke-width="0.9" stroke-opacity="0.7"/>
<line x1="957.72" y1="825.64" x2="957.72" y2="829.79" stroke="#a9abb3" stroke-width="0.9" stroke-opacity="0.7"/>
<line x1="968.81" y1="827.77" x2="968.81" y2="831.41" stroke="#a9abb3" stroke-width="0.9" stroke-opacity="0.7"/>
<line x1="996.54" y1="824.94" x2="996.54" y2="829.38" stroke="#a9abb3" stroke-width="0.9" stroke-opacity="0.7"/>
<line x1="1040.89" y1="826.75" x2="1040.89" y2="830.32" stroke="#a9abb3" stroke-width="0.9" stroke-opacity="0.7"/>
<line x1="1046.44" y1="827.40" x2="1046.44" y2="830.45" stroke="#a9abb3" stroke-width="0.9" stroke-opacity="0.7"/>
<line x1="1051.98" y1="826.63" x2="1051.98" y2="830.88" stroke="#a9abb3" stroke-width="0.9" stroke-opacity="0.7"/>
<line x1="1096.35" y1="826.04" x2="1096.35" y2="831.17" stroke="#a9abb3" stroke-width="0.9" stroke-opacity="0.7"/>
<line x1="1101.89" y1="827.03" x2="1101.89" y2="831.83" stroke="#a9abb3" stroke-width="0.9" stroke-opacity="0.7"/>
<line x1="1107.43" y1="827.77" x2="1107.43" y2="831.91" stroke="#a9abb3" stroke-width="0.9" stroke-opacity="0.7"/>
<line x1="1112.98" y1="827.33" x2="1112.98" y2="831.93" stroke="#a9abb3" stroke-width="0.9" stroke-opacity="0.7"/>
<line x1="1146.25" y1="827.38" x2="1146.25" y2="831.52" stroke="#a9abb3" stroke-width="0.9" stroke-opacity="0.7"/>
<line x1="1162.88" y1="824.54" x2="1162.88" y2="827.55" stroke="#a9abb3" stroke-width="0.9" stroke-opacity="0.7"/>
<line x1="1168.43" y1="823.42" x2="1168.43" y2="827.96" stroke="#a9abb3" stroke-width="0.9" stroke-opacity="0.7"/>
<line x1="1185.06" y1="826.81" x2="1185.06" y2="831.40" stroke="#a9abb3" stroke-width="0.9" stroke-opacity="0.7"/>
<line x1="1201.70" y1="822.05" x2="1201.70" y2="826.74" stroke="#a9abb3" stroke-width="0.9" stroke-opacity="0.7"/>
<line x1="1212.79" y1="822.67" x2="1212.79" y2="826.37" stroke="#a9abb3" stroke-width="0.9" stroke-opacity="0.7"/>
<line x1="1223.88" y1="823.00" x2="1223.88" y2="826.99" stroke="#a9abb3" stroke-width="0.9" stroke-opacity="0.7"/>
<line x1="1246.06" y1="820.12" x2="1246.06" y2="824.26" stroke="#a9abb3" stroke-width="0.9" stroke-opacity="0.7"/>
<line x1="1257.15" y1="816.09" x2="1257.15" y2="820.27" stroke="#a9abb3" stroke-width="0.9" stroke-opacity="0.7"/>
<line x1="1268.24" y1="816.64" x2="1268.24" y2="821.18" stroke="#a9abb3" stroke-width="0.9" stroke-opacity="0.7"/>
<line x1="1307.05" y1="814.68" x2="1307.05" y2="818.62" stroke="#a9abb3" stroke-width="0.9" stroke-opacity="0.7"/>
<line x1="1312.60" y1="814.56" x2="1312.60" y2="818.42" stroke="#a9abb3" stroke-width="0.9" stroke-opacity="0.7"/>
<line x1="1423.50" y1="813.43" x2="1423.50" y2="816.84" stroke="#a9abb3" stroke-width="0.9" stroke-opacity="0.7"/>
<polyline points="15.1,844.40 20.6,844.61 26.2,844.83 31.7,845.04 37.2,845.05 42.8,844.37 48.3,843.69 53.9,843.01 59.4,843.61 65.0,844.23 70.5,844.78 76.1,844.56 81.6,844.34 87.2,844.11 92.7,844.15 98.2,844.45 103.8,844.75 109.3,845.05 114.9,845.12 120.4,844.96 126.0,844.80 131.5,844.64 137.1,844.48 142.6,844.43 148.1,844.48 153.7,844.54 159.2,844.59 164.8,844.65 170.3,844.70 175.9,844.76 181.4,844.74 187.0,844.52 192.5,844.30 198.1,844.08 203.6,844.00 209.1,844.00 214.7,844.00 220.2,844.00 225.8,844.00 231.3,844.00 236.9,844.00 242.4,842.59 248.0,840.70 253.5,839.30 259.1,838.19 264.6,838.92 270.1,839.31 275.7,838.58 281.2,837.63 286.8,835.97 292.3,834.68 297.9,833.90 303.4,833.87 309.0,834.32 314.5,834.85 320.0,835.40 325.6,835.96 331.1,836.09 336.7,836.18 342.2,836.27 347.8,836.36 353.3,836.17 358.9,835.78 364.4,835.39 369.9,835.00 375.5,834.52 381.0,834.03 386.6,833.41 392.1,831.61 397.7,831.23 403.2,831.58 408.8,831.92 414.3,832.34 419.9,832.79 425.4,833.23 430.9,833.60 436.5,833.60 442.0,833.60 447.6,833.60 453.1,833.73 458.7,833.95 464.2,834.17 469.8,834.39 475.3,834.29 480.8,834.18 486.4,834.07 491.9,833.96 497.5,833.85 503.0,833.74 508.6,833.63 514.1,833.76 519.7,833.99 525.2,834.21 530.8,834.42 536.3,834.59 541.8,834.76 547.4,834.92 552.9,834.85 558.5,834.58 564.0,834.30 569.6,834.02 575.1,833.15 580.7,832.22 586.2,829.90 591.8,828.17 597.3,828.73 602.8,829.00 608.4,829.00 613.9,829.00 619.5,829.00 625.0,829.50 630.6,830.06 636.1,830.61 641.7,831.08 647.2,831.36 652.7,831.64 658.3,831.91 663.8,832.08 669.4,832.19 674.9,832.30 680.5,832.42 686.0,832.63 691.6,832.83 697.1,833.18 702.7,834.11 708.2,834.99 713.7,834.71 719.3,834.44 724.8,834.69 730.4,835.02 735.9,835.36 741.5,835.55 747.0,835.34 752.6,835.13 758.1,834.65 763.6,833.73 769.2,833.06 774.7,833.34 780.3,833.60 785.8,833.60 791.4,833.60 796.9,833.60 802.5,832.71 808.0,830.72 813.6,829.11 819.1,828.22 824.6,829.33 830.2,830.02 835.7,830.57 841.3,831.00 846.8,831.00 852.4,831.00 857.9,831.00 863.5,831.17 869.0,831.45 874.5,831.38 880.1,830.91 885.6,830.43 891.2,830.27 896.7,830.13 902.3,830.05 907.8,831.16 913.4,830.93 918.9,829.82 924.5,828.71 930.0,828.24 935.5,828.02 941.1,827.80 946.6,827.64 952.2,828.01 957.7,828.38 963.3,828.93 968.8,829.48 974.4,829.93 979.9,828.89 985.4,827.85 991.0,827.07 996.5,827.49 1002.1,827.87 1007.6,828.24 1013.2,828.50 1018.7,828.66 1024.3,828.83 1029.8,828.99 1035.3,829.00 1040.9,829.00 1046.4,829.00 1052.0,829.00 1057.5,829.00 1063.1,829.00 1068.6,829.00 1074.2,828.92 1079.7,828.81 1085.3,828.69 1090.8,828.66 1096.3,829.04 1101.9,829.43 1107.4,829.82 1113.0,830.05 1118.5,830.13 1124.1,830.22 1129.6,830.30 1135.2,830.39 1140.7,830.13 1146.2,829.81 1151.8,828.88 1157.3,826.66 1162.9,826.20 1168.4,826.11 1174.0,827.49 1179.5,828.88 1185.1,829.00 1190.6,826.70 1196.2,825.58 1201.7,825.03 1207.2,824.48 1212.8,824.76 1218.3,825.18 1223.9,825.59 1229.4,824.51 1235.0,823.41 1240.5,822.38 1246.1,822.16 1251.6,821.31 1257.1,819.05 1262.7,820.90 1268.2,818.81 1273.8,816.49 1279.3,816.40 1284.9,816.40 1290.4,816.41 1296.0,816.55 1301.5,816.69 1307.1,816.83 1312.6,816.97 1318.1,818.24 1323.7,819.91 1329.2,820.84 1334.8,821.54 1340.3,821.13 1345.9,820.71 1351.4,820.34 1357.0,820.12 1362.5,819.90 1368.0,819.68 1373.6,819.49 1379.1,819.33 1384.7,819.16 1390.2,818.98 1395.8,818.42 1401.3,817.78 1406.9,816.86 1412.4,815.98 1418.0,815.73 1423.5,815.47" fill="none" stroke="#f57c00" stroke-width="1.3" stroke-opacity="0.7" transform="translate(0,0.45)"/>
<polyline points="15.1,844.40 20.6,844.61 26.2,844.83 31.7,845.04 37.2,845.05 42.8,844.37 48.3,843.69 53.9,843.01 59.4,843.61 65.0,844.23 70.5,844.78 76.1,844.56 81.6,844.34 87.2,844.11 92.7,844.15 98.2,844.45 103.8,844.75 109.3,845.05 114.9,845.12 120.4,844.96 126.0,844.80 131.5,844.64 137.1,844.48 142.6,844.43 148.1,844.48 153.7,844.54 159.2,844.59 164.8,844.65 170.3,844.70 175.9,844.76 181.4,844.74 187.0,844.52 192.5,844.30 198.1,844.08 203.6,844.00 209.1,844.00 214.7,844.00 220.2,844.00 225.8,844.00 231.3,844.00 236.9,844.00 242.4,842.59 248.0,840.70 253.5,839.30 259.1,838.19 264.6,838.92 270.1,839.31 275.7,838.58 281.2,837.63 286.8,835.97 292.3,834.68 297.9,833.90 303.4,833.87 309.0,834.32 314.5,834.85 320.0,835.40 325.6,835.96 331.1,836.09 336.7,836.18 342.2,836.27 347.8,836.36 353.3,836.17 358.9,835.78 364.4,835.39 369.9,835.00 375.5,834.52 381.0,834.03 386.6,833.41 392.1,831.61 397.7,831.23 403.2,831.58 408.8,831.92 414.3,832.34 419.9,832.79 425.4,833.23 430.9,833.60 436.5,833.60 442.0,833.60 447.6,833.60 453.1,833.73 458.7,833.95 464.2,834.17 469.8,834.39 475.3,834.29 480.8,834.18 486.4,834.07 491.9,833.96 497.5,833.85 503.0,833.74 508.6,833.63 514.1,833.76 519.7,833.99 525.2,834.21 530.8,834.42 536.3,834.59 541.8,834.76 547.4,834.92 552.9,834.85 558.5,834.58 564.0,834.30 569.6,834.02 575.1,833.15 580.7,832.22 586.2,829.90 591.8,828.17 597.3,828.73 602.8,829.00 608.4,829.00 613.9,829.00 619.5,829.00 625.0,829.50 630.6,830.06 636.1,830.61 641.7,831.08 647.2,831.36 652.7,831.64 658.3,831.91 663.8,832.08 669.4,832.19 674.9,832.30 680.5,832.42 686.0,832.63 691.6,832.83 697.1,833.18 702.7,834.11 708.2,834.99 713.7,834.71 719.3,834.44 724.8,834.69 730.4,835.02 735.9,835.36 741.5,835.55 747.0,835.34 752.6,835.13 758.1,834.65 763.6,833.73 769.2,833.06 774.7,833.34 780.3,833.60 785.8,833.60 791.4,833.60 796.9,833.60 802.5,832.71 808.0,830.72 813.6,829.11 819.1,828.22 824.6,829.33 830.2,830.02 835.7,830.57 841.3,831.00 846.8,831.00 852.4,831.00 857.9,831.00 863.5,831.17 869.0,831.45 874.5,831.38 880.1,830.91 885.6,830.43 891.2,830.27 896.7,830.13 902.3,830.05 907.8,831.16 913.4,830.93 918.9,829.82 924.5,828.71 930.0,828.24 935.5,828.02 941.1,827.80 946.6,827.64 952.2,828.01 957.7,828.38 963.3,828.93 968.8,829.48 974.4,829.93 979.9,828.89 985.4,827.85 991.0,827.07 996.5,827.49 1002.1,827.87 1007.6,828.24 1013.2,828.50 1018.7,828.66 1024.3,828.83 1029.8,828.99 1035.3,829.00 1040.9,829.00 1046.4,829.00 1052.0,829.00 1057.5,829.00 1063.1,829.00 1068.6,829.00 1074.2,828.92 1079.7,828.81 1085.3,828.69 1090.8,828.66 1096.3,829.04 1101.9,829.43 1107.4,829.82 1113.0,830.05 1118.5,830.13 1124.1,830.22 1129.6,830.30 1135.2,830.39 1140.7,830.13 1146.2,829.81 1151.8,828.88 1157.3,826.66 1162.9,826.20 1168.4,826.11 1174.0,827.49 1179.5,828.88 1185.1,829.00 1190.6,826.70 1196.2,825.58 1201.7,825.03 1207.2,824.48 1212.8,824.76 1218.3,825.18 1223.9,825.59 1229.4,824.51 1235.0,823.41 1240.5,822.38 1246.1,822.16 1251.6,821.31 1257.1,819.05 1262.7,820.90 1268.2,818.81 1273.8,816.49 1279.3,816.40 1284.9,816.40 1290.4,816.41 1296.0,816.55 1301.5,816.69 1307.1,816.83 1312.6,816.97 1318.1,818.24 1323.7,819.91 1329.2,820.84 1334.8,821.54 1340.3,821.13 1345.9,820.71 1351.4,820.34 1357.0,820.12 1362.5,819.90 1368.0,819.68 1373.6,819.49 1379.1,819.33 1384.7,819.16 1390.2,818.98 1395.8,818.42 1401.3,817.78 1406.9,816.86 1412.4,815.98 1418.0,815.73 1423.5,815.47" fill="none" stroke="#f3dc3c" stroke-width="1.1"/>
</g>
<rect x="19.8" y="3.6" width="800.7" height="27.8" rx="2" fill="#171b26" fill-opacity="0.5"/>
<rect x="19.8" y="97.4" width="1223.2" height="27.8" rx="2" fill="#171b26" fill-opacity="0.5"/>
<rect x="19.8" y="125.2" width="114.8" height="27.8" rx="2" fill="#171b26" fill-opacity="0.5"/>
<rect x="19.8" y="152.8" width="478.2" height="27.8" rx="2" fill="#171b26" fill-opacity="0.5"/>
<rect x="19.8" y="180.3" width="327.9" height="27.8" rx="2" fill="#171b26" fill-opacity="0.5"/>
<rect x="19.8" y="207.6" width="313.7" height="27.8" rx="2" fill="#171b26" fill-opacity="0.5"/>
<rect x="19.8" y="707.2" width="445.3" height="27.8" rx="2" fill="#171b26" fill-opacity="0.5"/>
<rect x="19.8" y="814.8" width="528.1" height="27.8" rx="2" fill="#171b26" fill-opacity="0.5"/>
<rect x="19.8" y="856.4" width="663.3" height="27.8" rx="2" fill="#171b26" fill-opacity="0.5"/>
<rect x="19.8" y="899.8" width="510.1" height="27.8" rx="2" fill="#171b26" fill-opacity="0.5"/><circle cx="47.6" cy="920.5" r="18.9" fill="#1b1c20" fill-opacity="0.96" stroke="#3d3f45" stroke-width="1"/>
<g fill="#8f9199"><path d="M36.6,913.4 h10 v13.6 h-5.1 v-8.6 h-4.9z"/><circle cx="50.4" cy="915.9" r="2.3"/><path d="M51.6,927 L56.6,913.4 L62,913.4 L57,927z"/></g>

<g transform="translate(483.9,167.1)" fill="none" stroke="#d1d4dc" stroke-width="1.5" stroke-linecap="round">
<path d="M-8.6,0 C-5.8,-8.2 5.8,-8.2 8.6,0 C5.8,8.2 -5.8,8.2 -8.6,0Z"/><circle r="2.7"/>
<line x1="-6.9" y1="6.9" x2="7" y2="-6.8" stroke="#171b26" stroke-width="4.2"/><line x1="-6.9" y1="6.9" x2="7" y2="-6.8"/></g>
<g transform="translate(319.5,222.1)" fill="none" stroke="#d1d4dc" stroke-width="1.5" stroke-linecap="round">
<path d="M-8.6,0 C-5.8,-8.2 5.8,-8.2 8.6,0 C5.8,8.2 -5.8,8.2 -8.6,0Z"/><circle r="2.7"/>
<line x1="-6.9" y1="6.9" x2="7" y2="-6.8" stroke="#171b26" stroke-width="4.2"/><line x1="-6.9" y1="6.9" x2="7" y2="-6.8"/></g>
<rect x="25.75" y="238.75" width="32.5" height="23.2" rx="3.6" fill="#171b26" stroke="#3a3b40" stroke-width="1.5"/>
<polyline points="37.3,252.2 41.85,248.0 46.4,252.2" fill="none" stroke="#e4e6ec" stroke-width="1.6" stroke-linecap="round" stroke-linejoin="round"/>
<rect x="3.4" y="932.8" width="8.8" height="30.6" rx="4.4" fill="#131722" stroke="#2c303b" stroke-width="1"/>
<polyline points="10.0,944.4 7.1,948.6 10.0,952.9" fill="none" stroke="#c4c7d0" stroke-width="1.3" stroke-linecap="round" stroke-linejoin="round"/>
<g fill="none" stroke="#d1d4dc" stroke-width="1.5" stroke-linecap="round" stroke-linejoin="round">
<path d="M289.9,1007.6 V1002.4 Q289.9,999.9 292.4,999.9 H306.7 Q309.2,999.9 309.2,1002.4 V1014.6 Q309.2,1017.1 306.7,1017.1 H298.9"/>
<path d="M289.9,1004.6 H309.2 M295.4,996.9 V1001.6 M303.5,996.9 V1001.6 M287.9,1013.7 H296.5 M292.8,1009.9 L296.9,1013.7 L292.8,1017.6"/></g>
<rect x="272.2" y="996" width="1.6" height="25.2" fill="#2e3039"/>
<rect x="1476.5" y="996" width="1.6" height="25.2" fill="#4a4c55"/>
<g fill="none" stroke="#d1d4dc" stroke-width="1.5" stroke-linejoin="round"><polygon points="1530.6,970.3 1534.5,963.3 1542.5,963.3 1546.4,970.3 1542.5,977.3 1534.5,977.3"/><circle cx="1538.5" cy="970.3" r="2.3"/></g>
</svg>
<div id="labels">
<div class="t" style="left:1486.31px;top:94.53px;font-size:14.0px;line-height:15.64px;letter-spacing:0.788px;color:#b4b7c0;">124,000.00000</div>
<div class="t" style="left:1486.31px;top:143.33px;font-size:14.0px;line-height:15.64px;letter-spacing:0.788px;color:#b4b7c0;">120,000.00000</div>
<div class="t" style="left:1486.31px;top:192.13px;font-size:14.0px;line-height:15.64px;letter-spacing:0.875px;color:#b4b7c0;">116,000.00000</div>
<div class="t" style="left:1486.31px;top:240.93px;font-size:14.0px;line-height:15.64px;letter-spacing:0.875px;color:#b4b7c0;">112,000.00000</div>
<div class="t" style="left:1486.31px;top:289.73px;font-size:14.0px;line-height:15.64px;letter-spacing:0.788px;color:#b4b7c0;">108,000.00000</div>
<div class="t" style="left:1486.31px;top:338.53px;font-size:14.0px;line-height:15.64px;letter-spacing:0.788px;color:#b4b7c0;">104,000.00000</div>
<div class="t" style="left:1486.31px;top:387.33px;font-size:14.0px;line-height:15.64px;letter-spacing:0.788px;color:#b4b7c0;">100,000.00000</div>
<div class="t" style="left:1486.31px;top:436.13px;font-size:14.0px;line-height:15.64px;letter-spacing:0.814px;color:#b4b7c0;">96,000.00000</div>
<div class="t" style="left:1486.31px;top:484.93px;font-size:14.0px;line-height:15.64px;letter-spacing:0.814px;color:#b4b7c0;">92,000.00000</div>
<div class="t" style="left:1486.31px;top:533.73px;font-size:14.0px;line-height:15.64px;letter-spacing:0.814px;color:#b4b7c0;">88,000.00000</div>
<div class="t" style="left:1486.31px;top:582.53px;font-size:14.0px;line-height:15.64px;letter-spacing:0.814px;color:#b4b7c0;">84,000.00000</div>
<div class="t" style="left:1486.31px;top:631.33px;font-size:14.0px;line-height:15.64px;letter-spacing:0.814px;color:#b4b7c0;">80,000.00000</div>
<div class="t" style="left:1486.31px;top:680.13px;font-size:14.0px;line-height:15.64px;letter-spacing:0.814px;color:#b4b7c0;">76,000.00000</div>
<div class="t" style="left:1486.00px;top:747.03px;font-size:14.0px;line-height:15.64px;letter-spacing:0.000px;color:#b4b7c0;">0</div>
<div class="t" style="left:1486.00px;top:918.03px;font-size:14.0px;line-height:15.64px;letter-spacing:0.000px;color:#b4b7c0;">0</div>
<div class="t" style="left:78.96px;top:963.13px;font-size:14.0px;line-height:15.64px;letter-spacing:1.212px;color:#b4b7c0;">16</div>
<div class="t" style="left:178.77px;top:963.13px;font-size:14.0px;line-height:15.64px;letter-spacing:1.212px;color:#b4b7c0;">19</div>
<div class="t" style="left:278.58px;top:963.13px;font-size:14.0px;line-height:15.64px;letter-spacing:1.212px;color:#b4b7c0;">22</div>
<div class="t" style="left:378.39px;top:963.13px;font-size:14.0px;line-height:15.64px;letter-spacing:1.212px;color:#b4b7c0;">25</div>
<div class="t" style="left:478.20px;top:963.13px;font-size:14.0px;line-height:15.64px;letter-spacing:1.212px;color:#b4b7c0;">28</div>
<div class="t" style="left:572.01px;top:963.13px;font-size:14.0px;line-height:15.64px;letter-spacing:0.778px;color:#d1d4dc;font-weight:700;">May</div>
<div class="t" style="left:682.02px;top:963.13px;font-size:14.0px;line-height:15.64px;letter-spacing:0.000px;color:#b4b7c0;">4</div>
<div class="t" style="left:781.83px;top:963.13px;font-size:14.0px;line-height:15.64px;letter-spacing:0.000px;color:#b4b7c0;">7</div>
<div class="t" style="left:877.44px;top:963.13px;font-size:14.0px;line-height:15.64px;letter-spacing:1.212px;color:#b4b7c0;">10</div>
<div class="t" style="left:977.25px;top:963.13px;font-size:14.0px;line-height:15.64px;letter-spacing:1.212px;color:#b4b7c0;">13</div>
<div class="t" style="left:1077.06px;top:963.13px;font-size:14.0px;line-height:15.64px;letter-spacing:1.212px;color:#b4b7c0;">16</div>
<div class="t" style="left:1176.87px;top:963.13px;font-size:14.0px;line-height:15.64px;letter-spacing:1.212px;color:#b4b7c0;">19</div>
<div class="t" style="left:1276.68px;top:963.13px;font-size:14.0px;line-height:15.64px;letter-spacing:1.212px;color:#b4b7c0;">22</div>
<div class="t" style="left:1376.49px;top:963.13px;font-size:14.0px;line-height:15.64px;letter-spacing:1.212px;color:#b4b7c0;">25</div>
<div class="t" style="left:30.67px;top:999.73px;font-size:17.2px;line-height:19.21px;letter-spacing:0.906px;color:#d1d4dc;">5y</div>
<div class="t" style="left:64.07px;top:999.73px;font-size:17.2px;line-height:19.21px;letter-spacing:-0.094px;color:#d1d4dc;">1y</div>
<div class="t" style="left:94.87px;top:999.73px;font-size:17.2px;line-height:19.21px;letter-spacing:0.571px;color:#d1d4dc;">6m</div>
<div class="t" style="left:132.87px;top:999.73px;font-size:17.2px;line-height:19.21px;letter-spacing:0.371px;color:#d1d4dc;">3m</div>
<div class="t" style="left:171.27px;top:999.73px;font-size:17.2px;line-height:19.21px;letter-spacing:-0.829px;color:#d1d4dc;">1m</div>
<div class="t" style="left:207.67px;top:999.73px;font-size:17.2px;line-height:19.21px;letter-spacing:0.937px;color:#d1d4dc;">5d</div>
<div class="t" style="left:242.27px;top:999.73px;font-size:17.2px;line-height:19.21px;letter-spacing:-0.063px;color:#d1d4dc;">1d</div>
<div class="t" style="left:1343.67px;top:999.73px;font-size:17.2px;line-height:19.21px;letter-spacing:-0.049px;color:#d1d4dc;">10:36:37 UTC-5</div>
<div class="t" style="left:1489.07px;top:999.73px;font-size:17.2px;line-height:19.21px;letter-spacing:0.000px;color:#d1d4dc;">%</div>
<div class="t" style="left:1518.67px;top:999.73px;font-size:17.2px;line-height:19.21px;letter-spacing:0.362px;color:#d1d4dc;">log</div>
<div class="t" style="left:1555.47px;top:999.73px;font-size:17.2px;line-height:19.21px;letter-spacing:0.036px;color:#2962ff;">auto</div>
<div class="tag" style="left:1477.2px;top:19.9px;width:97.0px;height:20.0px;background:#ef5350"></div>
<div class="tag" style="left:1477.2px;top:39.2px;width:97.0px;height:20.1px;background:#ab2b3d"></div>
<div class="tag" style="left:1477.2px;top:58.6px;width:113.8px;height:20.6px;background:#ef5350"></div>
<div class="tag" style="left:1477.2px;top:188.9px;width:51.5px;height:20.3px;background:#ef5350"></div>
<div class="tag" style="left:1477.2px;top:208.5px;width:64.4px;height:20.1px;background:#ef5350"></div>
<div class="tag" style="left:1477.2px;top:227.9px;width:51.5px;height:20.2px;background:#ef5350"></div>
<div class="tag" style="left:1477.2px;top:264.5px;width:118.6px;height:20.2px;background:#26a69a"></div>
<div class="tag" style="left:1477.2px;top:312.7px;width:51.5px;height:20.2px;background:#26a69a"></div>
<div class="tag" style="left:1477.2px;top:332.2px;width:51.5px;height:20.5px;background:#26a69a"></div>
<div class="tag" style="left:1477.2px;top:352.0px;width:64.4px;height:20.5px;background:#26a69a"></div>
<div class="tag" style="left:1477.2px;top:670.3px;width:55.3px;height:20.0px;background:#22ab94"></div>
<div class="tag" style="left:1477.2px;top:727.1px;width:96.8px;height:20.9px;background:#26a69a"></div>
<div class="tag" style="left:1477.2px;top:811.0px;width:64.8px;height:20.5px;background:#26a69a"></div>
<div class="tag" style="left:1477.2px;top:866.5px;width:85.4px;height:20.5px;background:#ef5350"></div>
<div class="tag" style="left:1477.2px;top:929.3px;width:64.5px;height:20.4px;background:#ef5350"></div>
<div class="t" style="left:25.08px;top:10.79px;font-size:14.6px;line-height:16.31px;letter-spacing:0.428px;color:#c5c8d0;">Volume By Side (delta)</div>
<div class="t" style="left:188.68px;top:10.79px;font-size:14.6px;line-height:16.31px;letter-spacing:0.363px;color:#c5c8d0;">1M <span style="font-size:1.32em;line-height:0;position:relative;top:0.06em">∞</span> 4 0 Spot Coinbase Pro USD None (Spot)</div>
<div class="t" style="left:519.38px;top:10.79px;font-size:14.6px;line-height:16.31px;letter-spacing:1.279px;color:#e9514f;">−53.78821182</div>
<div class="t" style="left:632.88px;top:10.79px;font-size:14.6px;line-height:16.31px;letter-spacing:1.136px;color:#e9514f;">−16.005867</div>
<div class="t" style="left:728.38px;top:10.79px;font-size:14.6px;line-height:16.31px;letter-spacing:1.081px;color:#e9514f;">−16.005867</div>
<div class="t" style="left:24.88px;top:103.11px;font-size:17.0px;line-height:18.99px;letter-spacing:0.655px;color:#c5c8d0;">Bitcoin / Tether USDt (Perpetual Contract) · 4h · BINANCEUSDM</div>
<div class="t" style="left:562.99px;top:105.17px;font-size:14.4px;line-height:16.08px;letter-spacing:0.000px;color:#c5c8d0;">O</div>
<div class="t" style="left:576.45px;top:104.35px;font-size:15.3px;line-height:17.09px;letter-spacing:0.659px;color:#26a69a;">109,736.60156</div>
<div class="t" style="left:693.29px;top:105.17px;font-size:14.4px;line-height:16.08px;letter-spacing:0.000px;color:#c5c8d0;">H</div>
<div class="t" style="left:706.35px;top:104.35px;font-size:15.3px;line-height:17.09px;letter-spacing:0.779px;color:#26a69a;">110,400.00000</div>
<div class="t" style="left:823.79px;top:105.17px;font-size:14.4px;line-height:16.08px;letter-spacing:0.000px;color:#c5c8d0;">L</div>
<div class="t" style="left:833.65px;top:104.35px;font-size:15.3px;line-height:17.09px;letter-spacing:0.659px;color:#26a69a;">109,412.89844</div>
<div class="t" style="left:949.89px;top:105.17px;font-size:14.4px;line-height:16.08px;letter-spacing:0.000px;color:#c5c8d0;">C</div>
<div class="t" style="left:962.95px;top:104.35px;font-size:15.3px;line-height:17.09px;letter-spacing:0.676px;color:#26a69a;">109,989.60156</div>
<div class="t" style="left:1079.35px;top:104.35px;font-size:15.3px;line-height:17.09px;letter-spacing:0.600px;color:#26a69a;">+252.89844 (+0.23%)</div>
<div class="t" style="left:25.08px;top:132.39px;font-size:14.6px;line-height:16.31px;letter-spacing:0.591px;color:#c5c8d0;">Volume</div>
<div class="t" style="left:85.98px;top:132.39px;font-size:14.6px;line-height:16.31px;letter-spacing:0.951px;color:#22ab94;">21.9<span style="margin-left:1.8px">K</span></div>
<div class="t" style="left:25.08px;top:159.99px;font-size:14.6px;line-height:16.31px;letter-spacing:0.562px;color:#5b5e69;">Order Book Depth Overlay (aggregation) 2.5% 5% 75 20 20 All</div>
<div class="t" style="left:25.08px;top:187.49px;font-size:14.6px;line-height:16.31px;letter-spacing:0.535px;color:#c5c8d0;">Order Book Top Levels 2.5% 10% 0 <span style="font-size:1.32em;line-height:0;position:relative;top:0.06em">∞</span> Top 10</div>
<div class="t" style="left:25.08px;top:214.79px;font-size:14.6px;line-height:16.31px;letter-spacing:0.412px;color:#5b5e69;">VPVR Number Of Rows 24 Up/Down 70</div>
<div class="t" style="left:24.98px;top:714.39px;font-size:14.6px;line-height:16.31px;letter-spacing:0.444px;color:#c5c8d0;">Funding Rate (aggregation) Perpetuals + Futures</div>
<div class="t" style="left:373.18px;top:714.39px;font-size:14.6px;line-height:16.31px;letter-spacing:1.104px;color:#26a69a;">0.00554501</div>
<div class="t" style="left:24.98px;top:821.99px;font-size:14.6px;line-height:16.31px;letter-spacing:0.543px;color:#c5c8d0;">Open Interest (aggregation) All</div>
<div class="t" style="left:248.98px;top:821.99px;font-size:14.6px;line-height:16.31px;letter-spacing:1.016px;color:#26a69a;">32.29<span style="margin-left:1.8px">B</span></div>
<div class="t" style="left:309.38px;top:821.99px;font-size:14.6px;line-height:16.31px;letter-spacing:1.036px;color:#26a69a;">32.63<span style="margin-left:1.8px">B</span></div>
<div class="t" style="left:369.38px;top:821.99px;font-size:14.6px;line-height:16.31px;letter-spacing:1.096px;color:#26a69a;">32.12<span style="margin-left:1.8px">B</span></div>
<div class="t" style="left:429.38px;top:821.99px;font-size:14.6px;line-height:16.31px;letter-spacing:1.096px;color:#26a69a;">32.33<span style="margin-left:1.8px">B</span></div>
<div class="t" style="left:489.38px;top:821.99px;font-size:14.6px;line-height:16.31px;letter-spacing:1.116px;color:#f5e53b;">32.33<span style="margin-left:1.8px">B</span></div>
<div class="t" style="left:25.08px;top:863.59px;font-size:14.6px;line-height:16.31px;letter-spacing:0.485px;color:#c5c8d0;">Volume By Side (aggregation) Sum Chart Delta 1m - 10m 10 Perpetuals + Futures</div>
<div class="t" style="left:603.38px;top:863.59px;font-size:14.6px;line-height:16.31px;letter-spacing:1.100px;color:#e9514f;">−229.09<span style="margin-left:1.8px">M</span></div>
<div class="t" style="left:25.08px;top:906.99px;font-size:14.6px;line-height:16.31px;letter-spacing:0.418px;color:#c5c8d0;">Volume By Side Sum Chart Delta Any Size 10 Spot None (Spot)</div>
<div class="t" style="left:471.78px;top:906.99px;font-size:14.6px;line-height:16.31px;letter-spacing:0.954px;color:#e9514f;">−2.13<span style="margin-left:1.8px">K</span></div>
<div class="t" style="left:1485.81px;top:21.78px;font-size:14.0px;line-height:15.64px;letter-spacing:0.870px;color:#ffffff;">−16.005867</div>
<div class="t" style="left:1485.81px;top:41.13px;font-size:14.0px;line-height:15.64px;letter-spacing:0.870px;color:#ffffff;">−16.005867</div>
<div class="t" style="left:1485.81px;top:60.78px;font-size:14.0px;line-height:15.64px;letter-spacing:0.918px;color:#ffffff;">−53.78821182</div>
<div class="t" style="left:1485.81px;top:190.93px;font-size:14.0px;line-height:15.64px;letter-spacing:1.074px;color:#ffffff;">114<span style="margin-left:1.8px">K</span></div>
<div class="t" style="left:1485.81px;top:210.43px;font-size:14.0px;line-height:15.64px;letter-spacing:0.890px;color:#ffffff;">113.5<span style="margin-left:1.8px">K</span></div>
<div class="t" style="left:1485.81px;top:229.88px;font-size:14.0px;line-height:15.64px;letter-spacing:1.074px;color:#ffffff;">113<span style="margin-left:1.8px">K</span></div>
<div class="t" style="left:1485.81px;top:266.48px;font-size:14.0px;line-height:15.64px;letter-spacing:0.863px;color:#ffffff;">109,989.60156</div>
<div class="t" style="left:1485.81px;top:314.68px;font-size:14.0px;line-height:15.64px;letter-spacing:0.730px;color:#ffffff;">106<span style="margin-left:1.8px">K</span></div>
<div class="t" style="left:1485.81px;top:334.33px;font-size:14.0px;line-height:15.64px;letter-spacing:0.730px;color:#ffffff;">105<span style="margin-left:1.8px">K</span></div>
<div class="t" style="left:1485.81px;top:354.13px;font-size:14.0px;line-height:15.64px;letter-spacing:0.680px;color:#ffffff;">103.5<span style="margin-left:1.8px">K</span></div>
<div class="t" style="left:1485.81px;top:672.18px;font-size:14.0px;line-height:15.64px;letter-spacing:0.525px;color:#ffffff;">21.9<span style="margin-left:1.8px">K</span></div>
<div class="t" style="left:1485.81px;top:729.43px;font-size:14.0px;line-height:15.64px;letter-spacing:0.891px;color:#ffffff;">0.00554501</div>
<div class="t" style="left:1485.81px;top:813.13px;font-size:14.0px;line-height:15.64px;letter-spacing:0.760px;color:#ffffff;">32.33<span style="margin-left:1.8px">B</span></div>
<div class="t" style="left:1485.81px;top:868.63px;font-size:14.0px;line-height:15.64px;letter-spacing:0.874px;color:#ffffff;">−229.09<span style="margin-left:1.8px">M</span></div>
<div class="t" style="left:1485.81px;top:931.38px;font-size:14.0px;line-height:15.64px;letter-spacing:0.622px;color:#ffffff;">−2.13<span style="margin-left:1.8px">K</span></div>
</div>
</div>
</body></html>
